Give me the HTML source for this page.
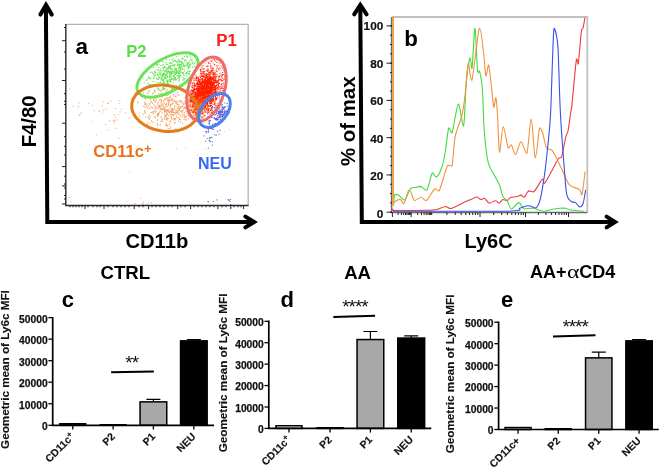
<!DOCTYPE html><html><head><meta charset="utf-8"><style>html,body{margin:0;padding:0;background:#fff;width:660px;height:468px;overflow:hidden}svg{display:block;will-change:transform}</style></head><body><svg width="660" height="468" viewBox="0 0 660 468"><g><path fill="#f6a870" fill-opacity="0.80" d="M114.9 116.3h1.2v1.2h-1.2zM107.8 102.8h1.2v1.2h-1.2zM102.9 101.4h1.2v1.2h-1.2zM115.9 127.8h1.2v1.2h-1.2zM101.6 105.5h1.2v1.2h-1.2zM128.5 117.6h1.2v1.2h-1.2zM118.5 102.9h1.2v1.2h-1.2zM113.8 120.6h1.2v1.2h-1.2zM77.7 106.0h1.2v1.2h-1.2zM79.4 114.1h1.2v1.2h-1.2zM119.5 111.2h1.2v1.2h-1.2zM113.6 114.2h1.2v1.2h-1.2zM72.5 105.5h1.2v1.2h-1.2zM88.1 102.7h1.2v1.2h-1.2zM145.1 105.7h1.2v1.2h-1.2zM113.6 122.7h1.2v1.2h-1.2zM98.7 110.9h1.2v1.2h-1.2zM118.1 113.9h1.2v1.2h-1.2zM80.7 112.0h1.2v1.2h-1.2zM153.9 98.0h1.2v1.2h-1.2zM139.0 115.6h1.2v1.2h-1.2zM95.9 134.0h1.2v1.2h-1.2zM137.0 100.9h1.2v1.2h-1.2zM116.8 119.4h1.2v1.2h-1.2zM109.3 120.2h1.2v1.2h-1.2zM112.8 120.2h1.2v1.2h-1.2zM155.6 107.7h1.2v1.2h-1.2zM120.9 108.2h1.2v1.2h-1.2zM119.2 100.1h1.2v1.2h-1.2zM98.9 110.0h1.2v1.2h-1.2zM139.5 126.9h1.2v1.2h-1.2zM78.4 102.3h1.2v1.2h-1.2zM134.2 92.1h1.2v1.2h-1.2zM102.1 111.3h1.2v1.2h-1.2zM149.8 122.4h1.2v1.2h-1.2zM106.1 108.5h1.2v1.2h-1.2zM107.1 129.4h1.2v1.2h-1.2zM103.2 109.0h1.2v1.2h-1.2zM124.9 112.2h1.2v1.2h-1.2zM110.1 100.5h1.2v1.2h-1.2zM114.9 108.1h1.2v1.2h-1.2zM147.2 121.9h1.2v1.2h-1.2zM113.9 120.3h1.2v1.2h-1.2zM104.9 124.1h1.2v1.2h-1.2zM114.5 119.4h1.2v1.2h-1.2zM78.7 114.9h1.2v1.2h-1.2zM69.0 88.2h1.2v1.2h-1.2zM107.0 102.7h1.2v1.2h-1.2zM118.3 137.9h1.2v1.2h-1.2zM92.1 104.9h1.2v1.2h-1.2z"/><path fill="#f6b080" fill-opacity="0.75" d="M185.6 148.0h1.1v1.1h-1.1zM129.1 172.0h1.1v1.1h-1.1zM157.3 115.6h1.1v1.1h-1.1zM199.6 112.4h1.1v1.1h-1.1zM224.4 131.0h1.1v1.1h-1.1zM94.0 110.3h1.1v1.1h-1.1zM228.5 129.1h1.1v1.1h-1.1zM68.9 197.1h1.1v1.1h-1.1zM197.5 154.8h1.1v1.1h-1.1zM207.4 128.4h1.1v1.1h-1.1zM91.5 120.7h1.1v1.1h-1.1zM140.1 197.6h1.1v1.1h-1.1zM208.2 140.2h1.1v1.1h-1.1zM70.5 200.8h1.1v1.1h-1.1zM176.1 148.3h1.1v1.1h-1.1zM204.4 148.9h1.1v1.1h-1.1z"/><path fill="#f39450" fill-opacity="0.85" d="M167.1 100.0h1.2v1.2h-1.2zM184.0 106.8h1.2v1.2h-1.2zM168.4 102.0h1.2v1.2h-1.2zM161.1 96.1h1.2v1.2h-1.2zM185.6 110.9h1.2v1.2h-1.2zM181.4 112.0h1.2v1.2h-1.2zM158.8 105.4h1.2v1.2h-1.2zM160.2 109.0h1.2v1.2h-1.2zM163.2 106.3h1.2v1.2h-1.2zM150.0 99.3h1.2v1.2h-1.2zM191.9 106.6h1.2v1.2h-1.2zM152.9 111.3h1.2v1.2h-1.2zM189.5 98.3h1.2v1.2h-1.2zM166.0 103.3h1.2v1.2h-1.2zM142.6 113.8h1.2v1.2h-1.2zM167.6 110.7h1.2v1.2h-1.2zM156.9 113.0h1.2v1.2h-1.2zM160.7 107.5h1.2v1.2h-1.2zM154.3 95.8h1.2v1.2h-1.2zM187.2 107.6h1.2v1.2h-1.2zM172.1 110.2h1.2v1.2h-1.2zM162.6 104.1h1.2v1.2h-1.2zM177.2 108.2h1.2v1.2h-1.2zM165.9 109.9h1.2v1.2h-1.2zM183.4 119.0h1.2v1.2h-1.2zM174.1 105.2h1.2v1.2h-1.2zM147.5 116.7h1.2v1.2h-1.2zM181.6 110.5h1.2v1.2h-1.2zM174.4 118.8h1.2v1.2h-1.2zM178.2 120.7h1.2v1.2h-1.2zM159.6 124.1h1.2v1.2h-1.2zM149.5 116.1h1.2v1.2h-1.2zM173.6 119.6h1.2v1.2h-1.2zM154.5 91.0h1.2v1.2h-1.2zM180.7 101.5h1.2v1.2h-1.2zM166.7 118.3h1.2v1.2h-1.2zM171.5 110.9h1.2v1.2h-1.2zM164.5 109.9h1.2v1.2h-1.2zM158.2 93.3h1.2v1.2h-1.2zM167.0 100.1h1.2v1.2h-1.2zM144.5 111.8h1.2v1.2h-1.2zM166.6 113.9h1.2v1.2h-1.2zM155.2 101.6h1.2v1.2h-1.2zM155.4 99.3h1.2v1.2h-1.2zM171.8 102.6h1.2v1.2h-1.2zM172.5 114.1h1.2v1.2h-1.2zM180.4 110.8h1.2v1.2h-1.2zM169.8 95.6h1.2v1.2h-1.2zM160.6 116.5h1.2v1.2h-1.2zM166.7 110.6h1.2v1.2h-1.2zM162.4 120.9h1.2v1.2h-1.2zM170.8 88.2h1.2v1.2h-1.2zM161.1 89.2h1.2v1.2h-1.2zM186.4 113.1h1.2v1.2h-1.2zM153.1 98.4h1.2v1.2h-1.2zM183.5 113.8h1.2v1.2h-1.2zM168.7 109.6h1.2v1.2h-1.2zM167.4 118.1h1.2v1.2h-1.2zM175.4 113.2h1.2v1.2h-1.2zM152.8 113.0h1.2v1.2h-1.2zM157.0 119.5h1.2v1.2h-1.2zM150.6 106.2h1.2v1.2h-1.2zM169.7 96.9h1.2v1.2h-1.2zM160.5 116.7h1.2v1.2h-1.2zM171.6 109.9h1.2v1.2h-1.2zM170.7 99.5h1.2v1.2h-1.2zM164.5 107.7h1.2v1.2h-1.2zM184.0 115.6h1.2v1.2h-1.2zM165.8 125.1h1.2v1.2h-1.2zM160.8 105.1h1.2v1.2h-1.2zM140.6 122.0h1.2v1.2h-1.2zM180.1 121.0h1.2v1.2h-1.2zM177.1 112.4h1.2v1.2h-1.2zM171.3 107.9h1.2v1.2h-1.2zM165.1 110.1h1.2v1.2h-1.2zM188.2 118.4h1.2v1.2h-1.2zM168.0 104.1h1.2v1.2h-1.2zM157.0 124.6h1.2v1.2h-1.2zM174.9 111.7h1.2v1.2h-1.2zM164.7 98.3h1.2v1.2h-1.2zM165.9 118.5h1.2v1.2h-1.2zM162.9 107.0h1.2v1.2h-1.2zM164.8 110.7h1.2v1.2h-1.2zM146.2 104.6h1.2v1.2h-1.2zM154.9 117.1h1.2v1.2h-1.2zM156.5 114.2h1.2v1.2h-1.2zM189.6 109.9h1.2v1.2h-1.2zM159.4 110.7h1.2v1.2h-1.2zM169.4 100.2h1.2v1.2h-1.2zM171.6 130.9h1.2v1.2h-1.2zM164.7 107.5h1.2v1.2h-1.2zM153.1 111.1h1.2v1.2h-1.2zM152.3 96.6h1.2v1.2h-1.2zM187.0 103.5h1.2v1.2h-1.2zM180.9 127.2h1.2v1.2h-1.2zM170.8 116.0h1.2v1.2h-1.2zM195.3 111.9h1.2v1.2h-1.2zM161.7 95.4h1.2v1.2h-1.2zM166.5 124.7h1.2v1.2h-1.2zM182.6 102.5h1.2v1.2h-1.2zM156.8 103.3h1.2v1.2h-1.2zM172.3 108.5h1.2v1.2h-1.2zM170.6 113.4h1.2v1.2h-1.2zM163.9 109.0h1.2v1.2h-1.2zM171.0 109.6h1.2v1.2h-1.2zM172.4 129.5h1.2v1.2h-1.2zM176.1 111.7h1.2v1.2h-1.2zM144.1 110.6h1.2v1.2h-1.2zM143.0 92.3h1.2v1.2h-1.2zM178.9 118.7h1.2v1.2h-1.2zM168.3 92.8h1.2v1.2h-1.2zM163.8 102.6h1.2v1.2h-1.2zM172.1 102.7h1.2v1.2h-1.2zM151.8 107.2h1.2v1.2h-1.2zM167.2 98.3h1.2v1.2h-1.2zM171.2 98.8h1.2v1.2h-1.2zM181.9 122.7h1.2v1.2h-1.2zM183.7 107.4h1.2v1.2h-1.2zM175.3 109.7h1.2v1.2h-1.2zM163.1 105.9h1.2v1.2h-1.2zM152.0 93.2h1.2v1.2h-1.2zM179.3 109.7h1.2v1.2h-1.2zM169.6 120.3h1.2v1.2h-1.2zM145.1 98.9h1.2v1.2h-1.2zM169.9 114.2h1.2v1.2h-1.2zM161.3 119.5h1.2v1.2h-1.2zM172.6 98.4h1.2v1.2h-1.2zM154.0 116.2h1.2v1.2h-1.2zM177.1 92.1h1.2v1.2h-1.2zM185.9 118.5h1.2v1.2h-1.2zM187.2 108.8h1.2v1.2h-1.2zM165.5 98.3h1.2v1.2h-1.2zM190.9 106.7h1.2v1.2h-1.2zM172.6 93.8h1.2v1.2h-1.2zM161.3 119.0h1.2v1.2h-1.2zM149.2 118.2h1.2v1.2h-1.2zM174.1 100.3h1.2v1.2h-1.2zM161.7 104.5h1.2v1.2h-1.2zM168.1 104.6h1.2v1.2h-1.2zM157.0 105.4h1.2v1.2h-1.2zM155.6 95.2h1.2v1.2h-1.2zM166.1 118.6h1.2v1.2h-1.2zM146.8 107.1h1.2v1.2h-1.2zM160.3 99.1h1.2v1.2h-1.2zM180.6 106.5h1.2v1.2h-1.2zM189.9 105.2h1.2v1.2h-1.2zM173.7 108.5h1.2v1.2h-1.2zM156.7 114.4h1.2v1.2h-1.2zM165.0 115.7h1.2v1.2h-1.2zM168.9 99.2h1.2v1.2h-1.2zM166.5 110.3h1.2v1.2h-1.2zM182.5 102.9h1.2v1.2h-1.2zM169.9 92.9h1.2v1.2h-1.2zM178.5 100.6h1.2v1.2h-1.2zM143.0 105.9h1.2v1.2h-1.2zM185.5 97.1h1.2v1.2h-1.2zM154.0 100.5h1.2v1.2h-1.2zM151.8 111.6h1.2v1.2h-1.2zM157.8 101.3h1.2v1.2h-1.2zM177.1 103.7h1.2v1.2h-1.2zM175.4 101.2h1.2v1.2h-1.2zM153.7 89.5h1.2v1.2h-1.2zM194.2 110.5h1.2v1.2h-1.2zM171.4 110.2h1.2v1.2h-1.2zM170.1 110.8h1.2v1.2h-1.2zM195.9 103.4h1.2v1.2h-1.2zM147.8 96.9h1.2v1.2h-1.2zM148.5 114.8h1.2v1.2h-1.2zM180.7 102.1h1.2v1.2h-1.2zM149.2 103.8h1.2v1.2h-1.2zM176.8 100.4h1.2v1.2h-1.2zM183.9 101.4h1.2v1.2h-1.2zM166.1 94.5h1.2v1.2h-1.2zM152.5 121.8h1.2v1.2h-1.2zM179.9 107.6h1.2v1.2h-1.2zM158.6 89.6h1.2v1.2h-1.2zM162.6 108.9h1.2v1.2h-1.2zM167.0 108.9h1.2v1.2h-1.2zM152.5 107.2h1.2v1.2h-1.2zM165.7 122.7h1.2v1.2h-1.2zM194.1 112.3h1.2v1.2h-1.2zM157.5 107.9h1.2v1.2h-1.2zM160.6 101.5h1.2v1.2h-1.2zM168.6 99.6h1.2v1.2h-1.2zM176.5 110.2h1.2v1.2h-1.2zM171.7 108.7h1.2v1.2h-1.2zM159.2 99.2h1.2v1.2h-1.2zM165.5 104.1h1.2v1.2h-1.2zM171.2 110.4h1.2v1.2h-1.2zM149.0 108.0h1.2v1.2h-1.2zM150.2 101.3h1.2v1.2h-1.2zM166.8 88.9h1.2v1.2h-1.2zM169.1 111.7h1.2v1.2h-1.2zM166.4 105.5h1.2v1.2h-1.2zM164.2 99.6h1.2v1.2h-1.2zM165.0 104.0h1.2v1.2h-1.2zM170.9 98.3h1.2v1.2h-1.2zM171.1 111.9h1.2v1.2h-1.2zM166.6 105.4h1.2v1.2h-1.2zM178.0 94.6h1.2v1.2h-1.2zM174.0 113.3h1.2v1.2h-1.2zM171.4 114.3h1.2v1.2h-1.2zM159.3 106.2h1.2v1.2h-1.2zM176.2 115.5h1.2v1.2h-1.2zM173.0 95.4h1.2v1.2h-1.2zM173.8 122.6h1.2v1.2h-1.2zM181.7 114.3h1.2v1.2h-1.2zM145.1 116.3h1.2v1.2h-1.2zM175.3 96.0h1.2v1.2h-1.2zM150.9 101.2h1.2v1.2h-1.2zM186.2 108.8h1.2v1.2h-1.2zM169.3 127.8h1.2v1.2h-1.2zM190.2 112.1h1.2v1.2h-1.2zM166.4 97.0h1.2v1.2h-1.2zM157.8 112.9h1.2v1.2h-1.2zM173.3 111.9h1.2v1.2h-1.2zM182.9 104.3h1.2v1.2h-1.2zM166.2 117.1h1.2v1.2h-1.2zM174.6 121.7h1.2v1.2h-1.2zM173.9 107.7h1.2v1.2h-1.2zM174.4 100.8h1.2v1.2h-1.2zM144.5 112.6h1.2v1.2h-1.2zM166.8 112.9h1.2v1.2h-1.2zM145.0 103.1h1.2v1.2h-1.2zM160.9 100.3h1.2v1.2h-1.2zM137.2 102.3h1.2v1.2h-1.2zM179.9 115.5h1.2v1.2h-1.2zM159.7 108.7h1.2v1.2h-1.2zM165.5 115.1h1.2v1.2h-1.2zM175.1 128.2h1.2v1.2h-1.2zM183.3 115.3h1.2v1.2h-1.2zM171.1 118.4h1.2v1.2h-1.2zM160.6 108.6h1.2v1.2h-1.2zM177.8 131.1h1.2v1.2h-1.2zM165.9 109.2h1.2v1.2h-1.2zM168.9 123.7h1.2v1.2h-1.2zM165.5 124.5h1.2v1.2h-1.2zM154.9 106.3h1.2v1.2h-1.2zM164.2 117.4h1.2v1.2h-1.2zM184.6 97.1h1.2v1.2h-1.2zM154.8 111.6h1.2v1.2h-1.2zM161.0 93.6h1.2v1.2h-1.2zM181.7 116.9h1.2v1.2h-1.2zM175.5 106.3h1.2v1.2h-1.2zM182.6 109.6h1.2v1.2h-1.2zM184.5 103.1h1.2v1.2h-1.2zM155.9 110.4h1.2v1.2h-1.2zM157.3 115.3h1.2v1.2h-1.2zM172.9 101.4h1.2v1.2h-1.2zM169.5 106.7h1.2v1.2h-1.2zM181.6 105.5h1.2v1.2h-1.2zM160.2 121.1h1.2v1.2h-1.2zM168.6 112.3h1.2v1.2h-1.2zM189.4 111.8h1.2v1.2h-1.2zM154.3 109.3h1.2v1.2h-1.2zM175.4 102.7h1.2v1.2h-1.2zM147.2 92.6h1.2v1.2h-1.2zM178.3 103.8h1.2v1.2h-1.2zM165.7 111.8h1.2v1.2h-1.2zM177.0 107.9h1.2v1.2h-1.2zM176.2 102.2h1.2v1.2h-1.2zM164.4 99.2h1.2v1.2h-1.2zM183.7 111.9h1.2v1.2h-1.2zM158.2 105.1h1.2v1.2h-1.2zM164.0 116.5h1.2v1.2h-1.2zM147.3 96.6h1.2v1.2h-1.2zM181.4 110.8h1.2v1.2h-1.2zM165.3 105.9h1.2v1.2h-1.2zM184.1 117.3h1.2v1.2h-1.2zM178.0 106.3h1.2v1.2h-1.2zM174.9 117.9h1.2v1.2h-1.2zM139.0 112.4h1.2v1.2h-1.2zM164.7 113.9h1.2v1.2h-1.2zM177.9 108.0h1.2v1.2h-1.2zM144.1 110.3h1.2v1.2h-1.2zM158.2 105.3h1.2v1.2h-1.2zM160.1 105.4h1.2v1.2h-1.2zM170.0 121.5h1.2v1.2h-1.2zM195.4 114.1h1.2v1.2h-1.2zM144.3 97.6h1.2v1.2h-1.2zM152.0 102.7h1.2v1.2h-1.2zM171.9 90.3h1.2v1.2h-1.2zM174.9 95.7h1.2v1.2h-1.2zM172.3 109.5h1.2v1.2h-1.2zM163.8 108.7h1.2v1.2h-1.2zM161.4 102.9h1.2v1.2h-1.2zM144.7 106.4h1.2v1.2h-1.2zM185.3 119.6h1.2v1.2h-1.2zM156.6 123.0h1.2v1.2h-1.2zM167.3 109.2h1.2v1.2h-1.2zM163.8 110.3h1.2v1.2h-1.2zM162.1 108.3h1.2v1.2h-1.2zM153.5 104.2h1.2v1.2h-1.2zM164.0 114.8h1.2v1.2h-1.2zM179.4 100.4h1.2v1.2h-1.2zM163.9 118.7h1.2v1.2h-1.2zM171.6 111.7h1.2v1.2h-1.2zM190.5 106.3h1.2v1.2h-1.2zM169.9 105.0h1.2v1.2h-1.2zM159.4 103.5h1.2v1.2h-1.2zM176.4 117.3h1.2v1.2h-1.2zM189.5 97.1h1.2v1.2h-1.2zM178.8 108.6h1.2v1.2h-1.2zM158.0 114.0h1.2v1.2h-1.2zM158.1 87.6h1.2v1.2h-1.2zM165.0 94.4h1.2v1.2h-1.2zM158.5 112.4h1.2v1.2h-1.2zM170.1 126.3h1.2v1.2h-1.2zM167.4 94.4h1.2v1.2h-1.2zM158.8 99.4h1.2v1.2h-1.2zM150.5 111.9h1.2v1.2h-1.2zM161.8 89.2h1.2v1.2h-1.2zM177.8 110.3h1.2v1.2h-1.2zM172.8 111.7h1.2v1.2h-1.2zM176.7 111.6h1.2v1.2h-1.2zM184.5 116.6h1.2v1.2h-1.2zM172.9 114.8h1.2v1.2h-1.2zM148.0 105.5h1.2v1.2h-1.2zM164.1 111.6h1.2v1.2h-1.2zM146.9 123.5h1.2v1.2h-1.2zM171.1 98.2h1.2v1.2h-1.2zM144.7 103.9h1.2v1.2h-1.2zM167.8 102.7h1.2v1.2h-1.2zM170.2 103.8h1.2v1.2h-1.2zM176.7 103.9h1.2v1.2h-1.2zM166.1 119.6h1.2v1.2h-1.2zM162.7 100.8h1.2v1.2h-1.2zM180.5 100.2h1.2v1.2h-1.2zM161.3 108.8h1.2v1.2h-1.2zM155.8 98.6h1.2v1.2h-1.2zM164.3 88.3h1.2v1.2h-1.2zM148.5 103.1h1.2v1.2h-1.2zM170.3 108.4h1.2v1.2h-1.2zM144.1 102.0h1.2v1.2h-1.2zM178.3 117.1h1.2v1.2h-1.2zM168.1 101.1h1.2v1.2h-1.2zM177.6 105.5h1.2v1.2h-1.2zM152.9 99.8h1.2v1.2h-1.2zM187.8 115.0h1.2v1.2h-1.2zM184.7 107.5h1.2v1.2h-1.2zM181.8 105.9h1.2v1.2h-1.2zM179.3 106.5h1.2v1.2h-1.2zM166.4 113.1h1.2v1.2h-1.2zM185.5 107.5h1.2v1.2h-1.2zM144.2 103.8h1.2v1.2h-1.2zM168.1 111.1h1.2v1.2h-1.2zM185.8 115.7h1.2v1.2h-1.2zM180.8 100.7h1.2v1.2h-1.2zM178.4 114.0h1.2v1.2h-1.2zM167.6 128.0h1.2v1.2h-1.2zM155.3 107.1h1.2v1.2h-1.2zM173.3 118.3h1.2v1.2h-1.2zM161.5 112.2h1.2v1.2h-1.2zM164.0 110.7h1.2v1.2h-1.2zM167.8 98.4h1.2v1.2h-1.2zM166.5 118.6h1.2v1.2h-1.2zM154.9 105.7h1.2v1.2h-1.2zM178.7 100.7h1.2v1.2h-1.2zM172.0 99.9h1.2v1.2h-1.2zM196.3 111.8h1.2v1.2h-1.2zM178.1 112.6h1.2v1.2h-1.2zM167.3 125.5h1.2v1.2h-1.2zM148.2 117.9h1.2v1.2h-1.2zM165.4 123.9h1.2v1.2h-1.2zM171.5 103.7h1.2v1.2h-1.2zM170.8 117.8h1.2v1.2h-1.2zM167.8 114.9h1.2v1.2h-1.2zM163.7 87.9h1.2v1.2h-1.2zM179.5 118.7h1.2v1.2h-1.2zM170.0 111.0h1.2v1.2h-1.2zM183.0 107.5h1.2v1.2h-1.2zM158.5 106.8h1.2v1.2h-1.2zM186.4 98.6h1.2v1.2h-1.2zM185.4 106.0h1.2v1.2h-1.2zM151.0 120.3h1.2v1.2h-1.2zM168.5 96.9h1.2v1.2h-1.2zM161.7 118.5h1.2v1.2h-1.2zM185.1 108.1h1.2v1.2h-1.2zM172.6 117.9h1.2v1.2h-1.2zM158.6 112.3h1.2v1.2h-1.2z"/><path fill="#48dc30" fill-opacity="0.85" d="M169.9 69.2h1.1v1.1h-1.1zM166.7 75.6h1.1v1.1h-1.1zM170.5 68.6h1.1v1.1h-1.1zM170.8 81.0h1.1v1.1h-1.1zM177.3 75.6h1.1v1.1h-1.1zM187.4 67.5h1.1v1.1h-1.1zM180.1 65.0h1.1v1.1h-1.1zM146.9 79.2h1.1v1.1h-1.1zM182.0 72.1h1.1v1.1h-1.1zM180.1 66.8h1.1v1.1h-1.1zM179.2 72.7h1.1v1.1h-1.1zM174.5 78.3h1.1v1.1h-1.1zM148.6 90.3h1.1v1.1h-1.1zM163.5 84.1h1.1v1.1h-1.1zM166.5 68.5h1.1v1.1h-1.1zM173.2 64.4h1.1v1.1h-1.1zM156.6 69.1h1.1v1.1h-1.1zM173.3 75.0h1.1v1.1h-1.1zM183.1 64.6h1.1v1.1h-1.1zM183.9 65.3h1.1v1.1h-1.1zM172.8 75.8h1.1v1.1h-1.1zM182.8 63.2h1.1v1.1h-1.1zM168.7 72.7h1.1v1.1h-1.1zM170.0 66.4h1.1v1.1h-1.1zM182.3 63.1h1.1v1.1h-1.1zM174.5 64.3h1.1v1.1h-1.1zM177.3 71.9h1.1v1.1h-1.1zM173.8 86.1h1.1v1.1h-1.1zM182.0 79.6h1.1v1.1h-1.1zM180.6 62.0h1.1v1.1h-1.1zM169.1 76.9h1.1v1.1h-1.1zM172.8 71.9h1.1v1.1h-1.1zM162.9 63.7h1.1v1.1h-1.1zM162.3 61.0h1.1v1.1h-1.1zM173.8 65.5h1.1v1.1h-1.1zM163.2 75.4h1.1v1.1h-1.1zM170.4 62.2h1.1v1.1h-1.1zM148.8 77.4h1.1v1.1h-1.1zM145.9 79.8h1.1v1.1h-1.1zM186.5 55.7h1.1v1.1h-1.1zM174.9 60.0h1.1v1.1h-1.1zM174.3 68.3h1.1v1.1h-1.1zM173.2 75.6h1.1v1.1h-1.1zM192.4 61.7h1.1v1.1h-1.1zM170.2 65.7h1.1v1.1h-1.1zM177.8 66.8h1.1v1.1h-1.1zM181.2 66.3h1.1v1.1h-1.1zM171.5 78.9h1.1v1.1h-1.1zM165.5 69.8h1.1v1.1h-1.1zM164.5 66.0h1.1v1.1h-1.1zM181.3 85.0h1.1v1.1h-1.1zM181.3 58.3h1.1v1.1h-1.1zM160.9 75.4h1.1v1.1h-1.1zM180.6 60.8h1.1v1.1h-1.1zM167.1 81.5h1.1v1.1h-1.1zM180.5 64.3h1.1v1.1h-1.1zM154.4 70.5h1.1v1.1h-1.1zM156.9 64.0h1.1v1.1h-1.1zM178.4 63.6h1.1v1.1h-1.1zM183.5 79.4h1.1v1.1h-1.1zM181.5 57.9h1.1v1.1h-1.1zM185.5 72.9h1.1v1.1h-1.1zM160.5 71.5h1.1v1.1h-1.1zM165.6 63.7h1.1v1.1h-1.1zM158.7 77.7h1.1v1.1h-1.1zM170.0 74.4h1.1v1.1h-1.1zM174.4 69.0h1.1v1.1h-1.1zM169.7 68.0h1.1v1.1h-1.1zM174.2 72.4h1.1v1.1h-1.1zM159.7 74.3h1.1v1.1h-1.1zM182.1 68.8h1.1v1.1h-1.1zM171.0 87.9h1.1v1.1h-1.1zM181.5 68.1h1.1v1.1h-1.1zM167.9 70.3h1.1v1.1h-1.1zM167.8 70.3h1.1v1.1h-1.1zM179.1 64.9h1.1v1.1h-1.1zM163.1 68.1h1.1v1.1h-1.1zM168.5 67.3h1.1v1.1h-1.1zM173.4 79.0h1.1v1.1h-1.1zM177.8 72.5h1.1v1.1h-1.1zM176.2 70.0h1.1v1.1h-1.1zM169.6 71.1h1.1v1.1h-1.1zM177.0 61.0h1.1v1.1h-1.1zM187.2 63.5h1.1v1.1h-1.1zM162.0 74.1h1.1v1.1h-1.1zM164.9 77.3h1.1v1.1h-1.1zM167.6 83.1h1.1v1.1h-1.1zM155.8 64.3h1.1v1.1h-1.1zM157.2 65.4h1.1v1.1h-1.1zM175.0 78.2h1.1v1.1h-1.1zM174.9 60.3h1.1v1.1h-1.1zM169.2 87.0h1.1v1.1h-1.1zM175.6 70.0h1.1v1.1h-1.1zM187.1 64.4h1.1v1.1h-1.1zM178.0 73.2h1.1v1.1h-1.1zM161.7 70.0h1.1v1.1h-1.1zM169.5 66.3h1.1v1.1h-1.1zM171.6 72.9h1.1v1.1h-1.1zM170.1 71.9h1.1v1.1h-1.1zM180.3 75.0h1.1v1.1h-1.1zM163.8 70.6h1.1v1.1h-1.1zM150.5 77.5h1.1v1.1h-1.1zM178.2 68.8h1.1v1.1h-1.1zM159.4 76.5h1.1v1.1h-1.1zM174.0 74.6h1.1v1.1h-1.1zM164.5 74.4h1.1v1.1h-1.1zM147.8 77.3h1.1v1.1h-1.1zM168.9 75.4h1.1v1.1h-1.1zM165.2 69.9h1.1v1.1h-1.1zM171.3 72.4h1.1v1.1h-1.1zM165.0 62.0h1.1v1.1h-1.1zM167.6 68.1h1.1v1.1h-1.1zM166.6 76.8h1.1v1.1h-1.1zM182.1 72.9h1.1v1.1h-1.1zM169.4 80.4h1.1v1.1h-1.1zM188.9 70.8h1.1v1.1h-1.1zM187.2 62.1h1.1v1.1h-1.1zM172.7 77.8h1.1v1.1h-1.1zM157.3 82.1h1.1v1.1h-1.1zM164.8 73.4h1.1v1.1h-1.1zM149.5 78.3h1.1v1.1h-1.1zM174.7 77.1h1.1v1.1h-1.1zM182.9 65.1h1.1v1.1h-1.1zM167.2 68.6h1.1v1.1h-1.1zM175.7 68.0h1.1v1.1h-1.1zM184.5 77.9h1.1v1.1h-1.1zM166.8 63.8h1.1v1.1h-1.1zM157.6 69.4h1.1v1.1h-1.1zM162.8 87.1h1.1v1.1h-1.1zM169.6 62.0h1.1v1.1h-1.1zM183.5 74.8h1.1v1.1h-1.1zM165.8 70.5h1.1v1.1h-1.1zM169.1 75.8h1.1v1.1h-1.1zM183.0 74.5h1.1v1.1h-1.1zM189.5 70.8h1.1v1.1h-1.1zM189.5 66.9h1.1v1.1h-1.1zM154.3 81.2h1.1v1.1h-1.1zM174.3 67.8h1.1v1.1h-1.1zM181.1 64.0h1.1v1.1h-1.1zM166.3 86.1h1.1v1.1h-1.1zM180.2 68.9h1.1v1.1h-1.1zM185.9 72.0h1.1v1.1h-1.1zM162.9 73.8h1.1v1.1h-1.1zM161.6 79.5h1.1v1.1h-1.1zM183.8 61.5h1.1v1.1h-1.1zM165.8 90.8h1.1v1.1h-1.1zM162.9 68.0h1.1v1.1h-1.1zM176.1 72.9h1.1v1.1h-1.1zM166.6 81.0h1.1v1.1h-1.1zM163.5 70.0h1.1v1.1h-1.1zM176.5 75.2h1.1v1.1h-1.1zM165.9 78.0h1.1v1.1h-1.1zM168.5 84.4h1.1v1.1h-1.1zM171.0 71.6h1.1v1.1h-1.1zM183.0 72.3h1.1v1.1h-1.1zM187.3 65.6h1.1v1.1h-1.1zM163.5 72.9h1.1v1.1h-1.1zM179.6 72.0h1.1v1.1h-1.1zM189.1 65.3h1.1v1.1h-1.1zM188.9 73.6h1.1v1.1h-1.1zM169.0 62.6h1.1v1.1h-1.1zM154.1 71.6h1.1v1.1h-1.1zM187.2 56.9h1.1v1.1h-1.1zM187.8 67.3h1.1v1.1h-1.1zM194.6 66.5h1.1v1.1h-1.1zM170.2 71.5h1.1v1.1h-1.1zM173.5 72.4h1.1v1.1h-1.1zM165.9 75.3h1.1v1.1h-1.1zM172.0 65.2h1.1v1.1h-1.1zM176.8 75.5h1.1v1.1h-1.1zM173.9 76.7h1.1v1.1h-1.1zM157.7 88.6h1.1v1.1h-1.1zM167.2 79.4h1.1v1.1h-1.1zM164.2 78.2h1.1v1.1h-1.1zM190.4 63.5h1.1v1.1h-1.1zM170.3 62.4h1.1v1.1h-1.1zM194.0 72.9h1.1v1.1h-1.1zM171.6 70.6h1.1v1.1h-1.1zM156.6 87.5h1.1v1.1h-1.1zM188.0 66.8h1.1v1.1h-1.1zM165.3 85.9h1.1v1.1h-1.1zM157.4 78.8h1.1v1.1h-1.1zM178.0 75.2h1.1v1.1h-1.1zM177.9 71.5h1.1v1.1h-1.1zM159.2 69.7h1.1v1.1h-1.1zM170.4 67.6h1.1v1.1h-1.1zM153.2 73.4h1.1v1.1h-1.1zM160.5 64.8h1.1v1.1h-1.1zM151.5 71.6h1.1v1.1h-1.1zM175.4 73.1h1.1v1.1h-1.1zM167.3 81.6h1.1v1.1h-1.1zM168.5 71.6h1.1v1.1h-1.1zM190.1 59.0h1.1v1.1h-1.1zM154.7 72.1h1.1v1.1h-1.1zM176.8 71.5h1.1v1.1h-1.1zM153.4 75.4h1.1v1.1h-1.1zM179.9 71.8h1.1v1.1h-1.1zM166.8 79.7h1.1v1.1h-1.1zM172.6 58.2h1.1v1.1h-1.1zM169.8 76.4h1.1v1.1h-1.1zM158.6 63.7h1.1v1.1h-1.1zM171.3 78.1h1.1v1.1h-1.1zM186.8 72.7h1.1v1.1h-1.1zM183.6 66.5h1.1v1.1h-1.1zM161.0 83.1h1.1v1.1h-1.1zM189.5 55.1h1.1v1.1h-1.1zM193.7 71.4h1.1v1.1h-1.1zM189.4 61.8h1.1v1.1h-1.1zM157.9 78.8h1.1v1.1h-1.1zM141.7 76.7h1.1v1.1h-1.1zM169.8 65.8h1.1v1.1h-1.1zM169.8 72.5h1.1v1.1h-1.1zM175.4 79.1h1.1v1.1h-1.1zM162.1 75.2h1.1v1.1h-1.1zM178.2 59.1h1.1v1.1h-1.1zM164.6 66.4h1.1v1.1h-1.1zM178.6 80.4h1.1v1.1h-1.1zM164.3 78.2h1.1v1.1h-1.1zM158.2 71.4h1.1v1.1h-1.1zM162.8 88.2h1.1v1.1h-1.1zM166.2 80.6h1.1v1.1h-1.1zM170.8 78.7h1.1v1.1h-1.1zM176.2 71.7h1.1v1.1h-1.1zM177.0 64.8h1.1v1.1h-1.1zM161.9 64.9h1.1v1.1h-1.1zM162.4 66.9h1.1v1.1h-1.1zM167.3 67.5h1.1v1.1h-1.1zM174.6 73.9h1.1v1.1h-1.1zM153.4 76.7h1.1v1.1h-1.1zM163.8 82.3h1.1v1.1h-1.1zM194.0 65.7h1.1v1.1h-1.1zM172.8 82.5h1.1v1.1h-1.1zM159.8 90.3h1.1v1.1h-1.1zM160.9 79.7h1.1v1.1h-1.1zM169.9 74.0h1.1v1.1h-1.1zM153.1 77.8h1.1v1.1h-1.1zM178.0 70.2h1.1v1.1h-1.1zM185.8 64.7h1.1v1.1h-1.1zM168.7 59.5h1.1v1.1h-1.1zM162.2 87.6h1.1v1.1h-1.1zM163.1 81.1h1.1v1.1h-1.1zM167.9 66.5h1.1v1.1h-1.1zM166.4 71.4h1.1v1.1h-1.1zM169.0 79.4h1.1v1.1h-1.1zM177.5 64.5h1.1v1.1h-1.1zM162.7 79.5h1.1v1.1h-1.1zM174.2 78.4h1.1v1.1h-1.1zM171.0 71.3h1.1v1.1h-1.1zM159.4 72.5h1.1v1.1h-1.1zM159.4 76.3h1.1v1.1h-1.1zM169.6 79.0h1.1v1.1h-1.1zM166.9 73.5h1.1v1.1h-1.1zM163.6 89.2h1.1v1.1h-1.1zM183.5 78.8h1.1v1.1h-1.1zM185.8 75.2h1.1v1.1h-1.1zM171.5 77.7h1.1v1.1h-1.1zM190.8 73.9h1.1v1.1h-1.1zM179.2 73.6h1.1v1.1h-1.1zM184.2 59.9h1.1v1.1h-1.1zM173.8 64.3h1.1v1.1h-1.1zM162.2 72.9h1.1v1.1h-1.1zM170.8 73.8h1.1v1.1h-1.1zM172.5 60.8h1.1v1.1h-1.1zM179.2 65.1h1.1v1.1h-1.1zM172.8 75.8h1.1v1.1h-1.1zM171.2 59.6h1.1v1.1h-1.1zM154.0 90.0h1.1v1.1h-1.1zM175.9 68.9h1.1v1.1h-1.1zM183.9 56.0h1.1v1.1h-1.1zM178.8 79.4h1.1v1.1h-1.1zM168.3 70.9h1.1v1.1h-1.1zM171.8 68.7h1.1v1.1h-1.1zM186.9 56.4h1.1v1.1h-1.1zM177.9 58.9h1.1v1.1h-1.1zM179.4 66.9h1.1v1.1h-1.1zM142.1 89.2h1.1v1.1h-1.1zM158.2 76.6h1.1v1.1h-1.1zM186.1 55.3h1.1v1.1h-1.1zM164.5 87.4h1.1v1.1h-1.1zM178.5 80.1h1.1v1.1h-1.1zM172.8 64.7h1.1v1.1h-1.1zM175.3 79.6h1.1v1.1h-1.1zM182.9 65.7h1.1v1.1h-1.1zM172.2 71.0h1.1v1.1h-1.1zM171.8 87.0h1.1v1.1h-1.1zM168.3 65.4h1.1v1.1h-1.1zM168.9 79.4h1.1v1.1h-1.1zM179.0 66.9h1.1v1.1h-1.1zM164.3 76.6h1.1v1.1h-1.1zM148.3 75.7h1.1v1.1h-1.1zM179.6 63.9h1.1v1.1h-1.1zM180.4 76.5h1.1v1.1h-1.1zM179.6 67.8h1.1v1.1h-1.1zM170.3 78.6h1.1v1.1h-1.1zM173.9 64.3h1.1v1.1h-1.1zM172.3 70.6h1.1v1.1h-1.1zM148.7 84.1h1.1v1.1h-1.1zM167.3 71.4h1.1v1.1h-1.1zM151.8 80.9h1.1v1.1h-1.1zM171.9 72.9h1.1v1.1h-1.1zM161.0 83.2h1.1v1.1h-1.1zM157.2 78.8h1.1v1.1h-1.1zM184.8 59.3h1.1v1.1h-1.1zM169.7 81.6h1.1v1.1h-1.1zM166.6 72.8h1.1v1.1h-1.1zM178.1 76.6h1.1v1.1h-1.1zM143.7 81.9h1.1v1.1h-1.1zM156.7 72.5h1.1v1.1h-1.1zM159.3 72.9h1.1v1.1h-1.1zM172.5 64.9h1.1v1.1h-1.1zM174.8 73.5h1.1v1.1h-1.1zM164.0 77.6h1.1v1.1h-1.1zM192.0 63.0h1.1v1.1h-1.1zM164.4 75.9h1.1v1.1h-1.1zM162.3 79.7h1.1v1.1h-1.1zM179.2 61.5h1.1v1.1h-1.1zM173.3 79.8h1.1v1.1h-1.1zM166.9 76.4h1.1v1.1h-1.1zM157.5 74.1h1.1v1.1h-1.1zM173.2 87.7h1.1v1.1h-1.1zM165.7 71.7h1.1v1.1h-1.1zM165.1 74.7h1.1v1.1h-1.1zM180.0 68.8h1.1v1.1h-1.1zM195.9 59.8h1.1v1.1h-1.1zM189.2 64.1h1.1v1.1h-1.1zM174.1 59.9h1.1v1.1h-1.1zM170.3 72.4h1.1v1.1h-1.1zM162.3 61.5h1.1v1.1h-1.1zM180.7 64.1h1.1v1.1h-1.1zM166.2 73.4h1.1v1.1h-1.1zM170.8 75.8h1.1v1.1h-1.1zM154.7 75.0h1.1v1.1h-1.1zM175.7 70.9h1.1v1.1h-1.1zM165.9 71.2h1.1v1.1h-1.1zM162.4 77.1h1.1v1.1h-1.1zM181.9 58.4h1.1v1.1h-1.1zM191.9 66.8h1.1v1.1h-1.1zM169.4 79.4h1.1v1.1h-1.1zM149.9 71.8h1.1v1.1h-1.1zM156.1 78.1h1.1v1.1h-1.1zM166.7 71.2h1.1v1.1h-1.1zM166.2 59.3h1.1v1.1h-1.1zM173.0 60.8h1.1v1.1h-1.1zM163.2 74.0h1.1v1.1h-1.1zM154.5 71.8h1.1v1.1h-1.1zM160.6 78.5h1.1v1.1h-1.1zM180.5 71.3h1.1v1.1h-1.1zM158.2 74.0h1.1v1.1h-1.1zM163.1 80.5h1.1v1.1h-1.1zM153.1 92.2h1.1v1.1h-1.1zM164.0 70.7h1.1v1.1h-1.1zM179.2 75.6h1.1v1.1h-1.1zM179.3 75.7h1.1v1.1h-1.1zM177.5 78.0h1.1v1.1h-1.1zM185.7 63.3h1.1v1.1h-1.1zM188.7 63.6h1.1v1.1h-1.1zM170.0 66.2h1.1v1.1h-1.1zM171.3 78.3h1.1v1.1h-1.1zM159.3 84.2h1.1v1.1h-1.1zM176.8 71.3h1.1v1.1h-1.1zM146.8 85.8h1.1v1.1h-1.1zM176.8 63.5h1.1v1.1h-1.1zM165.3 58.0h1.1v1.1h-1.1zM177.4 63.9h1.1v1.1h-1.1zM175.8 56.0h1.1v1.1h-1.1zM179.0 66.2h1.1v1.1h-1.1zM178.1 61.5h1.1v1.1h-1.1zM172.3 88.6h1.1v1.1h-1.1zM160.4 73.4h1.1v1.1h-1.1zM165.6 68.0h1.1v1.1h-1.1zM191.0 74.0h1.1v1.1h-1.1zM158.5 66.9h1.1v1.1h-1.1zM188.8 70.6h1.1v1.1h-1.1zM185.0 73.2h1.1v1.1h-1.1zM161.7 76.7h1.1v1.1h-1.1zM151.8 73.0h1.1v1.1h-1.1zM180.9 61.8h1.1v1.1h-1.1zM167.4 80.7h1.1v1.1h-1.1zM193.9 63.0h1.1v1.1h-1.1zM159.5 82.0h1.1v1.1h-1.1zM185.9 60.3h1.1v1.1h-1.1zM166.6 82.8h1.1v1.1h-1.1zM170.0 64.9h1.1v1.1h-1.1zM165.3 70.2h1.1v1.1h-1.1zM175.7 70.7h1.1v1.1h-1.1zM187.3 68.5h1.1v1.1h-1.1zM155.7 84.5h1.1v1.1h-1.1zM183.6 68.7h1.1v1.1h-1.1zM181.8 62.2h1.1v1.1h-1.1zM164.3 83.4h1.1v1.1h-1.1zM153.0 66.8h1.1v1.1h-1.1zM181.2 61.3h1.1v1.1h-1.1zM164.0 66.1h1.1v1.1h-1.1zM153.3 74.1h1.1v1.1h-1.1zM169.1 76.4h1.1v1.1h-1.1zM148.6 91.2h1.1v1.1h-1.1zM155.2 73.7h1.1v1.1h-1.1zM179.4 67.2h1.1v1.1h-1.1zM160.7 92.4h1.1v1.1h-1.1zM163.1 79.0h1.1v1.1h-1.1zM178.8 78.6h1.1v1.1h-1.1zM170.1 80.6h1.1v1.1h-1.1zM167.3 83.1h1.1v1.1h-1.1zM162.2 74.9h1.1v1.1h-1.1zM194.4 61.5h1.1v1.1h-1.1zM180.5 83.9h1.1v1.1h-1.1zM173.4 65.1h1.1v1.1h-1.1zM176.4 60.6h1.1v1.1h-1.1zM188.6 71.5h1.1v1.1h-1.1zM163.5 72.2h1.1v1.1h-1.1zM174.0 70.9h1.1v1.1h-1.1zM162.8 81.6h1.1v1.1h-1.1zM147.6 82.8h1.1v1.1h-1.1zM166.6 73.1h1.1v1.1h-1.1zM171.5 63.1h1.1v1.1h-1.1zM178.0 67.2h1.1v1.1h-1.1zM160.2 68.5h1.1v1.1h-1.1zM159.9 81.7h1.1v1.1h-1.1zM161.4 78.6h1.1v1.1h-1.1zM187.3 70.9h1.1v1.1h-1.1zM188.6 60.2h1.1v1.1h-1.1zM163.1 84.8h1.1v1.1h-1.1zM179.1 76.3h1.1v1.1h-1.1zM176.0 78.7h1.1v1.1h-1.1zM183.9 70.5h1.1v1.1h-1.1zM179.0 71.0h1.1v1.1h-1.1zM175.4 71.8h1.1v1.1h-1.1zM181.5 62.7h1.1v1.1h-1.1zM191.2 60.1h1.1v1.1h-1.1zM182.8 65.1h1.1v1.1h-1.1zM175.8 85.0h1.1v1.1h-1.1zM164.4 66.8h1.1v1.1h-1.1zM162.9 74.9h1.1v1.1h-1.1zM196.9 59.2h1.1v1.1h-1.1zM179.3 60.3h1.1v1.1h-1.1zM178.2 73.5h1.1v1.1h-1.1zM190.0 56.4h1.1v1.1h-1.1zM179.8 69.8h1.1v1.1h-1.1zM160.4 78.5h1.1v1.1h-1.1zM161.5 60.6h1.1v1.1h-1.1zM180.5 71.1h1.1v1.1h-1.1zM162.7 67.3h1.1v1.1h-1.1zM189.5 63.9h1.1v1.1h-1.1zM188.0 73.3h1.1v1.1h-1.1zM168.8 80.0h1.1v1.1h-1.1zM169.1 73.2h1.1v1.1h-1.1zM171.0 72.5h1.1v1.1h-1.1zM184.9 65.5h1.1v1.1h-1.1zM169.4 71.4h1.1v1.1h-1.1zM172.9 64.7h1.1v1.1h-1.1zM166.2 75.0h1.1v1.1h-1.1zM165.2 75.0h1.1v1.1h-1.1zM171.6 87.3h1.1v1.1h-1.1zM188.4 65.9h1.1v1.1h-1.1zM178.5 84.7h1.1v1.1h-1.1zM175.4 69.4h1.1v1.1h-1.1zM176.4 71.8h1.1v1.1h-1.1zM187.8 62.7h1.1v1.1h-1.1zM176.6 61.8h1.1v1.1h-1.1zM191.4 58.3h1.1v1.1h-1.1zM174.3 77.6h1.1v1.1h-1.1zM182.5 57.6h1.1v1.1h-1.1zM163.6 66.4h1.1v1.1h-1.1zM173.2 70.5h1.1v1.1h-1.1zM165.8 70.4h1.1v1.1h-1.1zM165.2 70.3h1.1v1.1h-1.1zM182.9 77.1h1.1v1.1h-1.1zM149.9 83.9h1.1v1.1h-1.1zM168.9 77.5h1.1v1.1h-1.1zM160.8 77.4h1.1v1.1h-1.1zM162.6 82.7h1.1v1.1h-1.1zM172.6 70.4h1.1v1.1h-1.1zM175.4 68.2h1.1v1.1h-1.1zM156.4 85.5h1.1v1.1h-1.1zM174.7 69.3h1.1v1.1h-1.1zM187.0 72.5h1.1v1.1h-1.1zM157.2 74.7h1.1v1.1h-1.1zM194.0 69.9h1.1v1.1h-1.1zM159.8 70.2h1.1v1.1h-1.1zM163.2 73.3h1.1v1.1h-1.1z"/><path fill="#ff3a1a" fill-opacity="0.75" d="M192.8 81.7h1.0v1.0h-1.0zM220.7 76.5h1.0v1.0h-1.0zM203.6 97.1h1.0v1.0h-1.0zM217.7 82.4h1.0v1.0h-1.0zM213.3 71.2h1.0v1.0h-1.0zM197.5 82.7h1.0v1.0h-1.0zM212.0 96.9h1.0v1.0h-1.0zM203.4 82.7h1.0v1.0h-1.0zM194.3 86.5h1.0v1.0h-1.0zM200.9 86.0h1.0v1.0h-1.0zM201.1 66.4h1.0v1.0h-1.0zM202.5 91.0h1.0v1.0h-1.0zM211.6 69.4h1.0v1.0h-1.0zM218.7 78.7h1.0v1.0h-1.0zM211.4 59.5h1.0v1.0h-1.0zM196.7 95.3h1.0v1.0h-1.0zM193.0 79.7h1.0v1.0h-1.0zM217.0 81.4h1.0v1.0h-1.0zM216.8 66.6h1.0v1.0h-1.0zM214.0 109.9h1.0v1.0h-1.0zM192.3 100.4h1.0v1.0h-1.0zM222.6 96.7h1.0v1.0h-1.0zM223.4 78.9h1.0v1.0h-1.0zM206.2 85.4h1.0v1.0h-1.0zM209.2 112.8h1.0v1.0h-1.0zM215.2 75.3h1.0v1.0h-1.0zM212.3 77.9h1.0v1.0h-1.0zM200.2 85.5h1.0v1.0h-1.0zM202.6 69.0h1.0v1.0h-1.0zM214.9 77.2h1.0v1.0h-1.0zM193.9 114.8h1.0v1.0h-1.0zM211.5 103.2h1.0v1.0h-1.0zM210.2 96.4h1.0v1.0h-1.0zM222.0 90.1h1.0v1.0h-1.0zM213.7 60.3h1.0v1.0h-1.0zM201.7 94.3h1.0v1.0h-1.0zM225.7 78.5h1.0v1.0h-1.0zM210.2 79.5h1.0v1.0h-1.0zM208.0 62.2h1.0v1.0h-1.0zM208.9 86.7h1.0v1.0h-1.0zM207.7 65.7h1.0v1.0h-1.0zM215.8 81.3h1.0v1.0h-1.0zM190.9 101.3h1.0v1.0h-1.0zM199.0 104.1h1.0v1.0h-1.0zM199.4 94.0h1.0v1.0h-1.0zM207.6 83.1h1.0v1.0h-1.0zM204.4 96.7h1.0v1.0h-1.0zM223.5 89.8h1.0v1.0h-1.0zM214.8 98.6h1.0v1.0h-1.0zM204.7 86.5h1.0v1.0h-1.0zM213.7 69.5h1.0v1.0h-1.0zM213.5 106.9h1.0v1.0h-1.0zM211.6 71.9h1.0v1.0h-1.0zM203.1 93.8h1.0v1.0h-1.0zM213.4 93.5h1.0v1.0h-1.0zM220.7 79.0h1.0v1.0h-1.0zM214.4 91.1h1.0v1.0h-1.0zM197.2 105.7h1.0v1.0h-1.0zM216.9 59.8h1.0v1.0h-1.0zM202.6 85.7h1.0v1.0h-1.0zM203.6 91.6h1.0v1.0h-1.0zM206.6 111.3h1.0v1.0h-1.0zM189.4 111.3h1.0v1.0h-1.0zM197.5 88.1h1.0v1.0h-1.0zM214.8 102.5h1.0v1.0h-1.0zM203.2 70.4h1.0v1.0h-1.0zM203.9 83.6h1.0v1.0h-1.0zM208.9 98.5h1.0v1.0h-1.0zM210.6 96.2h1.0v1.0h-1.0zM219.6 99.5h1.0v1.0h-1.0zM212.8 98.8h1.0v1.0h-1.0zM221.7 85.2h1.0v1.0h-1.0zM211.0 67.6h1.0v1.0h-1.0zM198.6 92.8h1.0v1.0h-1.0zM212.0 82.4h1.0v1.0h-1.0zM205.9 69.6h1.0v1.0h-1.0zM200.4 72.7h1.0v1.0h-1.0zM209.1 82.8h1.0v1.0h-1.0zM196.1 76.8h1.0v1.0h-1.0zM198.6 86.1h1.0v1.0h-1.0zM219.4 74.4h1.0v1.0h-1.0zM212.2 75.0h1.0v1.0h-1.0zM200.6 111.6h1.0v1.0h-1.0zM203.5 77.7h1.0v1.0h-1.0zM195.2 99.3h1.0v1.0h-1.0zM204.9 62.4h1.0v1.0h-1.0zM192.9 100.1h1.0v1.0h-1.0zM216.9 66.9h1.0v1.0h-1.0zM206.7 80.9h1.0v1.0h-1.0zM214.6 76.6h1.0v1.0h-1.0zM204.3 102.3h1.0v1.0h-1.0zM207.0 94.0h1.0v1.0h-1.0zM211.4 107.3h1.0v1.0h-1.0zM195.3 79.5h1.0v1.0h-1.0zM203.7 72.9h1.0v1.0h-1.0zM221.9 74.5h1.0v1.0h-1.0zM206.0 87.1h1.0v1.0h-1.0zM205.5 70.8h1.0v1.0h-1.0zM202.8 68.1h1.0v1.0h-1.0zM215.4 74.1h1.0v1.0h-1.0zM197.7 103.9h1.0v1.0h-1.0zM190.8 109.4h1.0v1.0h-1.0zM221.1 91.6h1.0v1.0h-1.0zM209.7 101.5h1.0v1.0h-1.0zM221.4 82.9h1.0v1.0h-1.0zM200.1 85.5h1.0v1.0h-1.0zM211.8 67.5h1.0v1.0h-1.0zM207.2 109.4h1.0v1.0h-1.0zM203.5 83.0h1.0v1.0h-1.0zM217.0 67.3h1.0v1.0h-1.0zM198.0 84.7h1.0v1.0h-1.0zM211.2 65.8h1.0v1.0h-1.0zM213.2 82.4h1.0v1.0h-1.0zM217.7 89.1h1.0v1.0h-1.0zM204.4 87.4h1.0v1.0h-1.0zM210.3 73.4h1.0v1.0h-1.0zM199.8 98.3h1.0v1.0h-1.0zM206.6 111.2h1.0v1.0h-1.0zM194.2 73.7h1.0v1.0h-1.0zM203.0 87.8h1.0v1.0h-1.0zM206.7 75.3h1.0v1.0h-1.0zM214.4 91.6h1.0v1.0h-1.0zM189.1 106.5h1.0v1.0h-1.0zM220.8 78.7h1.0v1.0h-1.0zM220.2 75.3h1.0v1.0h-1.0zM220.0 85.5h1.0v1.0h-1.0zM202.6 76.8h1.0v1.0h-1.0zM199.6 87.1h1.0v1.0h-1.0zM209.5 87.2h1.0v1.0h-1.0zM203.7 107.2h1.0v1.0h-1.0zM212.9 79.8h1.0v1.0h-1.0zM207.1 83.0h1.0v1.0h-1.0zM206.2 73.8h1.0v1.0h-1.0zM192.2 104.6h1.0v1.0h-1.0zM202.2 103.2h1.0v1.0h-1.0zM205.2 86.5h1.0v1.0h-1.0zM203.7 93.8h1.0v1.0h-1.0zM214.5 92.9h1.0v1.0h-1.0zM206.2 69.8h1.0v1.0h-1.0zM196.6 111.6h1.0v1.0h-1.0zM215.2 99.0h1.0v1.0h-1.0zM208.5 97.1h1.0v1.0h-1.0zM214.7 59.9h1.0v1.0h-1.0zM192.9 89.2h1.0v1.0h-1.0zM213.1 82.9h1.0v1.0h-1.0zM213.4 58.7h1.0v1.0h-1.0zM209.8 109.6h1.0v1.0h-1.0zM207.5 68.4h1.0v1.0h-1.0zM200.6 102.9h1.0v1.0h-1.0zM210.4 98.5h1.0v1.0h-1.0zM206.2 98.6h1.0v1.0h-1.0zM211.8 59.5h1.0v1.0h-1.0zM222.2 66.7h1.0v1.0h-1.0zM211.0 82.3h1.0v1.0h-1.0zM209.9 82.9h1.0v1.0h-1.0zM215.3 80.5h1.0v1.0h-1.0zM214.7 93.0h1.0v1.0h-1.0zM205.9 83.1h1.0v1.0h-1.0zM199.0 99.3h1.0v1.0h-1.0zM203.7 90.5h1.0v1.0h-1.0zM213.0 58.0h1.0v1.0h-1.0zM222.8 69.7h1.0v1.0h-1.0zM212.0 95.7h1.0v1.0h-1.0zM207.9 69.6h1.0v1.0h-1.0zM192.4 95.7h1.0v1.0h-1.0zM203.5 92.2h1.0v1.0h-1.0zM202.1 90.2h1.0v1.0h-1.0zM201.0 83.2h1.0v1.0h-1.0zM213.3 88.6h1.0v1.0h-1.0zM210.0 65.0h1.0v1.0h-1.0zM207.6 92.8h1.0v1.0h-1.0zM210.1 71.3h1.0v1.0h-1.0zM203.1 91.2h1.0v1.0h-1.0zM213.3 73.6h1.0v1.0h-1.0zM222.7 85.7h1.0v1.0h-1.0zM201.9 79.6h1.0v1.0h-1.0zM212.9 76.4h1.0v1.0h-1.0zM215.4 61.4h1.0v1.0h-1.0zM201.3 99.3h1.0v1.0h-1.0zM203.6 108.2h1.0v1.0h-1.0zM219.0 87.2h1.0v1.0h-1.0zM209.4 90.0h1.0v1.0h-1.0zM209.7 90.6h1.0v1.0h-1.0zM208.6 86.3h1.0v1.0h-1.0zM188.0 93.3h1.0v1.0h-1.0zM215.7 90.4h1.0v1.0h-1.0zM190.4 101.0h1.0v1.0h-1.0zM209.7 94.9h1.0v1.0h-1.0zM221.1 75.9h1.0v1.0h-1.0zM207.2 69.2h1.0v1.0h-1.0zM201.4 81.9h1.0v1.0h-1.0zM213.9 86.5h1.0v1.0h-1.0zM203.8 73.5h1.0v1.0h-1.0zM211.8 75.5h1.0v1.0h-1.0zM217.2 87.8h1.0v1.0h-1.0zM208.1 86.3h1.0v1.0h-1.0zM217.5 79.7h1.0v1.0h-1.0zM216.0 97.8h1.0v1.0h-1.0zM209.2 87.2h1.0v1.0h-1.0zM207.0 106.0h1.0v1.0h-1.0zM214.8 95.7h1.0v1.0h-1.0zM215.6 90.8h1.0v1.0h-1.0zM220.1 89.4h1.0v1.0h-1.0zM215.9 65.2h1.0v1.0h-1.0zM211.3 69.4h1.0v1.0h-1.0zM189.9 91.0h1.0v1.0h-1.0zM210.7 79.9h1.0v1.0h-1.0zM202.2 117.6h1.0v1.0h-1.0zM213.2 84.0h1.0v1.0h-1.0zM215.4 98.9h1.0v1.0h-1.0zM198.2 97.0h1.0v1.0h-1.0zM200.2 90.2h1.0v1.0h-1.0zM206.3 75.1h1.0v1.0h-1.0zM202.1 106.5h1.0v1.0h-1.0zM200.6 93.4h1.0v1.0h-1.0zM220.1 68.3h1.0v1.0h-1.0zM215.7 69.7h1.0v1.0h-1.0zM215.4 97.5h1.0v1.0h-1.0zM216.0 61.8h1.0v1.0h-1.0zM213.6 72.5h1.0v1.0h-1.0zM215.4 86.0h1.0v1.0h-1.0zM194.8 100.2h1.0v1.0h-1.0zM218.3 77.5h1.0v1.0h-1.0zM220.8 84.2h1.0v1.0h-1.0zM204.3 87.3h1.0v1.0h-1.0zM203.4 75.7h1.0v1.0h-1.0zM197.5 113.2h1.0v1.0h-1.0zM223.8 86.0h1.0v1.0h-1.0zM223.6 90.2h1.0v1.0h-1.0zM206.4 103.1h1.0v1.0h-1.0zM217.3 65.1h1.0v1.0h-1.0zM222.8 82.6h1.0v1.0h-1.0zM212.7 103.9h1.0v1.0h-1.0zM209.9 106.1h1.0v1.0h-1.0zM224.4 90.4h1.0v1.0h-1.0zM221.3 75.5h1.0v1.0h-1.0zM198.4 104.0h1.0v1.0h-1.0zM219.5 63.1h1.0v1.0h-1.0zM212.5 83.8h1.0v1.0h-1.0zM197.7 91.3h1.0v1.0h-1.0zM192.3 85.3h1.0v1.0h-1.0zM210.0 99.4h1.0v1.0h-1.0zM198.2 76.4h1.0v1.0h-1.0zM204.6 100.9h1.0v1.0h-1.0zM208.7 63.0h1.0v1.0h-1.0zM211.0 109.1h1.0v1.0h-1.0zM215.1 76.1h1.0v1.0h-1.0zM211.2 89.2h1.0v1.0h-1.0zM223.3 66.0h1.0v1.0h-1.0zM210.0 83.5h1.0v1.0h-1.0zM196.2 86.5h1.0v1.0h-1.0zM210.7 78.7h1.0v1.0h-1.0zM220.1 61.6h1.0v1.0h-1.0zM205.0 93.6h1.0v1.0h-1.0zM204.4 106.3h1.0v1.0h-1.0zM207.6 95.0h1.0v1.0h-1.0zM195.0 97.9h1.0v1.0h-1.0zM211.5 98.4h1.0v1.0h-1.0zM219.0 99.8h1.0v1.0h-1.0zM209.2 89.7h1.0v1.0h-1.0zM192.4 111.7h1.0v1.0h-1.0zM211.3 97.2h1.0v1.0h-1.0zM205.4 106.1h1.0v1.0h-1.0zM208.4 101.0h1.0v1.0h-1.0zM193.9 91.6h1.0v1.0h-1.0zM201.5 101.7h1.0v1.0h-1.0zM213.4 100.2h1.0v1.0h-1.0zM189.7 90.1h1.0v1.0h-1.0zM201.6 67.4h1.0v1.0h-1.0zM214.9 82.3h1.0v1.0h-1.0zM211.1 101.5h1.0v1.0h-1.0zM203.3 71.6h1.0v1.0h-1.0zM201.0 73.1h1.0v1.0h-1.0zM201.5 70.7h1.0v1.0h-1.0zM211.9 67.3h1.0v1.0h-1.0zM212.0 88.5h1.0v1.0h-1.0zM211.6 108.0h1.0v1.0h-1.0zM200.8 97.1h1.0v1.0h-1.0zM220.6 85.8h1.0v1.0h-1.0zM194.7 89.3h1.0v1.0h-1.0zM214.7 89.7h1.0v1.0h-1.0zM197.7 101.7h1.0v1.0h-1.0zM196.5 87.9h1.0v1.0h-1.0zM208.2 69.1h1.0v1.0h-1.0zM218.2 69.5h1.0v1.0h-1.0zM220.8 66.2h1.0v1.0h-1.0zM194.3 84.7h1.0v1.0h-1.0zM221.9 65.1h1.0v1.0h-1.0zM223.9 75.2h1.0v1.0h-1.0zM207.0 93.3h1.0v1.0h-1.0zM220.1 101.2h1.0v1.0h-1.0zM210.0 66.2h1.0v1.0h-1.0zM215.2 81.5h1.0v1.0h-1.0zM200.3 73.0h1.0v1.0h-1.0zM224.8 84.9h1.0v1.0h-1.0zM194.5 108.6h1.0v1.0h-1.0zM212.1 88.2h1.0v1.0h-1.0zM199.7 73.7h1.0v1.0h-1.0zM203.8 91.8h1.0v1.0h-1.0zM211.9 91.7h1.0v1.0h-1.0zM216.0 68.5h1.0v1.0h-1.0zM202.8 71.3h1.0v1.0h-1.0zM212.7 62.7h1.0v1.0h-1.0zM198.0 80.8h1.0v1.0h-1.0zM213.0 74.5h1.0v1.0h-1.0zM214.0 83.6h1.0v1.0h-1.0zM198.1 83.6h1.0v1.0h-1.0zM211.0 114.5h1.0v1.0h-1.0zM206.9 81.1h1.0v1.0h-1.0zM213.4 88.8h1.0v1.0h-1.0zM198.8 108.6h1.0v1.0h-1.0zM207.3 64.9h1.0v1.0h-1.0zM211.4 101.2h1.0v1.0h-1.0zM224.7 70.0h1.0v1.0h-1.0zM215.5 98.1h1.0v1.0h-1.0zM211.7 81.7h1.0v1.0h-1.0zM197.1 68.2h1.0v1.0h-1.0zM221.5 81.0h1.0v1.0h-1.0zM196.0 99.5h1.0v1.0h-1.0zM211.6 106.9h1.0v1.0h-1.0zM200.8 82.5h1.0v1.0h-1.0zM221.7 77.3h1.0v1.0h-1.0zM196.0 98.7h1.0v1.0h-1.0zM199.2 80.4h1.0v1.0h-1.0zM214.7 85.3h1.0v1.0h-1.0zM200.4 86.6h1.0v1.0h-1.0zM199.1 82.2h1.0v1.0h-1.0zM220.7 73.4h1.0v1.0h-1.0zM201.1 75.0h1.0v1.0h-1.0zM195.8 99.7h1.0v1.0h-1.0zM208.6 70.4h1.0v1.0h-1.0zM208.6 81.9h1.0v1.0h-1.0zM222.5 78.1h1.0v1.0h-1.0zM216.6 93.9h1.0v1.0h-1.0zM191.4 95.4h1.0v1.0h-1.0zM220.1 94.1h1.0v1.0h-1.0zM217.6 81.0h1.0v1.0h-1.0zM208.4 72.9h1.0v1.0h-1.0zM215.3 95.2h1.0v1.0h-1.0zM207.7 79.3h1.0v1.0h-1.0zM211.4 93.6h1.0v1.0h-1.0zM210.4 87.0h1.0v1.0h-1.0zM216.0 109.1h1.0v1.0h-1.0zM204.0 95.4h1.0v1.0h-1.0zM201.6 71.1h1.0v1.0h-1.0zM205.8 65.7h1.0v1.0h-1.0zM204.6 90.2h1.0v1.0h-1.0zM203.4 119.9h1.0v1.0h-1.0zM206.2 103.0h1.0v1.0h-1.0zM198.1 97.0h1.0v1.0h-1.0zM212.2 78.1h1.0v1.0h-1.0zM207.5 84.6h1.0v1.0h-1.0zM207.5 93.8h1.0v1.0h-1.0zM207.5 71.0h1.0v1.0h-1.0zM193.0 112.1h1.0v1.0h-1.0zM218.0 84.8h1.0v1.0h-1.0zM216.7 70.9h1.0v1.0h-1.0zM222.3 68.3h1.0v1.0h-1.0zM199.5 103.2h1.0v1.0h-1.0zM199.5 76.0h1.0v1.0h-1.0zM217.4 62.3h1.0v1.0h-1.0zM217.1 95.8h1.0v1.0h-1.0zM193.9 80.5h1.0v1.0h-1.0zM204.5 71.7h1.0v1.0h-1.0zM212.9 73.4h1.0v1.0h-1.0zM221.3 76.2h1.0v1.0h-1.0zM217.6 88.2h1.0v1.0h-1.0zM219.3 78.9h1.0v1.0h-1.0zM210.0 63.6h1.0v1.0h-1.0zM208.0 104.7h1.0v1.0h-1.0zM211.6 83.0h1.0v1.0h-1.0zM211.9 86.7h1.0v1.0h-1.0zM216.4 107.6h1.0v1.0h-1.0zM204.1 71.0h1.0v1.0h-1.0zM219.2 95.8h1.0v1.0h-1.0zM198.8 106.7h1.0v1.0h-1.0zM206.0 79.7h1.0v1.0h-1.0zM223.3 66.8h1.0v1.0h-1.0zM207.0 70.8h1.0v1.0h-1.0zM215.3 87.0h1.0v1.0h-1.0zM215.8 59.1h1.0v1.0h-1.0zM208.8 93.6h1.0v1.0h-1.0zM209.5 98.4h1.0v1.0h-1.0zM210.5 83.0h1.0v1.0h-1.0zM210.7 108.9h1.0v1.0h-1.0zM189.4 101.0h1.0v1.0h-1.0zM207.2 104.9h1.0v1.0h-1.0zM219.7 65.0h1.0v1.0h-1.0zM218.7 61.2h1.0v1.0h-1.0zM213.4 80.5h1.0v1.0h-1.0zM191.2 86.0h1.0v1.0h-1.0zM209.0 81.3h1.0v1.0h-1.0zM207.2 97.7h1.0v1.0h-1.0zM207.4 61.2h1.0v1.0h-1.0zM203.5 82.1h1.0v1.0h-1.0zM214.0 58.9h1.0v1.0h-1.0zM207.1 97.6h1.0v1.0h-1.0zM219.0 67.2h1.0v1.0h-1.0zM222.1 74.9h1.0v1.0h-1.0zM200.8 71.5h1.0v1.0h-1.0zM202.8 98.6h1.0v1.0h-1.0zM214.1 87.5h1.0v1.0h-1.0zM216.4 90.4h1.0v1.0h-1.0zM188.5 95.2h1.0v1.0h-1.0zM196.5 76.3h1.0v1.0h-1.0zM209.9 76.9h1.0v1.0h-1.0zM195.5 109.8h1.0v1.0h-1.0zM203.6 99.1h1.0v1.0h-1.0zM209.9 82.9h1.0v1.0h-1.0zM212.4 90.6h1.0v1.0h-1.0zM216.7 80.4h1.0v1.0h-1.0zM212.4 74.0h1.0v1.0h-1.0zM202.5 81.4h1.0v1.0h-1.0zM213.5 64.4h1.0v1.0h-1.0zM223.7 88.4h1.0v1.0h-1.0zM188.4 101.6h1.0v1.0h-1.0zM197.9 92.9h1.0v1.0h-1.0zM206.4 90.5h1.0v1.0h-1.0zM213.0 76.1h1.0v1.0h-1.0zM218.3 68.3h1.0v1.0h-1.0zM212.6 89.0h1.0v1.0h-1.0zM208.8 98.9h1.0v1.0h-1.0zM216.7 97.5h1.0v1.0h-1.0zM208.3 89.6h1.0v1.0h-1.0zM216.1 104.9h1.0v1.0h-1.0zM202.2 71.4h1.0v1.0h-1.0zM214.8 75.8h1.0v1.0h-1.0zM210.0 67.6h1.0v1.0h-1.0zM203.0 92.8h1.0v1.0h-1.0zM217.4 89.2h1.0v1.0h-1.0zM215.7 78.5h1.0v1.0h-1.0zM201.4 98.3h1.0v1.0h-1.0zM200.7 97.3h1.0v1.0h-1.0zM215.6 65.6h1.0v1.0h-1.0zM212.9 101.5h1.0v1.0h-1.0zM207.8 106.1h1.0v1.0h-1.0zM218.6 89.0h1.0v1.0h-1.0zM216.7 103.0h1.0v1.0h-1.0zM211.5 78.5h1.0v1.0h-1.0zM208.2 86.5h1.0v1.0h-1.0zM208.9 72.3h1.0v1.0h-1.0zM209.9 60.6h1.0v1.0h-1.0zM196.9 96.8h1.0v1.0h-1.0zM216.5 84.4h1.0v1.0h-1.0zM210.3 80.6h1.0v1.0h-1.0zM189.8 106.1h1.0v1.0h-1.0zM201.6 81.2h1.0v1.0h-1.0zM217.8 84.3h1.0v1.0h-1.0zM200.4 64.6h1.0v1.0h-1.0zM206.9 92.5h1.0v1.0h-1.0z"/><path fill="#ff1e00" fill-opacity="1.00" d="M199.4 100.9h1.0v1.0h-1.0zM208.1 97.4h1.0v1.0h-1.0zM205.2 89.8h1.0v1.0h-1.0zM203.3 101.7h1.0v1.0h-1.0zM202.5 96.3h1.0v1.0h-1.0zM208.0 78.3h1.0v1.0h-1.0zM195.4 96.6h1.0v1.0h-1.0zM200.0 107.6h1.0v1.0h-1.0zM200.8 100.0h1.0v1.0h-1.0zM207.2 104.3h1.0v1.0h-1.0zM201.4 88.8h1.0v1.0h-1.0zM208.7 83.3h1.0v1.0h-1.0zM202.4 102.5h1.0v1.0h-1.0zM193.3 108.8h1.0v1.0h-1.0zM203.2 89.4h1.0v1.0h-1.0zM205.6 84.9h1.0v1.0h-1.0zM206.2 93.2h1.0v1.0h-1.0zM210.6 101.6h1.0v1.0h-1.0zM207.8 91.3h1.0v1.0h-1.0zM196.6 87.7h1.0v1.0h-1.0zM195.5 98.6h1.0v1.0h-1.0zM197.1 107.1h1.0v1.0h-1.0zM204.6 101.4h1.0v1.0h-1.0zM204.4 94.5h1.0v1.0h-1.0zM203.8 102.0h1.0v1.0h-1.0zM198.1 94.8h1.0v1.0h-1.0zM218.7 97.6h1.0v1.0h-1.0zM205.4 85.1h1.0v1.0h-1.0zM191.2 99.3h1.0v1.0h-1.0zM203.1 94.9h1.0v1.0h-1.0zM194.8 99.5h1.0v1.0h-1.0zM205.8 97.2h1.0v1.0h-1.0zM206.7 93.0h1.0v1.0h-1.0zM210.2 101.5h1.0v1.0h-1.0zM200.8 104.3h1.0v1.0h-1.0zM207.0 98.4h1.0v1.0h-1.0zM198.7 108.9h1.0v1.0h-1.0zM207.2 92.5h1.0v1.0h-1.0zM200.7 86.8h1.0v1.0h-1.0zM197.8 90.5h1.0v1.0h-1.0zM213.8 73.9h1.0v1.0h-1.0zM201.5 98.0h1.0v1.0h-1.0zM208.8 83.7h1.0v1.0h-1.0zM213.8 88.8h1.0v1.0h-1.0zM201.7 79.2h1.0v1.0h-1.0zM199.9 101.0h1.0v1.0h-1.0zM209.5 96.8h1.0v1.0h-1.0zM200.1 83.1h1.0v1.0h-1.0zM199.8 88.2h1.0v1.0h-1.0zM193.8 88.7h1.0v1.0h-1.0zM208.1 92.2h1.0v1.0h-1.0zM210.3 84.6h1.0v1.0h-1.0zM198.6 82.6h1.0v1.0h-1.0zM206.2 104.2h1.0v1.0h-1.0zM196.6 101.9h1.0v1.0h-1.0zM196.1 105.0h1.0v1.0h-1.0zM208.5 89.1h1.0v1.0h-1.0zM211.5 86.9h1.0v1.0h-1.0zM204.8 76.5h1.0v1.0h-1.0zM205.6 92.1h1.0v1.0h-1.0zM205.2 88.1h1.0v1.0h-1.0zM213.6 91.6h1.0v1.0h-1.0zM195.0 101.6h1.0v1.0h-1.0zM210.4 98.6h1.0v1.0h-1.0zM196.9 82.3h1.0v1.0h-1.0zM207.3 93.7h1.0v1.0h-1.0zM218.1 83.3h1.0v1.0h-1.0zM210.3 87.9h1.0v1.0h-1.0zM211.6 94.5h1.0v1.0h-1.0zM212.3 88.6h1.0v1.0h-1.0zM200.8 78.4h1.0v1.0h-1.0zM204.8 81.2h1.0v1.0h-1.0zM205.1 107.2h1.0v1.0h-1.0zM209.7 83.2h1.0v1.0h-1.0zM206.1 85.4h1.0v1.0h-1.0zM210.7 98.4h1.0v1.0h-1.0zM208.3 89.5h1.0v1.0h-1.0zM196.1 80.0h1.0v1.0h-1.0zM196.4 92.7h1.0v1.0h-1.0zM207.8 84.9h1.0v1.0h-1.0zM195.5 105.4h1.0v1.0h-1.0zM202.5 81.3h1.0v1.0h-1.0zM205.6 85.1h1.0v1.0h-1.0zM199.5 95.8h1.0v1.0h-1.0zM220.7 80.0h1.0v1.0h-1.0zM203.7 92.3h1.0v1.0h-1.0zM204.3 90.1h1.0v1.0h-1.0zM198.0 100.3h1.0v1.0h-1.0zM202.0 89.7h1.0v1.0h-1.0zM203.6 93.0h1.0v1.0h-1.0zM199.0 100.7h1.0v1.0h-1.0zM203.2 93.6h1.0v1.0h-1.0zM207.8 82.7h1.0v1.0h-1.0zM203.7 80.4h1.0v1.0h-1.0zM208.0 86.0h1.0v1.0h-1.0zM197.2 91.6h1.0v1.0h-1.0zM214.0 77.2h1.0v1.0h-1.0zM213.1 96.4h1.0v1.0h-1.0zM199.1 101.5h1.0v1.0h-1.0zM206.8 86.7h1.0v1.0h-1.0zM220.4 87.5h1.0v1.0h-1.0zM200.0 99.5h1.0v1.0h-1.0zM198.6 88.5h1.0v1.0h-1.0zM196.4 114.9h1.0v1.0h-1.0zM199.3 89.4h1.0v1.0h-1.0zM207.3 94.3h1.0v1.0h-1.0zM195.7 92.8h1.0v1.0h-1.0zM202.8 96.3h1.0v1.0h-1.0zM206.1 104.0h1.0v1.0h-1.0zM205.0 95.8h1.0v1.0h-1.0zM198.5 88.1h1.0v1.0h-1.0zM206.8 88.9h1.0v1.0h-1.0zM207.9 84.7h1.0v1.0h-1.0zM203.7 115.4h1.0v1.0h-1.0zM200.2 94.7h1.0v1.0h-1.0zM197.6 103.0h1.0v1.0h-1.0zM206.1 93.8h1.0v1.0h-1.0zM202.3 92.6h1.0v1.0h-1.0zM195.8 95.7h1.0v1.0h-1.0zM197.9 95.1h1.0v1.0h-1.0zM200.3 102.3h1.0v1.0h-1.0zM199.7 101.3h1.0v1.0h-1.0zM196.5 95.3h1.0v1.0h-1.0zM202.0 93.2h1.0v1.0h-1.0zM200.6 100.7h1.0v1.0h-1.0zM191.6 90.0h1.0v1.0h-1.0zM190.9 99.4h1.0v1.0h-1.0zM197.3 78.0h1.0v1.0h-1.0zM196.5 89.9h1.0v1.0h-1.0zM208.4 74.3h1.0v1.0h-1.0zM199.5 97.2h1.0v1.0h-1.0zM199.2 100.1h1.0v1.0h-1.0zM202.0 91.2h1.0v1.0h-1.0zM200.5 94.2h1.0v1.0h-1.0zM212.9 99.9h1.0v1.0h-1.0zM207.6 86.8h1.0v1.0h-1.0zM193.9 103.5h1.0v1.0h-1.0zM201.6 80.9h1.0v1.0h-1.0zM205.2 87.9h1.0v1.0h-1.0zM224.3 75.2h1.0v1.0h-1.0zM203.1 99.4h1.0v1.0h-1.0zM200.5 83.4h1.0v1.0h-1.0zM199.7 107.9h1.0v1.0h-1.0zM205.4 75.3h1.0v1.0h-1.0zM203.1 108.3h1.0v1.0h-1.0zM211.2 71.0h1.0v1.0h-1.0zM212.8 93.7h1.0v1.0h-1.0zM210.3 94.3h1.0v1.0h-1.0zM203.8 87.0h1.0v1.0h-1.0zM206.2 108.7h1.0v1.0h-1.0zM196.1 78.2h1.0v1.0h-1.0zM215.2 93.0h1.0v1.0h-1.0zM196.5 88.7h1.0v1.0h-1.0zM203.8 90.8h1.0v1.0h-1.0zM202.6 88.0h1.0v1.0h-1.0zM200.1 93.9h1.0v1.0h-1.0zM200.7 87.4h1.0v1.0h-1.0zM197.9 103.6h1.0v1.0h-1.0zM206.5 91.9h1.0v1.0h-1.0zM205.3 97.0h1.0v1.0h-1.0zM207.9 99.3h1.0v1.0h-1.0zM208.4 108.7h1.0v1.0h-1.0zM205.5 88.1h1.0v1.0h-1.0zM206.7 98.9h1.0v1.0h-1.0zM209.5 78.3h1.0v1.0h-1.0zM192.5 90.7h1.0v1.0h-1.0zM205.0 101.2h1.0v1.0h-1.0zM192.7 98.3h1.0v1.0h-1.0zM199.5 94.2h1.0v1.0h-1.0zM209.5 85.7h1.0v1.0h-1.0zM209.2 71.6h1.0v1.0h-1.0zM206.3 73.3h1.0v1.0h-1.0zM206.1 93.6h1.0v1.0h-1.0zM207.6 97.5h1.0v1.0h-1.0zM199.1 93.6h1.0v1.0h-1.0zM199.4 96.6h1.0v1.0h-1.0zM209.7 83.7h1.0v1.0h-1.0zM203.8 92.5h1.0v1.0h-1.0zM198.7 99.4h1.0v1.0h-1.0zM214.9 92.8h1.0v1.0h-1.0zM211.2 70.6h1.0v1.0h-1.0zM205.1 87.7h1.0v1.0h-1.0zM191.0 89.4h1.0v1.0h-1.0zM210.2 86.7h1.0v1.0h-1.0zM205.9 82.3h1.0v1.0h-1.0zM214.4 80.0h1.0v1.0h-1.0zM194.3 109.1h1.0v1.0h-1.0zM202.4 96.4h1.0v1.0h-1.0zM208.0 80.9h1.0v1.0h-1.0zM202.2 95.6h1.0v1.0h-1.0zM197.0 92.6h1.0v1.0h-1.0zM206.5 104.8h1.0v1.0h-1.0zM199.3 79.2h1.0v1.0h-1.0zM190.8 97.8h1.0v1.0h-1.0zM204.5 99.9h1.0v1.0h-1.0zM203.9 79.2h1.0v1.0h-1.0zM204.0 93.1h1.0v1.0h-1.0zM198.7 91.2h1.0v1.0h-1.0zM206.6 95.7h1.0v1.0h-1.0zM206.9 70.2h1.0v1.0h-1.0zM201.9 92.9h1.0v1.0h-1.0zM204.3 87.5h1.0v1.0h-1.0zM197.3 96.9h1.0v1.0h-1.0zM203.2 93.0h1.0v1.0h-1.0zM201.2 84.0h1.0v1.0h-1.0zM209.0 83.2h1.0v1.0h-1.0zM198.4 85.9h1.0v1.0h-1.0zM209.8 96.7h1.0v1.0h-1.0zM212.5 94.4h1.0v1.0h-1.0zM208.0 78.5h1.0v1.0h-1.0zM195.0 103.7h1.0v1.0h-1.0zM202.8 99.5h1.0v1.0h-1.0zM207.9 93.6h1.0v1.0h-1.0zM202.4 92.6h1.0v1.0h-1.0zM205.8 97.8h1.0v1.0h-1.0zM206.1 94.6h1.0v1.0h-1.0zM200.8 87.7h1.0v1.0h-1.0zM194.8 98.9h1.0v1.0h-1.0zM193.4 84.9h1.0v1.0h-1.0zM218.5 94.7h1.0v1.0h-1.0zM197.9 89.1h1.0v1.0h-1.0zM211.7 93.7h1.0v1.0h-1.0zM207.0 94.4h1.0v1.0h-1.0zM206.6 87.3h1.0v1.0h-1.0zM199.8 94.3h1.0v1.0h-1.0zM203.1 100.1h1.0v1.0h-1.0zM210.6 79.3h1.0v1.0h-1.0zM208.2 90.5h1.0v1.0h-1.0zM208.5 77.8h1.0v1.0h-1.0zM203.8 84.0h1.0v1.0h-1.0zM209.7 78.6h1.0v1.0h-1.0zM203.8 93.3h1.0v1.0h-1.0zM200.4 83.6h1.0v1.0h-1.0zM195.6 98.2h1.0v1.0h-1.0zM191.5 82.7h1.0v1.0h-1.0zM196.7 84.0h1.0v1.0h-1.0zM211.2 88.3h1.0v1.0h-1.0zM208.2 84.6h1.0v1.0h-1.0zM210.9 105.1h1.0v1.0h-1.0zM215.6 82.6h1.0v1.0h-1.0zM193.6 99.2h1.0v1.0h-1.0zM204.0 89.2h1.0v1.0h-1.0zM210.9 81.3h1.0v1.0h-1.0zM208.2 94.1h1.0v1.0h-1.0zM209.4 87.0h1.0v1.0h-1.0zM209.7 86.8h1.0v1.0h-1.0zM204.6 104.6h1.0v1.0h-1.0zM206.9 98.9h1.0v1.0h-1.0zM218.5 68.8h1.0v1.0h-1.0zM209.7 91.5h1.0v1.0h-1.0zM205.7 89.6h1.0v1.0h-1.0zM198.6 83.7h1.0v1.0h-1.0zM201.8 106.6h1.0v1.0h-1.0zM204.3 82.2h1.0v1.0h-1.0zM215.5 87.5h1.0v1.0h-1.0zM215.2 97.5h1.0v1.0h-1.0zM195.2 98.8h1.0v1.0h-1.0zM219.1 83.0h1.0v1.0h-1.0zM213.7 93.2h1.0v1.0h-1.0zM213.7 92.2h1.0v1.0h-1.0zM193.3 92.7h1.0v1.0h-1.0zM200.6 113.4h1.0v1.0h-1.0zM210.6 102.6h1.0v1.0h-1.0zM204.8 86.7h1.0v1.0h-1.0zM205.8 83.7h1.0v1.0h-1.0zM212.8 68.1h1.0v1.0h-1.0zM205.1 92.2h1.0v1.0h-1.0zM215.0 105.2h1.0v1.0h-1.0zM199.1 96.0h1.0v1.0h-1.0zM199.7 83.5h1.0v1.0h-1.0zM212.0 82.7h1.0v1.0h-1.0zM199.8 100.5h1.0v1.0h-1.0zM205.2 96.7h1.0v1.0h-1.0zM201.9 84.1h1.0v1.0h-1.0zM200.8 100.6h1.0v1.0h-1.0zM204.0 79.7h1.0v1.0h-1.0zM214.1 86.3h1.0v1.0h-1.0zM208.9 96.8h1.0v1.0h-1.0zM201.7 110.1h1.0v1.0h-1.0zM204.6 100.8h1.0v1.0h-1.0zM201.8 83.4h1.0v1.0h-1.0zM201.3 107.6h1.0v1.0h-1.0zM202.2 116.6h1.0v1.0h-1.0zM204.9 94.6h1.0v1.0h-1.0zM209.4 94.6h1.0v1.0h-1.0zM207.9 82.3h1.0v1.0h-1.0zM213.8 84.6h1.0v1.0h-1.0zM212.6 80.3h1.0v1.0h-1.0zM214.2 85.3h1.0v1.0h-1.0zM215.1 79.5h1.0v1.0h-1.0zM196.8 101.7h1.0v1.0h-1.0zM199.3 90.6h1.0v1.0h-1.0zM210.8 69.7h1.0v1.0h-1.0zM203.9 96.7h1.0v1.0h-1.0zM195.6 94.5h1.0v1.0h-1.0zM203.7 80.9h1.0v1.0h-1.0zM206.8 85.8h1.0v1.0h-1.0zM222.9 83.4h1.0v1.0h-1.0zM204.0 102.8h1.0v1.0h-1.0zM200.2 71.3h1.0v1.0h-1.0zM209.0 89.0h1.0v1.0h-1.0zM201.5 103.3h1.0v1.0h-1.0zM206.3 81.4h1.0v1.0h-1.0zM197.6 92.6h1.0v1.0h-1.0zM210.9 79.9h1.0v1.0h-1.0zM209.0 106.1h1.0v1.0h-1.0zM213.5 83.2h1.0v1.0h-1.0zM204.0 86.0h1.0v1.0h-1.0zM206.3 80.7h1.0v1.0h-1.0zM205.5 95.2h1.0v1.0h-1.0zM208.1 88.3h1.0v1.0h-1.0zM210.3 96.9h1.0v1.0h-1.0zM199.8 100.7h1.0v1.0h-1.0zM203.4 89.0h1.0v1.0h-1.0zM197.7 96.5h1.0v1.0h-1.0zM204.0 85.4h1.0v1.0h-1.0zM197.7 95.3h1.0v1.0h-1.0zM207.9 75.4h1.0v1.0h-1.0zM210.3 87.1h1.0v1.0h-1.0zM204.4 96.3h1.0v1.0h-1.0zM206.3 104.5h1.0v1.0h-1.0zM201.5 89.1h1.0v1.0h-1.0zM190.1 104.2h1.0v1.0h-1.0zM200.7 105.8h1.0v1.0h-1.0zM210.6 72.5h1.0v1.0h-1.0zM212.0 96.6h1.0v1.0h-1.0zM204.5 92.8h1.0v1.0h-1.0zM205.4 98.4h1.0v1.0h-1.0zM190.9 98.0h1.0v1.0h-1.0zM203.0 86.4h1.0v1.0h-1.0zM209.7 104.6h1.0v1.0h-1.0zM209.7 74.2h1.0v1.0h-1.0zM202.7 97.3h1.0v1.0h-1.0zM208.6 80.4h1.0v1.0h-1.0zM204.8 78.6h1.0v1.0h-1.0zM201.8 100.0h1.0v1.0h-1.0zM212.6 87.8h1.0v1.0h-1.0zM203.0 97.6h1.0v1.0h-1.0zM201.8 89.4h1.0v1.0h-1.0zM214.8 99.1h1.0v1.0h-1.0zM210.6 90.2h1.0v1.0h-1.0zM211.2 76.4h1.0v1.0h-1.0zM199.0 102.8h1.0v1.0h-1.0zM210.6 108.1h1.0v1.0h-1.0zM207.5 94.2h1.0v1.0h-1.0zM201.4 89.1h1.0v1.0h-1.0zM210.6 86.3h1.0v1.0h-1.0zM213.1 85.3h1.0v1.0h-1.0zM198.4 78.4h1.0v1.0h-1.0zM200.5 75.4h1.0v1.0h-1.0zM211.0 92.9h1.0v1.0h-1.0zM200.5 103.1h1.0v1.0h-1.0zM213.0 90.5h1.0v1.0h-1.0zM209.7 98.8h1.0v1.0h-1.0zM202.2 96.0h1.0v1.0h-1.0zM199.4 81.3h1.0v1.0h-1.0zM200.9 97.3h1.0v1.0h-1.0zM202.5 89.9h1.0v1.0h-1.0zM203.6 107.3h1.0v1.0h-1.0zM203.0 105.5h1.0v1.0h-1.0zM203.0 88.2h1.0v1.0h-1.0zM207.0 90.0h1.0v1.0h-1.0zM194.5 105.9h1.0v1.0h-1.0zM206.8 82.7h1.0v1.0h-1.0zM199.2 110.0h1.0v1.0h-1.0zM199.4 103.4h1.0v1.0h-1.0zM203.6 86.4h1.0v1.0h-1.0zM200.8 89.0h1.0v1.0h-1.0zM218.8 85.9h1.0v1.0h-1.0zM217.1 86.8h1.0v1.0h-1.0zM199.3 99.1h1.0v1.0h-1.0zM206.3 96.1h1.0v1.0h-1.0zM193.5 91.3h1.0v1.0h-1.0zM202.1 93.2h1.0v1.0h-1.0zM199.7 84.8h1.0v1.0h-1.0zM192.9 97.8h1.0v1.0h-1.0zM200.3 96.5h1.0v1.0h-1.0zM202.3 85.8h1.0v1.0h-1.0zM215.0 86.3h1.0v1.0h-1.0zM192.5 91.3h1.0v1.0h-1.0zM199.5 85.2h1.0v1.0h-1.0zM212.3 86.7h1.0v1.0h-1.0zM211.6 87.9h1.0v1.0h-1.0zM206.8 107.7h1.0v1.0h-1.0zM202.3 88.9h1.0v1.0h-1.0zM198.6 91.8h1.0v1.0h-1.0zM216.2 81.6h1.0v1.0h-1.0zM214.4 82.1h1.0v1.0h-1.0zM206.6 73.6h1.0v1.0h-1.0zM215.3 97.7h1.0v1.0h-1.0zM208.1 86.4h1.0v1.0h-1.0zM218.4 75.4h1.0v1.0h-1.0zM195.2 112.2h1.0v1.0h-1.0zM201.8 91.2h1.0v1.0h-1.0zM211.0 86.2h1.0v1.0h-1.0zM200.2 100.8h1.0v1.0h-1.0zM203.6 95.9h1.0v1.0h-1.0zM200.8 94.0h1.0v1.0h-1.0zM198.4 105.4h1.0v1.0h-1.0zM209.0 91.5h1.0v1.0h-1.0zM211.9 85.5h1.0v1.0h-1.0zM197.7 76.7h1.0v1.0h-1.0zM213.4 84.5h1.0v1.0h-1.0zM200.6 92.9h1.0v1.0h-1.0zM210.8 94.8h1.0v1.0h-1.0zM205.7 86.7h1.0v1.0h-1.0zM208.6 105.7h1.0v1.0h-1.0zM209.2 79.0h1.0v1.0h-1.0zM197.3 95.4h1.0v1.0h-1.0zM196.4 98.4h1.0v1.0h-1.0zM204.8 95.6h1.0v1.0h-1.0zM205.6 98.1h1.0v1.0h-1.0zM200.6 86.9h1.0v1.0h-1.0zM221.7 86.7h1.0v1.0h-1.0zM197.1 100.6h1.0v1.0h-1.0zM206.4 84.2h1.0v1.0h-1.0zM194.6 93.7h1.0v1.0h-1.0zM203.9 107.3h1.0v1.0h-1.0zM200.0 101.7h1.0v1.0h-1.0zM197.7 91.0h1.0v1.0h-1.0zM199.6 91.9h1.0v1.0h-1.0zM203.8 103.6h1.0v1.0h-1.0zM193.4 101.2h1.0v1.0h-1.0zM205.6 81.5h1.0v1.0h-1.0zM209.0 78.2h1.0v1.0h-1.0zM202.8 94.7h1.0v1.0h-1.0zM200.7 96.4h1.0v1.0h-1.0zM202.3 91.3h1.0v1.0h-1.0zM195.9 88.9h1.0v1.0h-1.0zM201.2 85.8h1.0v1.0h-1.0zM202.7 93.5h1.0v1.0h-1.0zM201.3 73.7h1.0v1.0h-1.0zM200.4 95.6h1.0v1.0h-1.0zM202.3 101.0h1.0v1.0h-1.0zM209.1 99.7h1.0v1.0h-1.0zM208.1 82.5h1.0v1.0h-1.0zM200.7 85.4h1.0v1.0h-1.0zM204.6 94.7h1.0v1.0h-1.0zM204.6 90.6h1.0v1.0h-1.0zM206.6 95.4h1.0v1.0h-1.0zM204.4 95.5h1.0v1.0h-1.0zM205.2 81.2h1.0v1.0h-1.0zM205.0 97.0h1.0v1.0h-1.0zM204.5 87.7h1.0v1.0h-1.0zM219.6 90.6h1.0v1.0h-1.0zM201.7 93.9h1.0v1.0h-1.0zM197.2 90.3h1.0v1.0h-1.0zM210.1 104.9h1.0v1.0h-1.0zM205.1 99.0h1.0v1.0h-1.0zM200.7 101.0h1.0v1.0h-1.0zM204.9 87.8h1.0v1.0h-1.0zM200.9 100.5h1.0v1.0h-1.0zM203.1 99.0h1.0v1.0h-1.0zM211.4 109.9h1.0v1.0h-1.0zM205.7 83.5h1.0v1.0h-1.0zM209.5 83.7h1.0v1.0h-1.0zM210.1 89.0h1.0v1.0h-1.0zM203.7 106.8h1.0v1.0h-1.0zM191.7 89.7h1.0v1.0h-1.0zM205.9 77.4h1.0v1.0h-1.0zM201.5 88.5h1.0v1.0h-1.0zM215.9 80.6h1.0v1.0h-1.0zM201.6 113.0h1.0v1.0h-1.0zM205.1 98.4h1.0v1.0h-1.0zM208.7 81.2h1.0v1.0h-1.0zM205.4 96.8h1.0v1.0h-1.0zM197.6 117.3h1.0v1.0h-1.0zM206.3 97.7h1.0v1.0h-1.0zM218.0 83.5h1.0v1.0h-1.0zM199.3 85.8h1.0v1.0h-1.0zM197.6 96.7h1.0v1.0h-1.0zM195.2 107.1h1.0v1.0h-1.0zM209.2 102.7h1.0v1.0h-1.0zM199.4 96.7h1.0v1.0h-1.0zM212.8 84.2h1.0v1.0h-1.0zM203.0 99.3h1.0v1.0h-1.0zM198.8 106.9h1.0v1.0h-1.0zM214.0 87.4h1.0v1.0h-1.0zM208.1 84.7h1.0v1.0h-1.0zM210.7 85.5h1.0v1.0h-1.0zM207.5 97.8h1.0v1.0h-1.0zM209.9 93.0h1.0v1.0h-1.0zM188.8 104.6h1.0v1.0h-1.0zM197.5 104.2h1.0v1.0h-1.0zM203.6 99.2h1.0v1.0h-1.0zM212.6 99.6h1.0v1.0h-1.0zM217.7 81.9h1.0v1.0h-1.0zM209.8 91.9h1.0v1.0h-1.0zM203.2 91.8h1.0v1.0h-1.0zM199.2 108.0h1.0v1.0h-1.0zM193.7 87.9h1.0v1.0h-1.0zM195.3 100.9h1.0v1.0h-1.0zM199.8 95.1h1.0v1.0h-1.0zM199.1 97.1h1.0v1.0h-1.0zM211.2 90.8h1.0v1.0h-1.0zM210.0 79.1h1.0v1.0h-1.0zM202.2 100.6h1.0v1.0h-1.0zM196.4 100.9h1.0v1.0h-1.0zM200.2 70.0h1.0v1.0h-1.0zM198.4 84.2h1.0v1.0h-1.0zM204.4 91.3h1.0v1.0h-1.0zM200.7 98.4h1.0v1.0h-1.0zM206.6 79.3h1.0v1.0h-1.0zM191.8 84.6h1.0v1.0h-1.0zM210.0 100.0h1.0v1.0h-1.0zM199.4 90.0h1.0v1.0h-1.0zM203.8 105.1h1.0v1.0h-1.0zM196.0 96.8h1.0v1.0h-1.0zM200.9 102.7h1.0v1.0h-1.0zM213.0 92.3h1.0v1.0h-1.0zM194.4 92.1h1.0v1.0h-1.0zM210.9 102.6h1.0v1.0h-1.0zM195.5 114.5h1.0v1.0h-1.0zM194.6 97.7h1.0v1.0h-1.0zM200.7 91.1h1.0v1.0h-1.0zM198.3 106.1h1.0v1.0h-1.0zM201.0 84.8h1.0v1.0h-1.0zM193.3 92.6h1.0v1.0h-1.0zM199.8 94.7h1.0v1.0h-1.0zM199.6 86.1h1.0v1.0h-1.0zM210.4 92.9h1.0v1.0h-1.0zM205.3 98.4h1.0v1.0h-1.0zM208.4 76.9h1.0v1.0h-1.0zM208.7 96.0h1.0v1.0h-1.0zM217.6 76.0h1.0v1.0h-1.0zM203.6 68.4h1.0v1.0h-1.0zM195.0 99.4h1.0v1.0h-1.0zM207.2 93.1h1.0v1.0h-1.0zM201.6 99.3h1.0v1.0h-1.0zM200.7 94.9h1.0v1.0h-1.0zM213.7 72.4h1.0v1.0h-1.0zM196.4 103.5h1.0v1.0h-1.0zM202.4 89.7h1.0v1.0h-1.0zM202.6 86.1h1.0v1.0h-1.0zM211.3 92.3h1.0v1.0h-1.0zM211.1 61.1h1.0v1.0h-1.0zM208.9 72.6h1.0v1.0h-1.0zM190.8 94.8h1.0v1.0h-1.0zM215.7 76.2h1.0v1.0h-1.0zM206.8 98.3h1.0v1.0h-1.0zM196.7 96.8h1.0v1.0h-1.0zM200.0 77.0h1.0v1.0h-1.0zM200.6 78.3h1.0v1.0h-1.0zM214.2 82.0h1.0v1.0h-1.0zM201.6 80.5h1.0v1.0h-1.0zM206.5 89.4h1.0v1.0h-1.0zM211.6 87.6h1.0v1.0h-1.0zM199.0 84.2h1.0v1.0h-1.0zM208.0 83.6h1.0v1.0h-1.0zM198.1 109.2h1.0v1.0h-1.0zM200.6 90.9h1.0v1.0h-1.0zM214.0 89.3h1.0v1.0h-1.0zM203.8 79.8h1.0v1.0h-1.0zM204.1 97.5h1.0v1.0h-1.0zM203.0 91.8h1.0v1.0h-1.0zM207.4 102.8h1.0v1.0h-1.0zM196.3 88.3h1.0v1.0h-1.0zM201.6 98.6h1.0v1.0h-1.0zM205.4 85.3h1.0v1.0h-1.0zM208.7 74.3h1.0v1.0h-1.0zM206.3 86.2h1.0v1.0h-1.0zM210.7 83.4h1.0v1.0h-1.0zM205.6 81.6h1.0v1.0h-1.0zM195.3 95.4h1.0v1.0h-1.0zM199.6 94.5h1.0v1.0h-1.0zM197.4 89.7h1.0v1.0h-1.0zM196.6 83.1h1.0v1.0h-1.0zM198.8 95.7h1.0v1.0h-1.0zM205.6 90.4h1.0v1.0h-1.0zM207.8 95.3h1.0v1.0h-1.0zM203.8 99.8h1.0v1.0h-1.0zM204.8 88.7h1.0v1.0h-1.0zM207.4 88.5h1.0v1.0h-1.0zM201.6 102.5h1.0v1.0h-1.0zM210.2 90.1h1.0v1.0h-1.0zM197.1 87.8h1.0v1.0h-1.0zM198.8 101.3h1.0v1.0h-1.0zM202.7 88.6h1.0v1.0h-1.0zM209.9 88.9h1.0v1.0h-1.0zM196.1 106.7h1.0v1.0h-1.0zM209.5 100.8h1.0v1.0h-1.0zM209.3 83.3h1.0v1.0h-1.0zM206.8 93.3h1.0v1.0h-1.0zM207.2 87.3h1.0v1.0h-1.0zM204.6 89.7h1.0v1.0h-1.0zM199.9 105.2h1.0v1.0h-1.0zM212.6 77.2h1.0v1.0h-1.0zM205.1 74.6h1.0v1.0h-1.0zM197.3 94.6h1.0v1.0h-1.0zM208.6 87.0h1.0v1.0h-1.0zM208.5 85.2h1.0v1.0h-1.0zM201.9 75.2h1.0v1.0h-1.0zM193.5 102.3h1.0v1.0h-1.0zM191.6 99.5h1.0v1.0h-1.0zM211.9 93.0h1.0v1.0h-1.0zM206.2 85.7h1.0v1.0h-1.0zM201.1 97.4h1.0v1.0h-1.0zM199.9 100.5h1.0v1.0h-1.0zM209.0 97.4h1.0v1.0h-1.0zM206.0 91.6h1.0v1.0h-1.0zM210.3 82.1h1.0v1.0h-1.0zM205.3 94.3h1.0v1.0h-1.0zM190.5 108.9h1.0v1.0h-1.0zM202.1 81.1h1.0v1.0h-1.0zM213.3 74.4h1.0v1.0h-1.0zM205.8 75.6h1.0v1.0h-1.0zM199.2 87.8h1.0v1.0h-1.0zM201.2 102.2h1.0v1.0h-1.0zM203.5 104.1h1.0v1.0h-1.0zM209.0 88.5h1.0v1.0h-1.0zM212.0 89.6h1.0v1.0h-1.0zM194.4 103.8h1.0v1.0h-1.0zM207.3 95.3h1.0v1.0h-1.0zM204.5 101.2h1.0v1.0h-1.0zM196.8 87.2h1.0v1.0h-1.0zM197.0 89.6h1.0v1.0h-1.0zM194.7 102.1h1.0v1.0h-1.0zM210.1 85.2h1.0v1.0h-1.0zM208.7 80.3h1.0v1.0h-1.0zM201.9 96.5h1.0v1.0h-1.0zM213.2 74.4h1.0v1.0h-1.0zM200.0 95.2h1.0v1.0h-1.0zM200.9 102.7h1.0v1.0h-1.0zM194.8 93.0h1.0v1.0h-1.0zM199.6 91.5h1.0v1.0h-1.0zM203.3 98.6h1.0v1.0h-1.0zM200.0 91.6h1.0v1.0h-1.0zM203.3 75.6h1.0v1.0h-1.0zM207.2 92.2h1.0v1.0h-1.0zM198.5 79.6h1.0v1.0h-1.0zM197.7 105.6h1.0v1.0h-1.0zM206.4 101.2h1.0v1.0h-1.0zM194.5 86.1h1.0v1.0h-1.0zM204.9 96.1h1.0v1.0h-1.0zM207.1 90.2h1.0v1.0h-1.0zM207.5 109.1h1.0v1.0h-1.0zM207.4 82.1h1.0v1.0h-1.0zM217.4 91.3h1.0v1.0h-1.0zM202.7 111.7h1.0v1.0h-1.0zM197.6 91.7h1.0v1.0h-1.0zM199.9 95.2h1.0v1.0h-1.0zM197.8 109.9h1.0v1.0h-1.0zM207.2 92.7h1.0v1.0h-1.0zM211.2 91.6h1.0v1.0h-1.0zM192.8 110.9h1.0v1.0h-1.0zM201.4 84.9h1.0v1.0h-1.0zM208.5 81.8h1.0v1.0h-1.0zM201.8 84.5h1.0v1.0h-1.0zM205.9 81.4h1.0v1.0h-1.0zM197.4 90.2h1.0v1.0h-1.0zM214.1 103.9h1.0v1.0h-1.0zM214.1 79.4h1.0v1.0h-1.0zM208.6 80.5h1.0v1.0h-1.0zM209.1 91.1h1.0v1.0h-1.0zM204.5 90.6h1.0v1.0h-1.0zM206.9 76.0h1.0v1.0h-1.0zM212.7 80.1h1.0v1.0h-1.0zM198.7 85.7h1.0v1.0h-1.0zM199.0 92.0h1.0v1.0h-1.0zM208.4 96.1h1.0v1.0h-1.0zM204.9 92.0h1.0v1.0h-1.0zM216.1 76.5h1.0v1.0h-1.0zM209.7 83.7h1.0v1.0h-1.0zM197.1 88.4h1.0v1.0h-1.0zM199.4 95.7h1.0v1.0h-1.0zM219.4 72.8h1.0v1.0h-1.0zM195.6 109.0h1.0v1.0h-1.0zM202.8 106.6h1.0v1.0h-1.0zM210.3 78.5h1.0v1.0h-1.0zM194.9 95.1h1.0v1.0h-1.0zM212.1 87.0h1.0v1.0h-1.0zM201.4 93.1h1.0v1.0h-1.0zM195.7 83.8h1.0v1.0h-1.0zM203.9 115.2h1.0v1.0h-1.0zM195.9 107.8h1.0v1.0h-1.0zM204.3 82.6h1.0v1.0h-1.0zM192.3 111.8h1.0v1.0h-1.0zM205.0 93.9h1.0v1.0h-1.0zM202.6 89.0h1.0v1.0h-1.0zM211.8 88.2h1.0v1.0h-1.0zM202.8 95.1h1.0v1.0h-1.0zM208.8 94.6h1.0v1.0h-1.0zM214.3 93.3h1.0v1.0h-1.0zM202.5 85.6h1.0v1.0h-1.0zM193.3 77.8h1.0v1.0h-1.0zM208.4 96.2h1.0v1.0h-1.0zM198.0 92.6h1.0v1.0h-1.0zM194.0 83.8h1.0v1.0h-1.0zM204.0 99.0h1.0v1.0h-1.0zM196.0 97.8h1.0v1.0h-1.0zM215.9 92.0h1.0v1.0h-1.0zM214.3 79.0h1.0v1.0h-1.0zM190.7 92.2h1.0v1.0h-1.0zM203.3 93.3h1.0v1.0h-1.0zM201.9 87.3h1.0v1.0h-1.0zM201.4 109.1h1.0v1.0h-1.0zM209.5 75.8h1.0v1.0h-1.0zM208.5 100.0h1.0v1.0h-1.0zM206.9 94.7h1.0v1.0h-1.0zM216.4 97.8h1.0v1.0h-1.0zM214.3 75.7h1.0v1.0h-1.0zM203.5 83.7h1.0v1.0h-1.0zM202.3 94.5h1.0v1.0h-1.0zM192.8 105.4h1.0v1.0h-1.0zM199.9 84.7h1.0v1.0h-1.0zM210.3 80.6h1.0v1.0h-1.0zM204.5 98.6h1.0v1.0h-1.0zM194.6 108.1h1.0v1.0h-1.0zM203.2 94.2h1.0v1.0h-1.0zM205.5 73.8h1.0v1.0h-1.0zM201.8 86.9h1.0v1.0h-1.0zM198.3 97.3h1.0v1.0h-1.0zM195.5 75.2h1.0v1.0h-1.0zM188.5 99.2h1.0v1.0h-1.0zM202.9 85.3h1.0v1.0h-1.0zM194.2 96.9h1.0v1.0h-1.0zM200.8 92.4h1.0v1.0h-1.0zM203.8 97.4h1.0v1.0h-1.0zM211.5 92.7h1.0v1.0h-1.0zM200.1 97.6h1.0v1.0h-1.0zM207.3 90.2h1.0v1.0h-1.0zM206.2 86.9h1.0v1.0h-1.0zM204.1 101.7h1.0v1.0h-1.0zM196.3 108.6h1.0v1.0h-1.0zM196.4 85.5h1.0v1.0h-1.0zM215.0 91.8h1.0v1.0h-1.0zM189.5 100.3h1.0v1.0h-1.0zM211.8 81.8h1.0v1.0h-1.0zM212.4 84.0h1.0v1.0h-1.0zM197.2 86.8h1.0v1.0h-1.0zM205.8 80.2h1.0v1.0h-1.0zM206.0 81.4h1.0v1.0h-1.0zM204.4 91.4h1.0v1.0h-1.0zM209.9 89.1h1.0v1.0h-1.0zM202.0 76.1h1.0v1.0h-1.0zM196.3 104.9h1.0v1.0h-1.0zM211.2 87.7h1.0v1.0h-1.0zM213.8 83.1h1.0v1.0h-1.0zM211.1 90.4h1.0v1.0h-1.0zM205.6 99.0h1.0v1.0h-1.0zM201.1 93.8h1.0v1.0h-1.0zM198.4 88.2h1.0v1.0h-1.0zM207.4 94.0h1.0v1.0h-1.0zM194.0 98.7h1.0v1.0h-1.0zM198.1 80.1h1.0v1.0h-1.0zM210.8 81.3h1.0v1.0h-1.0zM207.9 105.2h1.0v1.0h-1.0zM203.1 85.0h1.0v1.0h-1.0zM202.4 75.4h1.0v1.0h-1.0zM203.8 98.3h1.0v1.0h-1.0zM204.8 94.8h1.0v1.0h-1.0zM199.4 93.4h1.0v1.0h-1.0zM195.8 87.9h1.0v1.0h-1.0zM206.6 107.2h1.0v1.0h-1.0zM202.8 87.3h1.0v1.0h-1.0zM204.2 111.2h1.0v1.0h-1.0zM197.4 83.9h1.0v1.0h-1.0zM200.2 103.2h1.0v1.0h-1.0zM196.7 95.3h1.0v1.0h-1.0zM192.6 112.5h1.0v1.0h-1.0zM206.9 91.3h1.0v1.0h-1.0zM197.8 100.3h1.0v1.0h-1.0zM212.1 83.2h1.0v1.0h-1.0zM210.6 79.7h1.0v1.0h-1.0zM205.1 77.8h1.0v1.0h-1.0zM199.4 81.9h1.0v1.0h-1.0zM196.4 93.9h1.0v1.0h-1.0zM209.3 91.2h1.0v1.0h-1.0zM194.5 96.1h1.0v1.0h-1.0zM200.7 68.8h1.0v1.0h-1.0zM205.3 99.3h1.0v1.0h-1.0zM210.2 91.9h1.0v1.0h-1.0zM199.1 83.7h1.0v1.0h-1.0zM210.2 85.8h1.0v1.0h-1.0zM205.8 77.0h1.0v1.0h-1.0zM194.1 96.4h1.0v1.0h-1.0zM211.2 81.9h1.0v1.0h-1.0zM200.3 83.7h1.0v1.0h-1.0zM211.7 82.1h1.0v1.0h-1.0zM211.8 71.4h1.0v1.0h-1.0zM195.3 92.3h1.0v1.0h-1.0zM213.6 83.1h1.0v1.0h-1.0zM196.4 96.9h1.0v1.0h-1.0zM204.0 85.6h1.0v1.0h-1.0zM206.0 94.6h1.0v1.0h-1.0zM206.8 101.5h1.0v1.0h-1.0zM201.3 89.0h1.0v1.0h-1.0zM209.1 78.9h1.0v1.0h-1.0zM194.6 98.0h1.0v1.0h-1.0zM191.1 96.7h1.0v1.0h-1.0zM206.1 90.9h1.0v1.0h-1.0zM205.0 97.2h1.0v1.0h-1.0zM212.2 90.8h1.0v1.0h-1.0zM203.7 88.7h1.0v1.0h-1.0zM210.4 104.8h1.0v1.0h-1.0zM200.2 86.2h1.0v1.0h-1.0zM200.0 89.9h1.0v1.0h-1.0zM195.8 113.1h1.0v1.0h-1.0zM189.7 96.5h1.0v1.0h-1.0zM209.2 86.2h1.0v1.0h-1.0zM205.1 86.6h1.0v1.0h-1.0zM200.1 100.9h1.0v1.0h-1.0zM190.2 99.9h1.0v1.0h-1.0zM195.8 104.4h1.0v1.0h-1.0zM201.2 103.9h1.0v1.0h-1.0zM202.6 102.9h1.0v1.0h-1.0zM207.6 84.1h1.0v1.0h-1.0zM204.7 99.7h1.0v1.0h-1.0zM223.7 78.4h1.0v1.0h-1.0zM198.5 100.8h1.0v1.0h-1.0zM198.0 86.4h1.0v1.0h-1.0zM209.8 109.8h1.0v1.0h-1.0zM193.3 102.5h1.0v1.0h-1.0zM207.3 101.6h1.0v1.0h-1.0zM205.1 94.7h1.0v1.0h-1.0zM201.3 84.8h1.0v1.0h-1.0zM207.4 94.7h1.0v1.0h-1.0zM215.5 93.1h1.0v1.0h-1.0zM192.1 82.7h1.0v1.0h-1.0zM203.9 95.8h1.0v1.0h-1.0zM207.7 84.3h1.0v1.0h-1.0zM214.9 89.2h1.0v1.0h-1.0zM209.0 90.8h1.0v1.0h-1.0zM191.6 101.7h1.0v1.0h-1.0zM193.7 77.8h1.0v1.0h-1.0zM207.8 89.5h1.0v1.0h-1.0zM208.5 92.6h1.0v1.0h-1.0zM192.7 110.4h1.0v1.0h-1.0zM203.4 89.7h1.0v1.0h-1.0zM201.1 82.2h1.0v1.0h-1.0zM205.2 98.5h1.0v1.0h-1.0zM206.8 85.3h1.0v1.0h-1.0zM214.7 77.9h1.0v1.0h-1.0zM203.1 88.6h1.0v1.0h-1.0zM198.7 91.1h1.0v1.0h-1.0zM203.6 82.8h1.0v1.0h-1.0zM210.8 103.0h1.0v1.0h-1.0zM210.3 95.2h1.0v1.0h-1.0zM206.1 101.3h1.0v1.0h-1.0zM201.0 116.5h1.0v1.0h-1.0zM201.7 93.7h1.0v1.0h-1.0zM196.3 88.7h1.0v1.0h-1.0zM209.8 88.2h1.0v1.0h-1.0zM205.0 106.4h1.0v1.0h-1.0zM195.9 103.9h1.0v1.0h-1.0zM211.7 100.5h1.0v1.0h-1.0zM192.6 103.0h1.0v1.0h-1.0zM204.6 88.1h1.0v1.0h-1.0zM206.8 87.3h1.0v1.0h-1.0zM206.7 101.7h1.0v1.0h-1.0zM208.3 100.3h1.0v1.0h-1.0zM200.3 88.6h1.0v1.0h-1.0zM210.5 90.4h1.0v1.0h-1.0zM221.0 96.9h1.0v1.0h-1.0zM196.1 101.1h1.0v1.0h-1.0zM208.2 93.6h1.0v1.0h-1.0zM201.0 95.3h1.0v1.0h-1.0zM205.5 101.0h1.0v1.0h-1.0zM200.6 95.2h1.0v1.0h-1.0zM205.5 101.0h1.0v1.0h-1.0zM200.7 88.0h1.0v1.0h-1.0zM201.2 100.9h1.0v1.0h-1.0zM207.9 92.3h1.0v1.0h-1.0zM197.0 108.1h1.0v1.0h-1.0zM199.4 93.3h1.0v1.0h-1.0zM211.2 99.0h1.0v1.0h-1.0zM191.3 90.4h1.0v1.0h-1.0zM202.3 90.0h1.0v1.0h-1.0zM207.9 98.9h1.0v1.0h-1.0zM198.9 99.5h1.0v1.0h-1.0zM206.0 94.0h1.0v1.0h-1.0zM204.6 95.0h1.0v1.0h-1.0zM204.0 87.0h1.0v1.0h-1.0zM208.0 83.3h1.0v1.0h-1.0zM191.8 100.8h1.0v1.0h-1.0zM202.8 91.2h1.0v1.0h-1.0zM203.2 91.9h1.0v1.0h-1.0zM203.9 92.7h1.0v1.0h-1.0zM195.8 98.6h1.0v1.0h-1.0zM196.0 99.8h1.0v1.0h-1.0zM197.8 77.6h1.0v1.0h-1.0zM210.0 93.1h1.0v1.0h-1.0zM198.8 93.8h1.0v1.0h-1.0zM198.0 90.2h1.0v1.0h-1.0zM193.7 82.5h1.0v1.0h-1.0zM198.2 95.3h1.0v1.0h-1.0zM212.3 86.3h1.0v1.0h-1.0zM215.2 90.5h1.0v1.0h-1.0zM202.4 65.2h1.0v1.0h-1.0zM212.8 95.0h1.0v1.0h-1.0zM203.5 83.6h1.0v1.0h-1.0zM192.5 101.7h1.0v1.0h-1.0zM196.3 108.1h1.0v1.0h-1.0zM212.5 70.0h1.0v1.0h-1.0zM210.1 90.7h1.0v1.0h-1.0zM196.3 105.7h1.0v1.0h-1.0zM197.8 102.0h1.0v1.0h-1.0zM207.0 85.1h1.0v1.0h-1.0zM209.2 87.8h1.0v1.0h-1.0zM206.8 103.8h1.0v1.0h-1.0zM201.9 97.7h1.0v1.0h-1.0zM208.2 90.9h1.0v1.0h-1.0zM209.8 92.1h1.0v1.0h-1.0zM211.2 84.8h1.0v1.0h-1.0zM202.9 96.1h1.0v1.0h-1.0zM201.4 86.3h1.0v1.0h-1.0zM198.1 97.4h1.0v1.0h-1.0zM198.3 94.3h1.0v1.0h-1.0zM210.9 99.0h1.0v1.0h-1.0zM194.7 89.3h1.0v1.0h-1.0zM210.9 92.0h1.0v1.0h-1.0zM207.6 100.4h1.0v1.0h-1.0zM207.4 90.7h1.0v1.0h-1.0zM202.2 88.5h1.0v1.0h-1.0zM202.2 97.0h1.0v1.0h-1.0zM207.5 90.4h1.0v1.0h-1.0zM202.8 95.8h1.0v1.0h-1.0zM198.2 81.1h1.0v1.0h-1.0zM200.5 88.3h1.0v1.0h-1.0zM203.6 89.1h1.0v1.0h-1.0zM196.5 96.2h1.0v1.0h-1.0zM212.2 77.8h1.0v1.0h-1.0zM208.7 81.9h1.0v1.0h-1.0zM215.2 92.2h1.0v1.0h-1.0zM201.5 92.0h1.0v1.0h-1.0zM203.2 91.2h1.0v1.0h-1.0zM211.6 98.0h1.0v1.0h-1.0zM204.0 104.5h1.0v1.0h-1.0zM191.8 105.2h1.0v1.0h-1.0zM203.9 102.6h1.0v1.0h-1.0zM196.0 97.6h1.0v1.0h-1.0zM208.5 88.3h1.0v1.0h-1.0zM214.2 103.0h1.0v1.0h-1.0zM201.9 93.4h1.0v1.0h-1.0zM204.4 104.8h1.0v1.0h-1.0zM202.3 104.8h1.0v1.0h-1.0zM217.1 84.5h1.0v1.0h-1.0zM205.2 82.5h1.0v1.0h-1.0zM198.7 105.6h1.0v1.0h-1.0zM211.9 84.3h1.0v1.0h-1.0zM198.2 100.9h1.0v1.0h-1.0zM201.5 90.1h1.0v1.0h-1.0zM213.1 76.3h1.0v1.0h-1.0zM206.9 97.3h1.0v1.0h-1.0zM211.1 84.7h1.0v1.0h-1.0zM202.2 84.9h1.0v1.0h-1.0zM205.1 93.5h1.0v1.0h-1.0zM197.4 108.9h1.0v1.0h-1.0zM214.1 88.8h1.0v1.0h-1.0zM193.5 106.3h1.0v1.0h-1.0zM196.7 104.1h1.0v1.0h-1.0zM215.0 91.2h1.0v1.0h-1.0zM202.2 92.3h1.0v1.0h-1.0zM203.3 81.2h1.0v1.0h-1.0zM198.4 99.0h1.0v1.0h-1.0zM202.4 89.3h1.0v1.0h-1.0zM207.0 78.6h1.0v1.0h-1.0zM221.7 74.5h1.0v1.0h-1.0zM198.2 95.7h1.0v1.0h-1.0zM193.9 94.3h1.0v1.0h-1.0zM214.4 87.4h1.0v1.0h-1.0zM209.7 82.6h1.0v1.0h-1.0zM206.4 94.3h1.0v1.0h-1.0zM199.7 105.2h1.0v1.0h-1.0zM201.1 105.7h1.0v1.0h-1.0zM212.4 82.8h1.0v1.0h-1.0zM203.5 97.3h1.0v1.0h-1.0zM190.7 100.9h1.0v1.0h-1.0zM202.9 95.8h1.0v1.0h-1.0zM198.8 90.7h1.0v1.0h-1.0zM207.0 90.0h1.0v1.0h-1.0zM213.1 73.1h1.0v1.0h-1.0zM216.0 85.4h1.0v1.0h-1.0zM196.0 78.1h1.0v1.0h-1.0zM197.2 95.1h1.0v1.0h-1.0zM197.9 92.6h1.0v1.0h-1.0zM199.1 111.4h1.0v1.0h-1.0zM195.8 95.8h1.0v1.0h-1.0zM196.4 95.2h1.0v1.0h-1.0zM214.2 79.3h1.0v1.0h-1.0zM202.5 78.8h1.0v1.0h-1.0zM198.8 81.8h1.0v1.0h-1.0zM204.6 76.6h1.0v1.0h-1.0zM202.3 97.4h1.0v1.0h-1.0zM199.1 83.9h1.0v1.0h-1.0zM205.0 90.1h1.0v1.0h-1.0zM196.9 97.8h1.0v1.0h-1.0zM205.9 100.4h1.0v1.0h-1.0zM194.8 109.8h1.0v1.0h-1.0zM215.2 92.7h1.0v1.0h-1.0zM198.5 102.7h1.0v1.0h-1.0zM198.0 93.8h1.0v1.0h-1.0zM207.1 85.8h1.0v1.0h-1.0zM209.1 77.2h1.0v1.0h-1.0zM209.2 72.6h1.0v1.0h-1.0zM210.4 111.4h1.0v1.0h-1.0zM209.5 97.9h1.0v1.0h-1.0zM204.3 106.2h1.0v1.0h-1.0zM205.8 103.0h1.0v1.0h-1.0zM197.3 93.8h1.0v1.0h-1.0zM205.9 80.0h1.0v1.0h-1.0zM196.0 93.2h1.0v1.0h-1.0zM215.3 82.1h1.0v1.0h-1.0zM207.6 109.7h1.0v1.0h-1.0zM203.8 86.9h1.0v1.0h-1.0zM199.6 100.8h1.0v1.0h-1.0zM206.4 81.0h1.0v1.0h-1.0zM214.3 74.0h1.0v1.0h-1.0zM200.1 103.0h1.0v1.0h-1.0zM202.5 99.9h1.0v1.0h-1.0zM203.7 99.9h1.0v1.0h-1.0zM208.2 84.8h1.0v1.0h-1.0zM203.1 90.8h1.0v1.0h-1.0zM204.3 109.9h1.0v1.0h-1.0zM209.4 86.1h1.0v1.0h-1.0zM200.8 88.5h1.0v1.0h-1.0zM210.3 98.4h1.0v1.0h-1.0zM206.8 84.9h1.0v1.0h-1.0zM207.7 96.8h1.0v1.0h-1.0zM203.3 92.8h1.0v1.0h-1.0zM213.9 94.7h1.0v1.0h-1.0zM208.2 107.5h1.0v1.0h-1.0zM200.7 100.2h1.0v1.0h-1.0zM206.7 84.1h1.0v1.0h-1.0zM206.2 83.1h1.0v1.0h-1.0zM206.7 93.4h1.0v1.0h-1.0zM203.8 100.9h1.0v1.0h-1.0zM193.4 89.1h1.0v1.0h-1.0zM198.8 90.8h1.0v1.0h-1.0zM218.4 79.7h1.0v1.0h-1.0zM205.4 91.7h1.0v1.0h-1.0zM191.0 93.3h1.0v1.0h-1.0zM206.3 87.4h1.0v1.0h-1.0zM209.2 74.6h1.0v1.0h-1.0zM200.4 86.4h1.0v1.0h-1.0zM202.2 90.3h1.0v1.0h-1.0zM196.1 94.4h1.0v1.0h-1.0zM206.9 78.4h1.0v1.0h-1.0zM201.1 86.5h1.0v1.0h-1.0zM206.7 98.5h1.0v1.0h-1.0zM202.1 91.4h1.0v1.0h-1.0zM196.9 111.1h1.0v1.0h-1.0zM198.7 94.8h1.0v1.0h-1.0zM211.9 85.1h1.0v1.0h-1.0zM204.4 94.0h1.0v1.0h-1.0zM199.1 96.0h1.0v1.0h-1.0zM205.0 104.8h1.0v1.0h-1.0zM202.2 93.3h1.0v1.0h-1.0zM221.4 87.7h1.0v1.0h-1.0zM201.6 100.7h1.0v1.0h-1.0zM202.2 98.4h1.0v1.0h-1.0zM201.9 99.3h1.0v1.0h-1.0zM211.9 93.1h1.0v1.0h-1.0zM205.3 92.0h1.0v1.0h-1.0zM201.9 90.8h1.0v1.0h-1.0zM194.8 96.0h1.0v1.0h-1.0zM206.4 111.7h1.0v1.0h-1.0zM214.9 86.3h1.0v1.0h-1.0zM215.2 89.2h1.0v1.0h-1.0zM196.2 108.7h1.0v1.0h-1.0zM194.7 97.1h1.0v1.0h-1.0zM206.2 91.3h1.0v1.0h-1.0zM197.5 93.7h1.0v1.0h-1.0zM197.2 100.4h1.0v1.0h-1.0zM216.3 82.4h1.0v1.0h-1.0zM202.5 87.9h1.0v1.0h-1.0zM202.1 78.9h1.0v1.0h-1.0zM205.3 90.3h1.0v1.0h-1.0zM197.1 83.1h1.0v1.0h-1.0zM211.8 82.2h1.0v1.0h-1.0zM192.5 104.3h1.0v1.0h-1.0zM217.8 80.4h1.0v1.0h-1.0zM195.1 92.1h1.0v1.0h-1.0zM198.5 86.8h1.0v1.0h-1.0zM199.2 96.0h1.0v1.0h-1.0zM193.2 98.3h1.0v1.0h-1.0zM210.1 76.0h1.0v1.0h-1.0zM203.8 99.7h1.0v1.0h-1.0zM204.0 88.4h1.0v1.0h-1.0zM201.5 104.1h1.0v1.0h-1.0zM202.7 97.2h1.0v1.0h-1.0zM205.3 88.4h1.0v1.0h-1.0zM197.9 92.1h1.0v1.0h-1.0zM203.3 89.0h1.0v1.0h-1.0zM207.1 98.7h1.0v1.0h-1.0zM215.2 79.7h1.0v1.0h-1.0zM209.5 88.0h1.0v1.0h-1.0zM203.0 82.2h1.0v1.0h-1.0zM207.3 102.5h1.0v1.0h-1.0zM204.7 79.9h1.0v1.0h-1.0zM205.9 87.8h1.0v1.0h-1.0zM219.0 82.7h1.0v1.0h-1.0zM195.0 85.2h1.0v1.0h-1.0zM203.5 93.2h1.0v1.0h-1.0zM199.7 112.8h1.0v1.0h-1.0zM204.3 86.2h1.0v1.0h-1.0zM193.4 89.9h1.0v1.0h-1.0zM209.7 91.7h1.0v1.0h-1.0zM210.3 95.2h1.0v1.0h-1.0zM210.9 98.7h1.0v1.0h-1.0zM200.8 83.6h1.0v1.0h-1.0zM202.7 72.4h1.0v1.0h-1.0zM201.9 100.6h1.0v1.0h-1.0zM214.9 96.3h1.0v1.0h-1.0zM207.2 81.3h1.0v1.0h-1.0zM207.8 98.0h1.0v1.0h-1.0zM197.9 96.8h1.0v1.0h-1.0zM214.7 76.3h1.0v1.0h-1.0zM207.5 95.1h1.0v1.0h-1.0zM203.6 87.2h1.0v1.0h-1.0zM207.3 110.3h1.0v1.0h-1.0zM218.7 86.0h1.0v1.0h-1.0zM196.7 98.7h1.0v1.0h-1.0zM200.3 82.5h1.0v1.0h-1.0zM208.0 98.8h1.0v1.0h-1.0zM206.9 88.7h1.0v1.0h-1.0zM199.3 96.7h1.0v1.0h-1.0zM195.1 101.5h1.0v1.0h-1.0zM204.9 82.8h1.0v1.0h-1.0zM211.7 93.9h1.0v1.0h-1.0zM208.7 89.6h1.0v1.0h-1.0zM189.4 91.5h1.0v1.0h-1.0zM192.2 98.6h1.0v1.0h-1.0zM203.1 71.2h1.0v1.0h-1.0zM204.0 96.6h1.0v1.0h-1.0zM209.5 81.2h1.0v1.0h-1.0zM214.8 80.8h1.0v1.0h-1.0zM204.7 83.7h1.0v1.0h-1.0zM198.5 98.9h1.0v1.0h-1.0zM198.2 95.6h1.0v1.0h-1.0zM214.8 78.1h1.0v1.0h-1.0zM199.2 85.7h1.0v1.0h-1.0zM199.5 93.4h1.0v1.0h-1.0zM190.5 93.9h1.0v1.0h-1.0zM208.8 92.3h1.0v1.0h-1.0zM196.4 88.7h1.0v1.0h-1.0zM198.7 95.9h1.0v1.0h-1.0zM200.6 98.4h1.0v1.0h-1.0zM195.8 104.1h1.0v1.0h-1.0zM195.5 77.1h1.0v1.0h-1.0zM212.8 79.4h1.0v1.0h-1.0zM213.0 82.7h1.0v1.0h-1.0zM208.2 83.9h1.0v1.0h-1.0zM200.9 92.5h1.0v1.0h-1.0zM205.0 88.3h1.0v1.0h-1.0zM215.8 97.3h1.0v1.0h-1.0zM194.9 98.1h1.0v1.0h-1.0zM203.5 105.2h1.0v1.0h-1.0zM217.6 87.8h1.0v1.0h-1.0zM205.2 105.0h1.0v1.0h-1.0zM203.0 94.2h1.0v1.0h-1.0zM221.1 80.0h1.0v1.0h-1.0zM199.9 93.3h1.0v1.0h-1.0zM200.5 108.3h1.0v1.0h-1.0zM194.2 88.1h1.0v1.0h-1.0zM214.1 82.1h1.0v1.0h-1.0zM196.1 109.1h1.0v1.0h-1.0zM209.0 100.1h1.0v1.0h-1.0zM207.4 90.1h1.0v1.0h-1.0zM206.8 82.6h1.0v1.0h-1.0zM206.6 89.7h1.0v1.0h-1.0zM202.7 90.4h1.0v1.0h-1.0zM207.3 96.1h1.0v1.0h-1.0zM198.0 87.9h1.0v1.0h-1.0zM208.5 88.9h1.0v1.0h-1.0zM207.1 101.9h1.0v1.0h-1.0zM197.3 92.5h1.0v1.0h-1.0zM208.5 111.1h1.0v1.0h-1.0zM200.0 100.1h1.0v1.0h-1.0zM206.2 77.1h1.0v1.0h-1.0zM206.0 95.6h1.0v1.0h-1.0zM206.9 93.0h1.0v1.0h-1.0zM207.9 88.1h1.0v1.0h-1.0zM203.2 100.8h1.0v1.0h-1.0zM200.4 99.3h1.0v1.0h-1.0zM197.5 80.5h1.0v1.0h-1.0zM204.8 111.6h1.0v1.0h-1.0zM205.8 91.7h1.0v1.0h-1.0zM195.6 92.2h1.0v1.0h-1.0zM214.3 80.4h1.0v1.0h-1.0zM205.1 97.8h1.0v1.0h-1.0zM211.0 82.8h1.0v1.0h-1.0zM213.1 79.6h1.0v1.0h-1.0zM211.6 96.9h1.0v1.0h-1.0zM192.2 101.4h1.0v1.0h-1.0zM213.0 88.9h1.0v1.0h-1.0zM220.2 88.2h1.0v1.0h-1.0zM200.9 103.6h1.0v1.0h-1.0zM203.7 91.7h1.0v1.0h-1.0zM196.7 92.4h1.0v1.0h-1.0zM201.9 80.4h1.0v1.0h-1.0zM206.5 79.7h1.0v1.0h-1.0zM218.0 83.7h1.0v1.0h-1.0zM201.1 87.3h1.0v1.0h-1.0zM200.8 99.2h1.0v1.0h-1.0zM209.7 91.2h1.0v1.0h-1.0zM201.8 91.4h1.0v1.0h-1.0zM205.7 100.4h1.0v1.0h-1.0zM209.5 71.9h1.0v1.0h-1.0zM211.9 105.9h1.0v1.0h-1.0zM204.1 95.8h1.0v1.0h-1.0zM205.2 81.6h1.0v1.0h-1.0zM203.1 89.2h1.0v1.0h-1.0zM206.5 77.2h1.0v1.0h-1.0zM199.9 96.5h1.0v1.0h-1.0zM201.2 91.0h1.0v1.0h-1.0zM193.5 85.0h1.0v1.0h-1.0zM208.3 80.5h1.0v1.0h-1.0zM192.8 91.5h1.0v1.0h-1.0zM197.6 94.5h1.0v1.0h-1.0zM199.2 96.7h1.0v1.0h-1.0zM208.3 77.4h1.0v1.0h-1.0zM204.9 88.8h1.0v1.0h-1.0zM209.4 89.5h1.0v1.0h-1.0zM198.3 98.9h1.0v1.0h-1.0zM207.3 101.8h1.0v1.0h-1.0zM207.8 98.7h1.0v1.0h-1.0zM204.7 101.9h1.0v1.0h-1.0zM206.0 93.6h1.0v1.0h-1.0zM195.0 114.3h1.0v1.0h-1.0zM205.0 89.9h1.0v1.0h-1.0zM202.1 90.8h1.0v1.0h-1.0zM209.9 82.3h1.0v1.0h-1.0zM191.9 89.9h1.0v1.0h-1.0zM194.1 90.4h1.0v1.0h-1.0zM200.1 102.9h1.0v1.0h-1.0zM211.7 99.4h1.0v1.0h-1.0zM205.7 79.9h1.0v1.0h-1.0zM199.5 90.4h1.0v1.0h-1.0zM192.4 87.6h1.0v1.0h-1.0zM201.3 97.9h1.0v1.0h-1.0zM201.8 92.1h1.0v1.0h-1.0zM201.9 86.0h1.0v1.0h-1.0zM193.8 88.8h1.0v1.0h-1.0zM211.8 97.3h1.0v1.0h-1.0zM210.0 83.9h1.0v1.0h-1.0zM215.0 88.5h1.0v1.0h-1.0zM208.0 94.9h1.0v1.0h-1.0zM194.6 99.0h1.0v1.0h-1.0zM203.4 93.7h1.0v1.0h-1.0zM206.6 92.9h1.0v1.0h-1.0zM200.0 95.3h1.0v1.0h-1.0zM201.5 91.6h1.0v1.0h-1.0zM206.4 76.8h1.0v1.0h-1.0zM202.3 85.8h1.0v1.0h-1.0zM199.3 102.9h1.0v1.0h-1.0zM194.2 89.1h1.0v1.0h-1.0zM196.1 77.0h1.0v1.0h-1.0zM210.4 70.2h1.0v1.0h-1.0zM193.2 88.9h1.0v1.0h-1.0zM204.9 91.2h1.0v1.0h-1.0zM190.8 109.7h1.0v1.0h-1.0zM206.6 83.7h1.0v1.0h-1.0zM210.7 101.7h1.0v1.0h-1.0zM197.1 102.0h1.0v1.0h-1.0zM202.2 98.3h1.0v1.0h-1.0zM209.5 83.2h1.0v1.0h-1.0zM208.7 95.8h1.0v1.0h-1.0zM201.6 82.6h1.0v1.0h-1.0zM210.7 91.0h1.0v1.0h-1.0zM201.6 98.1h1.0v1.0h-1.0zM210.9 78.4h1.0v1.0h-1.0zM203.7 102.1h1.0v1.0h-1.0zM202.2 108.9h1.0v1.0h-1.0zM202.8 100.0h1.0v1.0h-1.0zM213.9 93.2h1.0v1.0h-1.0zM206.5 112.1h1.0v1.0h-1.0zM200.8 110.7h1.0v1.0h-1.0zM212.3 86.0h1.0v1.0h-1.0zM208.9 97.8h1.0v1.0h-1.0zM205.6 94.4h1.0v1.0h-1.0zM209.2 100.4h1.0v1.0h-1.0zM198.2 94.7h1.0v1.0h-1.0zM210.9 87.2h1.0v1.0h-1.0zM203.2 87.4h1.0v1.0h-1.0zM199.3 93.7h1.0v1.0h-1.0zM201.9 111.8h1.0v1.0h-1.0zM206.4 104.3h1.0v1.0h-1.0zM204.8 107.0h1.0v1.0h-1.0zM199.1 97.4h1.0v1.0h-1.0zM206.3 91.6h1.0v1.0h-1.0zM203.6 86.3h1.0v1.0h-1.0zM207.6 80.1h1.0v1.0h-1.0zM206.9 93.1h1.0v1.0h-1.0zM203.2 95.4h1.0v1.0h-1.0zM210.4 88.4h1.0v1.0h-1.0zM210.0 77.0h1.0v1.0h-1.0zM199.7 68.9h1.0v1.0h-1.0zM219.9 79.1h1.0v1.0h-1.0zM200.6 106.6h1.0v1.0h-1.0zM194.9 105.8h1.0v1.0h-1.0zM210.3 105.1h1.0v1.0h-1.0zM214.5 103.5h1.0v1.0h-1.0zM197.9 95.0h1.0v1.0h-1.0zM206.9 79.0h1.0v1.0h-1.0zM201.1 90.5h1.0v1.0h-1.0zM199.8 91.7h1.0v1.0h-1.0zM204.4 87.8h1.0v1.0h-1.0zM203.1 76.3h1.0v1.0h-1.0zM198.7 93.0h1.0v1.0h-1.0zM211.1 106.8h1.0v1.0h-1.0zM212.0 101.0h1.0v1.0h-1.0zM208.9 79.9h1.0v1.0h-1.0zM212.8 72.6h1.0v1.0h-1.0zM195.8 106.3h1.0v1.0h-1.0zM201.2 103.3h1.0v1.0h-1.0zM207.5 78.7h1.0v1.0h-1.0zM203.0 87.4h1.0v1.0h-1.0zM202.6 113.2h1.0v1.0h-1.0zM201.4 87.2h1.0v1.0h-1.0zM204.7 88.7h1.0v1.0h-1.0zM196.8 90.1h1.0v1.0h-1.0zM204.4 96.7h1.0v1.0h-1.0zM197.9 88.3h1.0v1.0h-1.0zM190.8 96.4h1.0v1.0h-1.0zM199.6 87.3h1.0v1.0h-1.0zM203.9 85.9h1.0v1.0h-1.0zM205.4 73.6h1.0v1.0h-1.0zM212.5 98.9h1.0v1.0h-1.0zM197.0 112.2h1.0v1.0h-1.0zM201.2 97.1h1.0v1.0h-1.0zM199.3 103.2h1.0v1.0h-1.0zM205.5 96.5h1.0v1.0h-1.0zM201.5 94.3h1.0v1.0h-1.0zM218.9 76.2h1.0v1.0h-1.0zM205.0 88.2h1.0v1.0h-1.0zM210.4 73.6h1.0v1.0h-1.0zM211.5 86.4h1.0v1.0h-1.0zM204.9 87.2h1.0v1.0h-1.0zM196.7 84.2h1.0v1.0h-1.0zM197.8 79.3h1.0v1.0h-1.0zM202.3 91.6h1.0v1.0h-1.0zM204.9 91.3h1.0v1.0h-1.0zM214.0 101.6h1.0v1.0h-1.0zM199.8 83.8h1.0v1.0h-1.0zM201.2 89.2h1.0v1.0h-1.0zM204.2 83.1h1.0v1.0h-1.0zM212.9 96.8h1.0v1.0h-1.0zM203.2 89.3h1.0v1.0h-1.0zM197.2 104.6h1.0v1.0h-1.0zM202.1 103.8h1.0v1.0h-1.0zM201.8 113.0h1.0v1.0h-1.0zM211.2 76.8h1.0v1.0h-1.0zM209.7 88.4h1.0v1.0h-1.0zM196.7 82.4h1.0v1.0h-1.0zM204.9 106.0h1.0v1.0h-1.0zM212.3 84.6h1.0v1.0h-1.0zM222.6 87.9h1.0v1.0h-1.0zM209.5 79.0h1.0v1.0h-1.0zM209.5 99.7h1.0v1.0h-1.0zM208.6 95.4h1.0v1.0h-1.0zM203.0 93.9h1.0v1.0h-1.0zM189.7 96.9h1.0v1.0h-1.0zM210.7 91.1h1.0v1.0h-1.0zM202.8 95.2h1.0v1.0h-1.0zM210.9 100.2h1.0v1.0h-1.0zM206.4 87.9h1.0v1.0h-1.0zM198.2 83.4h1.0v1.0h-1.0zM205.5 90.4h1.0v1.0h-1.0zM201.4 99.5h1.0v1.0h-1.0zM205.3 96.1h1.0v1.0h-1.0zM206.9 95.8h1.0v1.0h-1.0zM202.0 96.7h1.0v1.0h-1.0zM189.5 99.8h1.0v1.0h-1.0zM193.6 97.0h1.0v1.0h-1.0zM199.6 102.7h1.0v1.0h-1.0zM208.1 84.0h1.0v1.0h-1.0zM209.2 96.9h1.0v1.0h-1.0zM204.4 93.6h1.0v1.0h-1.0zM206.2 102.5h1.0v1.0h-1.0zM211.6 79.0h1.0v1.0h-1.0zM201.4 92.6h1.0v1.0h-1.0zM212.3 100.5h1.0v1.0h-1.0zM198.7 103.3h1.0v1.0h-1.0zM203.6 92.1h1.0v1.0h-1.0zM211.0 79.3h1.0v1.0h-1.0zM207.6 98.9h1.0v1.0h-1.0zM207.2 81.5h1.0v1.0h-1.0zM199.6 105.9h1.0v1.0h-1.0zM204.9 81.4h1.0v1.0h-1.0zM212.9 79.1h1.0v1.0h-1.0zM193.7 83.2h1.0v1.0h-1.0zM201.4 88.4h1.0v1.0h-1.0zM199.7 94.3h1.0v1.0h-1.0zM205.3 86.6h1.0v1.0h-1.0zM199.0 97.3h1.0v1.0h-1.0zM205.7 103.3h1.0v1.0h-1.0zM199.9 87.4h1.0v1.0h-1.0zM211.8 78.4h1.0v1.0h-1.0zM210.6 98.9h1.0v1.0h-1.0zM200.0 92.7h1.0v1.0h-1.0zM205.3 84.9h1.0v1.0h-1.0zM208.7 89.8h1.0v1.0h-1.0zM198.9 83.4h1.0v1.0h-1.0zM207.8 82.6h1.0v1.0h-1.0zM215.4 85.8h1.0v1.0h-1.0zM210.1 105.2h1.0v1.0h-1.0zM198.4 91.6h1.0v1.0h-1.0zM211.3 93.9h1.0v1.0h-1.0zM197.1 90.8h1.0v1.0h-1.0zM221.1 84.0h1.0v1.0h-1.0zM207.1 94.2h1.0v1.0h-1.0zM205.0 88.9h1.0v1.0h-1.0zM198.1 101.5h1.0v1.0h-1.0zM211.4 85.1h1.0v1.0h-1.0zM217.9 84.7h1.0v1.0h-1.0zM207.0 96.1h1.0v1.0h-1.0zM209.2 99.0h1.0v1.0h-1.0zM210.0 95.2h1.0v1.0h-1.0zM208.0 98.3h1.0v1.0h-1.0zM218.7 91.7h1.0v1.0h-1.0zM208.8 100.0h1.0v1.0h-1.0zM207.4 88.1h1.0v1.0h-1.0zM212.5 80.5h1.0v1.0h-1.0zM193.7 96.0h1.0v1.0h-1.0zM189.7 102.2h1.0v1.0h-1.0zM201.6 94.5h1.0v1.0h-1.0zM202.8 96.9h1.0v1.0h-1.0zM204.1 88.8h1.0v1.0h-1.0zM199.1 102.1h1.0v1.0h-1.0zM205.1 107.3h1.0v1.0h-1.0zM206.9 91.9h1.0v1.0h-1.0zM192.3 94.7h1.0v1.0h-1.0zM210.4 91.2h1.0v1.0h-1.0zM203.3 106.6h1.0v1.0h-1.0zM200.3 102.8h1.0v1.0h-1.0zM212.9 77.8h1.0v1.0h-1.0zM203.2 88.0h1.0v1.0h-1.0zM210.5 86.3h1.0v1.0h-1.0zM205.6 83.0h1.0v1.0h-1.0zM203.6 93.4h1.0v1.0h-1.0zM206.2 102.5h1.0v1.0h-1.0zM204.0 95.5h1.0v1.0h-1.0zM204.2 94.2h1.0v1.0h-1.0zM222.7 74.0h1.0v1.0h-1.0zM201.9 95.3h1.0v1.0h-1.0zM214.8 85.7h1.0v1.0h-1.0zM202.5 101.6h1.0v1.0h-1.0zM209.4 74.4h1.0v1.0h-1.0zM207.0 81.0h1.0v1.0h-1.0zM211.1 86.7h1.0v1.0h-1.0zM213.3 98.5h1.0v1.0h-1.0zM201.7 86.3h1.0v1.0h-1.0zM196.5 93.8h1.0v1.0h-1.0zM213.2 94.6h1.0v1.0h-1.0zM213.0 86.5h1.0v1.0h-1.0zM196.4 114.7h1.0v1.0h-1.0zM191.4 100.7h1.0v1.0h-1.0zM218.2 78.6h1.0v1.0h-1.0zM200.2 80.5h1.0v1.0h-1.0zM211.2 91.3h1.0v1.0h-1.0zM200.3 98.9h1.0v1.0h-1.0zM203.8 95.2h1.0v1.0h-1.0zM197.8 102.4h1.0v1.0h-1.0zM193.0 106.3h1.0v1.0h-1.0zM205.5 84.8h1.0v1.0h-1.0zM205.8 98.6h1.0v1.0h-1.0zM192.4 90.1h1.0v1.0h-1.0zM200.1 82.0h1.0v1.0h-1.0zM211.9 86.9h1.0v1.0h-1.0zM207.6 90.3h1.0v1.0h-1.0zM215.1 96.7h1.0v1.0h-1.0zM202.2 79.9h1.0v1.0h-1.0zM198.6 91.8h1.0v1.0h-1.0zM200.1 101.7h1.0v1.0h-1.0zM204.5 94.4h1.0v1.0h-1.0zM206.4 92.4h1.0v1.0h-1.0zM202.5 100.6h1.0v1.0h-1.0zM210.6 89.7h1.0v1.0h-1.0zM197.7 81.1h1.0v1.0h-1.0zM215.8 70.7h1.0v1.0h-1.0zM199.7 95.7h1.0v1.0h-1.0zM205.5 81.1h1.0v1.0h-1.0zM208.1 109.7h1.0v1.0h-1.0zM197.3 104.2h1.0v1.0h-1.0zM215.8 85.5h1.0v1.0h-1.0zM222.6 90.7h1.0v1.0h-1.0zM207.1 82.0h1.0v1.0h-1.0zM209.9 80.8h1.0v1.0h-1.0zM199.6 102.5h1.0v1.0h-1.0zM206.3 90.8h1.0v1.0h-1.0zM216.2 88.2h1.0v1.0h-1.0zM210.6 92.2h1.0v1.0h-1.0zM205.1 93.4h1.0v1.0h-1.0zM205.0 92.4h1.0v1.0h-1.0zM202.1 85.5h1.0v1.0h-1.0zM206.9 92.7h1.0v1.0h-1.0zM200.6 83.3h1.0v1.0h-1.0zM200.5 90.3h1.0v1.0h-1.0zM204.7 93.8h1.0v1.0h-1.0zM200.4 91.1h1.0v1.0h-1.0zM208.3 62.8h1.0v1.0h-1.0zM210.5 77.2h1.0v1.0h-1.0zM203.8 79.1h1.0v1.0h-1.0zM212.4 82.9h1.0v1.0h-1.0zM207.6 88.6h1.0v1.0h-1.0zM203.7 75.0h1.0v1.0h-1.0zM205.0 97.0h1.0v1.0h-1.0zM200.8 110.9h1.0v1.0h-1.0zM204.4 95.5h1.0v1.0h-1.0zM202.9 92.9h1.0v1.0h-1.0zM205.8 83.2h1.0v1.0h-1.0zM222.5 80.1h1.0v1.0h-1.0zM203.6 96.9h1.0v1.0h-1.0zM208.8 83.8h1.0v1.0h-1.0zM204.9 87.5h1.0v1.0h-1.0zM198.3 89.1h1.0v1.0h-1.0zM204.0 86.1h1.0v1.0h-1.0zM212.1 84.1h1.0v1.0h-1.0zM208.9 87.5h1.0v1.0h-1.0zM206.1 93.7h1.0v1.0h-1.0zM209.3 83.7h1.0v1.0h-1.0zM203.2 82.3h1.0v1.0h-1.0zM201.9 99.2h1.0v1.0h-1.0zM211.9 90.0h1.0v1.0h-1.0zM211.0 77.4h1.0v1.0h-1.0zM195.4 78.6h1.0v1.0h-1.0zM206.7 76.1h1.0v1.0h-1.0zM192.1 92.4h1.0v1.0h-1.0zM206.4 74.6h1.0v1.0h-1.0zM216.0 99.1h1.0v1.0h-1.0zM199.5 97.2h1.0v1.0h-1.0zM193.4 104.4h1.0v1.0h-1.0zM200.9 76.1h1.0v1.0h-1.0zM206.3 84.5h1.0v1.0h-1.0zM218.2 80.6h1.0v1.0h-1.0zM199.0 92.1h1.0v1.0h-1.0zM203.0 102.2h1.0v1.0h-1.0zM196.9 112.6h1.0v1.0h-1.0zM200.7 92.1h1.0v1.0h-1.0zM209.9 90.8h1.0v1.0h-1.0zM204.2 86.7h1.0v1.0h-1.0zM205.0 79.8h1.0v1.0h-1.0zM207.2 76.1h1.0v1.0h-1.0zM212.5 78.0h1.0v1.0h-1.0zM208.3 112.0h1.0v1.0h-1.0zM210.8 92.3h1.0v1.0h-1.0zM195.8 101.2h1.0v1.0h-1.0zM202.7 97.0h1.0v1.0h-1.0zM195.7 99.4h1.0v1.0h-1.0zM199.1 90.5h1.0v1.0h-1.0zM197.1 81.3h1.0v1.0h-1.0zM208.5 88.6h1.0v1.0h-1.0zM198.3 97.5h1.0v1.0h-1.0zM198.5 102.6h1.0v1.0h-1.0zM213.0 78.6h1.0v1.0h-1.0zM193.3 96.2h1.0v1.0h-1.0zM200.7 83.0h1.0v1.0h-1.0zM208.5 89.8h1.0v1.0h-1.0zM210.0 84.7h1.0v1.0h-1.0zM201.2 102.0h1.0v1.0h-1.0zM214.6 72.2h1.0v1.0h-1.0zM207.2 93.5h1.0v1.0h-1.0zM193.3 101.9h1.0v1.0h-1.0zM194.1 104.2h1.0v1.0h-1.0zM209.1 79.2h1.0v1.0h-1.0zM203.1 94.6h1.0v1.0h-1.0zM202.6 102.3h1.0v1.0h-1.0zM197.0 93.7h1.0v1.0h-1.0zM209.0 90.7h1.0v1.0h-1.0zM202.7 80.4h1.0v1.0h-1.0zM204.8 100.5h1.0v1.0h-1.0zM204.8 77.2h1.0v1.0h-1.0zM217.0 80.2h1.0v1.0h-1.0zM208.1 84.4h1.0v1.0h-1.0zM193.8 88.2h1.0v1.0h-1.0zM197.1 104.0h1.0v1.0h-1.0zM217.1 95.2h1.0v1.0h-1.0zM205.3 103.3h1.0v1.0h-1.0zM204.6 82.2h1.0v1.0h-1.0zM214.2 91.9h1.0v1.0h-1.0zM205.0 88.6h1.0v1.0h-1.0zM205.6 85.5h1.0v1.0h-1.0zM202.9 104.6h1.0v1.0h-1.0zM207.5 77.9h1.0v1.0h-1.0zM210.2 78.0h1.0v1.0h-1.0zM195.5 101.0h1.0v1.0h-1.0zM215.1 100.4h1.0v1.0h-1.0zM195.0 95.9h1.0v1.0h-1.0zM194.5 79.6h1.0v1.0h-1.0zM209.2 101.8h1.0v1.0h-1.0zM203.1 72.9h1.0v1.0h-1.0zM208.8 93.0h1.0v1.0h-1.0zM199.0 93.7h1.0v1.0h-1.0zM208.6 72.5h1.0v1.0h-1.0zM211.0 87.4h1.0v1.0h-1.0zM203.8 76.8h1.0v1.0h-1.0zM208.5 84.6h1.0v1.0h-1.0zM208.4 90.4h1.0v1.0h-1.0zM211.4 90.5h1.0v1.0h-1.0zM208.3 71.9h1.0v1.0h-1.0zM195.0 95.2h1.0v1.0h-1.0zM196.9 91.9h1.0v1.0h-1.0zM209.3 86.4h1.0v1.0h-1.0zM210.9 76.9h1.0v1.0h-1.0zM198.7 98.8h1.0v1.0h-1.0zM213.5 93.8h1.0v1.0h-1.0zM200.7 94.8h1.0v1.0h-1.0zM208.0 98.5h1.0v1.0h-1.0zM198.4 92.8h1.0v1.0h-1.0zM212.1 87.2h1.0v1.0h-1.0zM194.6 92.8h1.0v1.0h-1.0zM202.0 101.0h1.0v1.0h-1.0zM207.0 85.7h1.0v1.0h-1.0zM205.7 81.0h1.0v1.0h-1.0zM201.0 84.0h1.0v1.0h-1.0zM196.8 100.3h1.0v1.0h-1.0zM197.4 88.0h1.0v1.0h-1.0zM194.7 103.5h1.0v1.0h-1.0zM206.9 88.7h1.0v1.0h-1.0zM208.1 94.0h1.0v1.0h-1.0zM195.1 104.2h1.0v1.0h-1.0zM200.8 108.9h1.0v1.0h-1.0zM207.1 101.3h1.0v1.0h-1.0zM209.0 81.9h1.0v1.0h-1.0zM207.5 93.8h1.0v1.0h-1.0zM207.6 93.0h1.0v1.0h-1.0zM204.2 80.7h1.0v1.0h-1.0zM202.5 104.9h1.0v1.0h-1.0zM200.5 94.9h1.0v1.0h-1.0zM214.8 87.3h1.0v1.0h-1.0zM206.6 80.5h1.0v1.0h-1.0zM209.3 96.7h1.0v1.0h-1.0zM208.1 75.4h1.0v1.0h-1.0zM198.9 100.1h1.0v1.0h-1.0zM204.0 87.0h1.0v1.0h-1.0zM212.4 81.9h1.0v1.0h-1.0zM201.8 97.1h1.0v1.0h-1.0zM203.0 82.1h1.0v1.0h-1.0zM205.7 91.2h1.0v1.0h-1.0zM201.8 92.9h1.0v1.0h-1.0zM208.9 83.7h1.0v1.0h-1.0zM198.5 94.0h1.0v1.0h-1.0zM204.6 106.6h1.0v1.0h-1.0zM194.9 99.4h1.0v1.0h-1.0zM208.2 93.1h1.0v1.0h-1.0zM203.3 100.3h1.0v1.0h-1.0zM217.9 86.4h1.0v1.0h-1.0zM207.8 91.8h1.0v1.0h-1.0zM198.2 101.5h1.0v1.0h-1.0zM212.5 84.4h1.0v1.0h-1.0zM201.5 93.0h1.0v1.0h-1.0zM192.8 96.0h1.0v1.0h-1.0zM202.9 92.9h1.0v1.0h-1.0zM198.5 108.8h1.0v1.0h-1.0zM205.6 88.5h1.0v1.0h-1.0zM215.4 91.3h1.0v1.0h-1.0zM206.7 77.8h1.0v1.0h-1.0zM208.7 96.7h1.0v1.0h-1.0zM205.8 94.3h1.0v1.0h-1.0zM206.4 84.2h1.0v1.0h-1.0zM198.0 93.7h1.0v1.0h-1.0zM198.1 106.7h1.0v1.0h-1.0zM201.8 85.4h1.0v1.0h-1.0zM192.9 101.7h1.0v1.0h-1.0zM194.2 95.7h1.0v1.0h-1.0zM212.3 93.9h1.0v1.0h-1.0zM216.4 74.2h1.0v1.0h-1.0zM208.5 75.8h1.0v1.0h-1.0zM204.9 92.2h1.0v1.0h-1.0zM196.0 98.4h1.0v1.0h-1.0zM208.0 87.8h1.0v1.0h-1.0zM207.1 77.2h1.0v1.0h-1.0zM194.4 110.4h1.0v1.0h-1.0zM198.4 93.8h1.0v1.0h-1.0zM197.8 97.6h1.0v1.0h-1.0zM207.3 90.7h1.0v1.0h-1.0zM196.4 82.8h1.0v1.0h-1.0zM211.4 92.4h1.0v1.0h-1.0zM209.3 88.9h1.0v1.0h-1.0zM192.1 91.1h1.0v1.0h-1.0zM208.0 87.3h1.0v1.0h-1.0zM200.8 93.4h1.0v1.0h-1.0zM199.4 93.4h1.0v1.0h-1.0zM212.3 69.9h1.0v1.0h-1.0zM205.6 86.0h1.0v1.0h-1.0zM197.8 93.3h1.0v1.0h-1.0zM199.1 95.4h1.0v1.0h-1.0zM209.3 95.7h1.0v1.0h-1.0zM198.5 81.4h1.0v1.0h-1.0zM210.0 91.6h1.0v1.0h-1.0zM200.0 89.0h1.0v1.0h-1.0zM205.7 95.3h1.0v1.0h-1.0zM210.8 85.9h1.0v1.0h-1.0zM203.5 88.8h1.0v1.0h-1.0zM212.3 72.8h1.0v1.0h-1.0zM208.1 79.1h1.0v1.0h-1.0zM205.2 109.2h1.0v1.0h-1.0zM209.8 103.1h1.0v1.0h-1.0zM197.5 99.3h1.0v1.0h-1.0zM200.4 96.8h1.0v1.0h-1.0zM201.4 84.3h1.0v1.0h-1.0zM199.4 108.9h1.0v1.0h-1.0zM194.8 112.1h1.0v1.0h-1.0zM207.7 83.1h1.0v1.0h-1.0zM205.4 86.6h1.0v1.0h-1.0zM199.7 100.4h1.0v1.0h-1.0zM208.0 96.4h1.0v1.0h-1.0zM203.5 92.9h1.0v1.0h-1.0zM202.4 97.3h1.0v1.0h-1.0zM202.0 96.4h1.0v1.0h-1.0zM193.7 95.8h1.0v1.0h-1.0zM212.7 97.7h1.0v1.0h-1.0zM190.9 100.6h1.0v1.0h-1.0zM214.2 64.0h1.0v1.0h-1.0zM200.4 96.8h1.0v1.0h-1.0zM201.1 104.0h1.0v1.0h-1.0zM206.8 94.5h1.0v1.0h-1.0zM197.8 77.0h1.0v1.0h-1.0zM202.2 98.4h1.0v1.0h-1.0zM200.9 83.8h1.0v1.0h-1.0zM214.2 75.7h1.0v1.0h-1.0zM194.4 85.1h1.0v1.0h-1.0zM207.3 88.1h1.0v1.0h-1.0zM191.4 86.5h1.0v1.0h-1.0zM194.1 94.6h1.0v1.0h-1.0zM202.4 94.0h1.0v1.0h-1.0zM209.6 88.6h1.0v1.0h-1.0zM203.5 105.1h1.0v1.0h-1.0zM200.8 104.8h1.0v1.0h-1.0zM196.9 98.6h1.0v1.0h-1.0zM209.4 83.6h1.0v1.0h-1.0zM205.7 86.9h1.0v1.0h-1.0zM200.6 91.3h1.0v1.0h-1.0zM211.0 91.6h1.0v1.0h-1.0zM210.6 78.9h1.0v1.0h-1.0zM199.9 102.6h1.0v1.0h-1.0zM206.5 98.1h1.0v1.0h-1.0zM205.1 81.8h1.0v1.0h-1.0zM208.9 79.5h1.0v1.0h-1.0zM193.5 97.4h1.0v1.0h-1.0zM191.8 105.9h1.0v1.0h-1.0zM194.5 92.3h1.0v1.0h-1.0zM196.9 90.6h1.0v1.0h-1.0zM198.2 89.7h1.0v1.0h-1.0zM205.0 87.4h1.0v1.0h-1.0zM200.7 106.8h1.0v1.0h-1.0zM197.2 98.4h1.0v1.0h-1.0zM204.6 91.8h1.0v1.0h-1.0zM224.6 77.5h1.0v1.0h-1.0zM207.6 73.8h1.0v1.0h-1.0zM203.2 89.0h1.0v1.0h-1.0zM208.5 108.0h1.0v1.0h-1.0zM199.7 95.1h1.0v1.0h-1.0zM212.3 97.5h1.0v1.0h-1.0zM203.1 96.9h1.0v1.0h-1.0zM199.1 80.9h1.0v1.0h-1.0zM203.6 97.6h1.0v1.0h-1.0zM200.3 86.7h1.0v1.0h-1.0zM203.9 90.2h1.0v1.0h-1.0zM207.3 94.5h1.0v1.0h-1.0zM210.6 79.4h1.0v1.0h-1.0zM197.0 92.2h1.0v1.0h-1.0zM194.2 90.4h1.0v1.0h-1.0zM203.7 82.9h1.0v1.0h-1.0zM210.2 87.3h1.0v1.0h-1.0zM202.0 83.6h1.0v1.0h-1.0zM192.5 86.5h1.0v1.0h-1.0zM198.8 99.8h1.0v1.0h-1.0zM211.9 68.5h1.0v1.0h-1.0zM215.6 85.1h1.0v1.0h-1.0zM209.2 79.2h1.0v1.0h-1.0zM200.0 84.6h1.0v1.0h-1.0zM205.2 101.5h1.0v1.0h-1.0zM198.7 94.8h1.0v1.0h-1.0zM201.5 91.8h1.0v1.0h-1.0zM202.3 97.7h1.0v1.0h-1.0zM201.2 89.0h1.0v1.0h-1.0zM204.8 93.1h1.0v1.0h-1.0zM192.7 105.4h1.0v1.0h-1.0zM198.4 97.4h1.0v1.0h-1.0zM200.1 103.3h1.0v1.0h-1.0zM207.8 80.0h1.0v1.0h-1.0zM195.5 112.5h1.0v1.0h-1.0zM211.7 81.7h1.0v1.0h-1.0zM196.0 102.7h1.0v1.0h-1.0zM197.0 86.6h1.0v1.0h-1.0zM193.6 110.6h1.0v1.0h-1.0zM197.1 102.9h1.0v1.0h-1.0zM203.5 82.7h1.0v1.0h-1.0zM206.9 99.7h1.0v1.0h-1.0zM192.0 93.3h1.0v1.0h-1.0zM209.9 87.6h1.0v1.0h-1.0zM204.1 94.6h1.0v1.0h-1.0zM203.7 85.2h1.0v1.0h-1.0zM201.4 87.5h1.0v1.0h-1.0zM196.9 88.0h1.0v1.0h-1.0zM195.5 88.7h1.0v1.0h-1.0zM207.7 82.0h1.0v1.0h-1.0zM200.8 111.3h1.0v1.0h-1.0zM216.7 82.4h1.0v1.0h-1.0zM210.0 96.7h1.0v1.0h-1.0zM206.1 86.1h1.0v1.0h-1.0zM198.3 104.2h1.0v1.0h-1.0zM208.6 89.2h1.0v1.0h-1.0zM202.0 86.2h1.0v1.0h-1.0zM199.6 110.0h1.0v1.0h-1.0zM198.2 89.0h1.0v1.0h-1.0zM204.9 83.8h1.0v1.0h-1.0zM203.9 97.6h1.0v1.0h-1.0zM200.4 78.8h1.0v1.0h-1.0zM209.2 97.4h1.0v1.0h-1.0zM208.8 88.3h1.0v1.0h-1.0zM200.0 94.8h1.0v1.0h-1.0zM205.7 80.4h1.0v1.0h-1.0zM200.3 99.8h1.0v1.0h-1.0zM194.1 98.7h1.0v1.0h-1.0zM211.2 85.5h1.0v1.0h-1.0zM204.2 91.2h1.0v1.0h-1.0zM204.7 99.2h1.0v1.0h-1.0zM202.3 76.3h1.0v1.0h-1.0zM209.1 95.1h1.0v1.0h-1.0zM204.9 95.6h1.0v1.0h-1.0zM217.1 84.4h1.0v1.0h-1.0zM213.2 86.8h1.0v1.0h-1.0zM202.5 105.5h1.0v1.0h-1.0zM194.8 91.9h1.0v1.0h-1.0zM203.6 88.3h1.0v1.0h-1.0zM208.4 82.2h1.0v1.0h-1.0zM196.1 95.2h1.0v1.0h-1.0zM210.8 88.5h1.0v1.0h-1.0zM208.5 97.5h1.0v1.0h-1.0zM200.7 83.9h1.0v1.0h-1.0zM209.1 83.5h1.0v1.0h-1.0zM212.1 96.7h1.0v1.0h-1.0zM210.2 83.3h1.0v1.0h-1.0zM202.2 82.3h1.0v1.0h-1.0zM206.5 89.9h1.0v1.0h-1.0zM201.1 93.8h1.0v1.0h-1.0zM199.2 105.5h1.0v1.0h-1.0zM207.0 82.0h1.0v1.0h-1.0zM198.0 104.8h1.0v1.0h-1.0zM200.8 90.7h1.0v1.0h-1.0zM200.4 94.4h1.0v1.0h-1.0zM208.6 84.9h1.0v1.0h-1.0zM199.0 99.5h1.0v1.0h-1.0zM206.2 102.5h1.0v1.0h-1.0zM209.9 90.7h1.0v1.0h-1.0zM198.3 99.1h1.0v1.0h-1.0zM197.9 88.3h1.0v1.0h-1.0zM195.5 83.8h1.0v1.0h-1.0zM205.0 79.1h1.0v1.0h-1.0zM210.0 86.4h1.0v1.0h-1.0zM203.0 88.4h1.0v1.0h-1.0zM194.3 102.6h1.0v1.0h-1.0zM200.5 92.2h1.0v1.0h-1.0zM198.8 84.2h1.0v1.0h-1.0zM203.4 88.1h1.0v1.0h-1.0zM200.2 91.5h1.0v1.0h-1.0zM212.9 94.2h1.0v1.0h-1.0zM204.8 87.8h1.0v1.0h-1.0zM211.2 112.2h1.0v1.0h-1.0zM204.1 99.3h1.0v1.0h-1.0zM200.7 88.6h1.0v1.0h-1.0zM204.6 93.2h1.0v1.0h-1.0zM202.5 82.6h1.0v1.0h-1.0zM205.5 95.7h1.0v1.0h-1.0zM192.2 87.4h1.0v1.0h-1.0zM213.4 88.9h1.0v1.0h-1.0zM211.1 79.2h1.0v1.0h-1.0zM212.9 83.6h1.0v1.0h-1.0zM198.5 85.8h1.0v1.0h-1.0zM219.1 91.8h1.0v1.0h-1.0zM195.3 92.8h1.0v1.0h-1.0zM198.6 107.0h1.0v1.0h-1.0zM203.5 74.3h1.0v1.0h-1.0zM200.8 94.3h1.0v1.0h-1.0zM201.5 102.2h1.0v1.0h-1.0zM199.2 80.7h1.0v1.0h-1.0zM199.9 98.9h1.0v1.0h-1.0zM208.2 89.0h1.0v1.0h-1.0zM195.0 97.1h1.0v1.0h-1.0zM198.2 118.2h1.0v1.0h-1.0zM196.5 105.8h1.0v1.0h-1.0zM199.6 83.9h1.0v1.0h-1.0zM202.2 85.9h1.0v1.0h-1.0zM201.4 84.7h1.0v1.0h-1.0zM205.5 87.5h1.0v1.0h-1.0zM207.8 92.5h1.0v1.0h-1.0zM198.1 104.8h1.0v1.0h-1.0zM205.0 93.8h1.0v1.0h-1.0zM203.6 92.2h1.0v1.0h-1.0zM210.2 85.9h1.0v1.0h-1.0zM203.8 108.5h1.0v1.0h-1.0zM212.1 90.0h1.0v1.0h-1.0zM197.1 83.9h1.0v1.0h-1.0zM201.5 99.4h1.0v1.0h-1.0zM204.2 88.5h1.0v1.0h-1.0zM214.8 89.3h1.0v1.0h-1.0zM206.1 102.3h1.0v1.0h-1.0zM195.7 91.0h1.0v1.0h-1.0zM204.7 81.8h1.0v1.0h-1.0zM200.3 73.2h1.0v1.0h-1.0zM207.7 89.2h1.0v1.0h-1.0zM209.7 82.8h1.0v1.0h-1.0zM203.3 88.5h1.0v1.0h-1.0zM202.3 73.1h1.0v1.0h-1.0zM205.7 94.0h1.0v1.0h-1.0zM199.4 88.5h1.0v1.0h-1.0zM200.2 109.6h1.0v1.0h-1.0zM196.7 95.1h1.0v1.0h-1.0zM215.1 97.3h1.0v1.0h-1.0zM222.1 72.0h1.0v1.0h-1.0zM211.8 95.0h1.0v1.0h-1.0zM190.8 94.2h1.0v1.0h-1.0zM204.8 105.0h1.0v1.0h-1.0zM210.5 94.3h1.0v1.0h-1.0zM201.8 85.7h1.0v1.0h-1.0zM202.2 95.2h1.0v1.0h-1.0zM201.2 90.9h1.0v1.0h-1.0zM207.4 96.7h1.0v1.0h-1.0zM200.1 83.8h1.0v1.0h-1.0zM201.6 78.1h1.0v1.0h-1.0zM210.9 84.1h1.0v1.0h-1.0zM199.4 86.7h1.0v1.0h-1.0zM209.7 90.4h1.0v1.0h-1.0zM198.4 99.0h1.0v1.0h-1.0zM204.7 96.9h1.0v1.0h-1.0zM213.1 84.9h1.0v1.0h-1.0zM207.6 86.5h1.0v1.0h-1.0zM206.2 101.4h1.0v1.0h-1.0zM193.0 101.2h1.0v1.0h-1.0zM193.0 99.4h1.0v1.0h-1.0zM208.5 84.3h1.0v1.0h-1.0zM199.2 86.2h1.0v1.0h-1.0zM206.7 85.2h1.0v1.0h-1.0zM212.6 80.4h1.0v1.0h-1.0zM203.9 91.6h1.0v1.0h-1.0zM192.6 89.9h1.0v1.0h-1.0zM207.1 66.2h1.0v1.0h-1.0zM201.6 88.1h1.0v1.0h-1.0zM210.8 89.5h1.0v1.0h-1.0zM206.1 108.1h1.0v1.0h-1.0zM204.6 106.2h1.0v1.0h-1.0zM208.1 87.5h1.0v1.0h-1.0zM203.6 101.9h1.0v1.0h-1.0zM206.2 90.0h1.0v1.0h-1.0zM192.8 94.0h1.0v1.0h-1.0zM211.1 80.8h1.0v1.0h-1.0zM201.6 98.4h1.0v1.0h-1.0zM200.2 98.4h1.0v1.0h-1.0zM214.0 80.2h1.0v1.0h-1.0zM200.4 95.3h1.0v1.0h-1.0zM203.3 106.6h1.0v1.0h-1.0zM193.9 86.4h1.0v1.0h-1.0zM202.9 104.4h1.0v1.0h-1.0zM216.8 87.3h1.0v1.0h-1.0zM206.2 81.3h1.0v1.0h-1.0zM213.7 81.7h1.0v1.0h-1.0zM206.6 102.9h1.0v1.0h-1.0zM215.3 73.2h1.0v1.0h-1.0zM197.3 96.8h1.0v1.0h-1.0zM197.3 86.1h1.0v1.0h-1.0zM199.8 99.4h1.0v1.0h-1.0zM204.4 94.8h1.0v1.0h-1.0zM201.6 90.6h1.0v1.0h-1.0zM200.3 97.9h1.0v1.0h-1.0zM198.8 100.5h1.0v1.0h-1.0zM189.9 98.4h1.0v1.0h-1.0zM198.5 101.4h1.0v1.0h-1.0zM201.0 99.6h1.0v1.0h-1.0zM214.3 90.2h1.0v1.0h-1.0zM205.1 90.3h1.0v1.0h-1.0zM211.6 77.5h1.0v1.0h-1.0zM204.0 89.0h1.0v1.0h-1.0zM200.5 88.0h1.0v1.0h-1.0zM190.0 100.5h1.0v1.0h-1.0zM198.8 109.7h1.0v1.0h-1.0zM203.9 79.0h1.0v1.0h-1.0zM212.2 77.2h1.0v1.0h-1.0zM208.0 85.8h1.0v1.0h-1.0zM201.1 93.1h1.0v1.0h-1.0zM196.7 108.5h1.0v1.0h-1.0zM212.6 81.5h1.0v1.0h-1.0zM214.6 81.9h1.0v1.0h-1.0zM209.4 80.6h1.0v1.0h-1.0zM194.2 101.5h1.0v1.0h-1.0zM203.5 84.4h1.0v1.0h-1.0zM202.2 87.4h1.0v1.0h-1.0zM216.5 84.4h1.0v1.0h-1.0zM194.9 93.8h1.0v1.0h-1.0zM196.8 84.4h1.0v1.0h-1.0zM210.1 94.3h1.0v1.0h-1.0zM204.2 84.0h1.0v1.0h-1.0zM201.4 84.0h1.0v1.0h-1.0zM199.7 103.1h1.0v1.0h-1.0zM211.4 88.7h1.0v1.0h-1.0zM197.2 96.0h1.0v1.0h-1.0zM195.9 83.1h1.0v1.0h-1.0zM206.6 80.7h1.0v1.0h-1.0zM197.2 92.2h1.0v1.0h-1.0zM198.7 79.2h1.0v1.0h-1.0zM200.1 90.6h1.0v1.0h-1.0zM192.1 97.9h1.0v1.0h-1.0zM203.3 88.3h1.0v1.0h-1.0zM204.7 84.4h1.0v1.0h-1.0zM194.0 99.3h1.0v1.0h-1.0zM205.5 90.8h1.0v1.0h-1.0zM212.2 87.3h1.0v1.0h-1.0zM207.2 93.0h1.0v1.0h-1.0z"/><path fill="#f5802a" fill-opacity="0.85" d="M193.9 108.9h1.1v1.1h-1.1zM191.4 107.2h1.1v1.1h-1.1zM194.8 106.6h1.1v1.1h-1.1zM204.9 111.4h1.1v1.1h-1.1zM197.1 104.2h1.1v1.1h-1.1zM200.9 97.2h1.1v1.1h-1.1zM194.6 103.8h1.1v1.1h-1.1zM206.5 94.9h1.1v1.1h-1.1zM198.3 108.5h1.1v1.1h-1.1zM202.7 99.0h1.1v1.1h-1.1zM207.5 99.2h1.1v1.1h-1.1zM199.0 116.8h1.1v1.1h-1.1zM189.8 103.5h1.1v1.1h-1.1zM200.7 107.3h1.1v1.1h-1.1zM197.0 102.0h1.1v1.1h-1.1zM193.0 103.8h1.1v1.1h-1.1zM203.8 101.9h1.1v1.1h-1.1zM196.6 100.6h1.1v1.1h-1.1zM199.6 105.6h1.1v1.1h-1.1zM199.2 105.5h1.1v1.1h-1.1zM200.2 85.4h1.1v1.1h-1.1zM199.3 115.4h1.1v1.1h-1.1zM194.8 98.5h1.1v1.1h-1.1zM198.9 111.9h1.1v1.1h-1.1zM199.8 114.6h1.1v1.1h-1.1zM198.6 107.8h1.1v1.1h-1.1zM202.7 103.1h1.1v1.1h-1.1zM203.9 111.2h1.1v1.1h-1.1zM205.2 104.3h1.1v1.1h-1.1zM207.0 100.1h1.1v1.1h-1.1zM207.7 89.0h1.1v1.1h-1.1zM193.4 108.2h1.1v1.1h-1.1zM197.3 105.5h1.1v1.1h-1.1zM202.6 106.0h1.1v1.1h-1.1zM200.9 108.0h1.1v1.1h-1.1zM205.8 108.9h1.1v1.1h-1.1zM193.6 101.1h1.1v1.1h-1.1zM204.3 111.0h1.1v1.1h-1.1zM196.4 108.4h1.1v1.1h-1.1zM198.9 109.3h1.1v1.1h-1.1zM194.6 96.7h1.1v1.1h-1.1zM203.4 104.9h1.1v1.1h-1.1zM196.8 118.4h1.1v1.1h-1.1zM197.8 106.2h1.1v1.1h-1.1zM198.7 100.2h1.1v1.1h-1.1zM202.8 95.7h1.1v1.1h-1.1zM196.7 112.2h1.1v1.1h-1.1zM200.0 106.3h1.1v1.1h-1.1zM201.2 110.9h1.1v1.1h-1.1zM191.4 110.9h1.1v1.1h-1.1zM194.8 104.9h1.1v1.1h-1.1zM211.3 110.0h1.1v1.1h-1.1zM208.2 105.7h1.1v1.1h-1.1zM202.5 106.5h1.1v1.1h-1.1zM203.7 100.4h1.1v1.1h-1.1zM194.8 105.8h1.1v1.1h-1.1zM194.6 97.1h1.1v1.1h-1.1zM204.2 102.3h1.1v1.1h-1.1zM198.3 96.6h1.1v1.1h-1.1zM201.3 103.1h1.1v1.1h-1.1zM200.9 104.2h1.1v1.1h-1.1zM209.3 105.5h1.1v1.1h-1.1zM190.5 102.7h1.1v1.1h-1.1zM199.4 106.2h1.1v1.1h-1.1zM189.8 109.8h1.1v1.1h-1.1zM199.7 104.9h1.1v1.1h-1.1zM191.4 105.6h1.1v1.1h-1.1zM196.3 113.7h1.1v1.1h-1.1zM200.8 96.6h1.1v1.1h-1.1zM202.5 99.5h1.1v1.1h-1.1zM204.2 98.9h1.1v1.1h-1.1zM199.7 103.5h1.1v1.1h-1.1zM200.8 101.8h1.1v1.1h-1.1zM196.2 103.5h1.1v1.1h-1.1zM196.8 105.2h1.1v1.1h-1.1zM203.8 90.4h1.1v1.1h-1.1zM196.3 114.0h1.1v1.1h-1.1zM199.8 109.5h1.1v1.1h-1.1zM202.9 102.9h1.1v1.1h-1.1zM191.8 108.1h1.1v1.1h-1.1zM203.3 110.6h1.1v1.1h-1.1zM200.8 108.4h1.1v1.1h-1.1zM199.0 106.9h1.1v1.1h-1.1zM199.1 107.3h1.1v1.1h-1.1zM196.9 99.6h1.1v1.1h-1.1zM203.1 104.0h1.1v1.1h-1.1zM188.5 102.0h1.1v1.1h-1.1zM201.5 110.7h1.1v1.1h-1.1zM199.4 97.0h1.1v1.1h-1.1zM198.8 105.0h1.1v1.1h-1.1zM195.9 104.9h1.1v1.1h-1.1zM201.5 110.1h1.1v1.1h-1.1zM200.1 89.8h1.1v1.1h-1.1zM201.3 101.1h1.1v1.1h-1.1zM198.0 116.3h1.1v1.1h-1.1zM206.5 109.7h1.1v1.1h-1.1zM201.0 117.4h1.1v1.1h-1.1zM199.4 107.1h1.1v1.1h-1.1zM203.7 106.4h1.1v1.1h-1.1zM199.3 99.7h1.1v1.1h-1.1zM201.3 101.4h1.1v1.1h-1.1zM204.2 104.5h1.1v1.1h-1.1zM203.6 115.3h1.1v1.1h-1.1zM191.8 110.1h1.1v1.1h-1.1zM194.9 113.3h1.1v1.1h-1.1zM202.2 105.9h1.1v1.1h-1.1zM204.1 102.9h1.1v1.1h-1.1zM200.4 108.3h1.1v1.1h-1.1zM198.3 107.6h1.1v1.1h-1.1zM194.1 107.2h1.1v1.1h-1.1zM193.0 107.3h1.1v1.1h-1.1zM200.3 110.6h1.1v1.1h-1.1zM198.5 106.0h1.1v1.1h-1.1zM193.2 113.2h1.1v1.1h-1.1zM195.5 110.9h1.1v1.1h-1.1zM194.9 105.9h1.1v1.1h-1.1zM196.1 110.7h1.1v1.1h-1.1zM200.5 99.6h1.1v1.1h-1.1zM204.6 98.8h1.1v1.1h-1.1zM193.8 108.8h1.1v1.1h-1.1zM189.8 107.2h1.1v1.1h-1.1zM200.2 99.2h1.1v1.1h-1.1zM199.5 109.9h1.1v1.1h-1.1zM197.7 103.5h1.1v1.1h-1.1zM201.7 111.6h1.1v1.1h-1.1zM201.4 100.7h1.1v1.1h-1.1zM197.0 100.4h1.1v1.1h-1.1zM201.6 110.3h1.1v1.1h-1.1zM198.1 114.8h1.1v1.1h-1.1zM199.4 102.8h1.1v1.1h-1.1zM193.9 116.9h1.1v1.1h-1.1zM190.1 104.2h1.1v1.1h-1.1zM201.8 106.8h1.1v1.1h-1.1zM207.6 116.8h1.1v1.1h-1.1zM205.4 101.4h1.1v1.1h-1.1zM203.0 104.2h1.1v1.1h-1.1zM199.7 107.1h1.1v1.1h-1.1zM196.4 108.9h1.1v1.1h-1.1zM204.8 114.8h1.1v1.1h-1.1zM205.3 94.2h1.1v1.1h-1.1zM202.3 114.2h1.1v1.1h-1.1zM200.2 102.6h1.1v1.1h-1.1zM204.7 101.9h1.1v1.1h-1.1zM205.9 100.5h1.1v1.1h-1.1zM195.9 104.5h1.1v1.1h-1.1zM193.5 103.5h1.1v1.1h-1.1zM205.3 98.6h1.1v1.1h-1.1zM205.3 103.9h1.1v1.1h-1.1zM201.9 108.1h1.1v1.1h-1.1zM199.1 101.9h1.1v1.1h-1.1zM194.0 98.9h1.1v1.1h-1.1zM192.9 114.8h1.1v1.1h-1.1zM207.5 99.1h1.1v1.1h-1.1zM203.0 108.6h1.1v1.1h-1.1zM197.3 108.2h1.1v1.1h-1.1zM204.7 103.7h1.1v1.1h-1.1zM198.4 106.5h1.1v1.1h-1.1zM195.2 105.5h1.1v1.1h-1.1zM201.2 101.6h1.1v1.1h-1.1zM195.6 106.5h1.1v1.1h-1.1z"/><path fill="#3c3cc8" fill-opacity="0.85" d="M225.8 112.8h1.1v1.1h-1.1zM220.5 121.4h1.1v1.1h-1.1zM224.0 116.7h1.1v1.1h-1.1zM222.0 106.8h1.1v1.1h-1.1zM218.0 113.2h1.1v1.1h-1.1zM217.7 104.3h1.1v1.1h-1.1zM220.5 111.1h1.1v1.1h-1.1zM225.9 110.8h1.1v1.1h-1.1zM220.9 116.3h1.1v1.1h-1.1zM222.6 113.6h1.1v1.1h-1.1zM219.6 115.3h1.1v1.1h-1.1zM218.5 108.5h1.1v1.1h-1.1zM220.5 114.5h1.1v1.1h-1.1zM222.0 119.8h1.1v1.1h-1.1zM214.4 118.7h1.1v1.1h-1.1zM219.8 120.5h1.1v1.1h-1.1zM219.3 117.0h1.1v1.1h-1.1zM216.2 107.1h1.1v1.1h-1.1zM219.8 110.2h1.1v1.1h-1.1zM219.5 115.6h1.1v1.1h-1.1zM227.1 114.7h1.1v1.1h-1.1zM228.7 108.7h1.1v1.1h-1.1zM217.1 114.9h1.1v1.1h-1.1zM220.1 111.4h1.1v1.1h-1.1zM223.1 114.9h1.1v1.1h-1.1zM218.2 111.9h1.1v1.1h-1.1zM208.8 122.9h1.1v1.1h-1.1zM226.0 111.7h1.1v1.1h-1.1zM212.3 123.8h1.1v1.1h-1.1zM217.0 109.5h1.1v1.1h-1.1zM221.1 108.7h1.1v1.1h-1.1zM223.3 112.9h1.1v1.1h-1.1zM219.0 122.3h1.1v1.1h-1.1zM217.2 110.7h1.1v1.1h-1.1zM221.8 104.3h1.1v1.1h-1.1zM228.2 109.1h1.1v1.1h-1.1zM219.8 115.5h1.1v1.1h-1.1zM214.3 107.1h1.1v1.1h-1.1zM215.3 117.9h1.1v1.1h-1.1zM217.6 118.8h1.1v1.1h-1.1zM223.5 114.4h1.1v1.1h-1.1zM215.5 114.2h1.1v1.1h-1.1zM224.0 111.2h1.1v1.1h-1.1zM226.7 102.9h1.1v1.1h-1.1zM224.3 112.1h1.1v1.1h-1.1zM217.9 111.0h1.1v1.1h-1.1zM222.6 111.2h1.1v1.1h-1.1zM224.1 113.3h1.1v1.1h-1.1zM216.5 117.9h1.1v1.1h-1.1zM218.5 114.2h1.1v1.1h-1.1zM221.7 115.1h1.1v1.1h-1.1zM224.3 107.2h1.1v1.1h-1.1zM221.9 116.3h1.1v1.1h-1.1zM218.8 116.3h1.1v1.1h-1.1zM224.0 111.9h1.1v1.1h-1.1zM223.3 106.7h1.1v1.1h-1.1zM216.1 108.5h1.1v1.1h-1.1zM217.7 112.7h1.1v1.1h-1.1zM212.5 112.0h1.1v1.1h-1.1zM219.5 113.7h1.1v1.1h-1.1zM217.3 116.4h1.1v1.1h-1.1zM213.8 116.9h1.1v1.1h-1.1zM216.8 106.2h1.1v1.1h-1.1zM215.4 111.9h1.1v1.1h-1.1zM211.7 109.5h1.1v1.1h-1.1zM226.8 109.7h1.1v1.1h-1.1zM214.4 114.3h1.1v1.1h-1.1zM213.6 117.8h1.1v1.1h-1.1zM216.7 124.8h1.1v1.1h-1.1zM218.8 113.7h1.1v1.1h-1.1zM221.6 121.3h1.1v1.1h-1.1zM217.5 124.5h1.1v1.1h-1.1zM220.0 112.0h1.1v1.1h-1.1zM226.7 105.7h1.1v1.1h-1.1zM217.5 116.5h1.1v1.1h-1.1zM215.5 119.3h1.1v1.1h-1.1zM219.0 113.6h1.1v1.1h-1.1zM211.7 111.6h1.1v1.1h-1.1zM211.7 116.5h1.1v1.1h-1.1zM221.5 110.4h1.1v1.1h-1.1zM220.2 121.1h1.1v1.1h-1.1zM220.2 109.7h1.1v1.1h-1.1zM221.1 120.2h1.1v1.1h-1.1zM219.1 110.2h1.1v1.1h-1.1zM221.9 113.9h1.1v1.1h-1.1zM222.0 107.0h1.1v1.1h-1.1zM226.3 113.2h1.1v1.1h-1.1zM219.3 106.0h1.1v1.1h-1.1zM224.4 102.4h1.1v1.1h-1.1zM216.0 117.4h1.1v1.1h-1.1zM226.5 114.2h1.1v1.1h-1.1zM208.7 123.6h1.1v1.1h-1.1zM217.0 119.7h1.1v1.1h-1.1zM216.4 109.6h1.1v1.1h-1.1zM215.2 118.6h1.1v1.1h-1.1zM209.6 105.2h1.1v1.1h-1.1zM225.1 111.2h1.1v1.1h-1.1zM222.2 116.3h1.1v1.1h-1.1zM216.6 119.0h1.1v1.1h-1.1zM221.7 112.0h1.1v1.1h-1.1zM221.4 111.1h1.1v1.1h-1.1zM208.5 120.3h1.1v1.1h-1.1zM218.7 111.2h1.1v1.1h-1.1zM220.5 104.4h1.1v1.1h-1.1zM215.4 110.5h1.1v1.1h-1.1zM214.6 122.9h1.1v1.1h-1.1zM219.6 113.3h1.1v1.1h-1.1zM207.2 113.3h1.1v1.1h-1.1zM230.0 108.3h1.1v1.1h-1.1zM228.7 109.3h1.1v1.1h-1.1zM224.6 106.3h1.1v1.1h-1.1zM223.3 108.8h1.1v1.1h-1.1zM222.0 108.5h1.1v1.1h-1.1zM217.2 123.2h1.1v1.1h-1.1zM221.9 110.2h1.1v1.1h-1.1zM226.8 113.4h1.1v1.1h-1.1zM207.5 116.0h1.1v1.1h-1.1zM222.0 111.9h1.1v1.1h-1.1zM220.4 111.1h1.1v1.1h-1.1zM216.0 112.7h1.1v1.1h-1.1zM220.3 112.2h1.1v1.1h-1.1zM218.2 121.6h1.1v1.1h-1.1zM208.7 121.5h1.1v1.1h-1.1zM218.7 113.5h1.1v1.1h-1.1zM223.8 106.5h1.1v1.1h-1.1zM228.6 112.2h1.1v1.1h-1.1zM210.6 117.0h1.1v1.1h-1.1zM219.4 117.4h1.1v1.1h-1.1zM224.4 110.0h1.1v1.1h-1.1zM218.2 104.5h1.1v1.1h-1.1zM206.6 126.5h1.1v1.1h-1.1zM221.4 111.5h1.1v1.1h-1.1zM218.5 121.1h1.1v1.1h-1.1zM228.8 106.4h1.1v1.1h-1.1zM214.3 114.5h1.1v1.1h-1.1zM229.2 106.5h1.1v1.1h-1.1zM221.7 106.5h1.1v1.1h-1.1zM218.3 117.1h1.1v1.1h-1.1zM222.0 120.4h1.1v1.1h-1.1zM219.9 119.4h1.1v1.1h-1.1zM215.8 119.1h1.1v1.1h-1.1zM219.0 116.1h1.1v1.1h-1.1zM220.8 113.7h1.1v1.1h-1.1zM211.3 107.1h1.1v1.1h-1.1zM223.0 107.7h1.1v1.1h-1.1zM216.5 112.5h1.1v1.1h-1.1zM221.4 106.9h1.1v1.1h-1.1zM218.5 107.3h1.1v1.1h-1.1zM219.2 112.5h1.1v1.1h-1.1zM216.6 110.0h1.1v1.1h-1.1z"/><path fill="#4848c8" fill-opacity="0.80" d="M214.8 123.3h1.1v1.1h-1.1zM211.9 144.4h1.1v1.1h-1.1zM206.7 138.0h1.1v1.1h-1.1zM211.3 136.9h1.1v1.1h-1.1zM203.4 135.3h1.1v1.1h-1.1zM209.8 137.3h1.1v1.1h-1.1zM208.8 139.7h1.1v1.1h-1.1zM210.5 137.0h1.1v1.1h-1.1zM215.9 134.5h1.1v1.1h-1.1zM214.2 134.5h1.1v1.1h-1.1zM213.0 129.0h1.1v1.1h-1.1zM212.0 141.2h1.1v1.1h-1.1zM208.8 137.6h1.1v1.1h-1.1zM213.3 125.0h1.1v1.1h-1.1zM210.1 141.5h1.1v1.1h-1.1zM210.1 119.7h1.1v1.1h-1.1zM211.8 128.0h1.1v1.1h-1.1zM218.4 133.4h1.1v1.1h-1.1zM210.8 128.0h1.1v1.1h-1.1zM211.9 128.6h1.1v1.1h-1.1zM206.2 131.1h1.1v1.1h-1.1zM205.0 140.6h1.1v1.1h-1.1zM205.1 130.9h1.1v1.1h-1.1zM208.8 122.4h1.1v1.1h-1.1zM219.9 119.3h1.1v1.1h-1.1zM218.1 123.8h1.1v1.1h-1.1zM207.8 147.7h1.1v1.1h-1.1zM202.5 121.4h1.1v1.1h-1.1zM215.6 134.4h1.1v1.1h-1.1zM207.8 131.6h1.1v1.1h-1.1zM205.8 132.4h1.1v1.1h-1.1zM217.1 130.8h1.1v1.1h-1.1zM209.3 140.5h1.1v1.1h-1.1zM219.5 129.8h1.1v1.1h-1.1zM212.1 128.7h1.1v1.1h-1.1zM207.8 129.1h1.1v1.1h-1.1zM209.4 120.1h1.1v1.1h-1.1zM202.3 125.8h1.1v1.1h-1.1zM209.2 140.6h1.1v1.1h-1.1zM208.0 130.7h1.1v1.1h-1.1z"/><path fill="#4848c8" fill-opacity="0.80" d="M207.4 201.0h1.1v1.1h-1.1zM228.8 199.7h1.1v1.1h-1.1zM227.6 199.1h1.1v1.1h-1.1zM216.4 199.3h1.1v1.1h-1.1zM207.9 201.4h1.1v1.1h-1.1zM230.2 204.0h1.1v1.1h-1.1zM228.3 199.8h1.1v1.1h-1.1zM230.0 198.9h1.1v1.1h-1.1zM229.6 201.0h1.1v1.1h-1.1zM212.9 201.0h1.1v1.1h-1.1z"/><path fill="#f6a070" fill-opacity="0.80" d="M134.3 203.4h1.1v1.1h-1.1zM142.6 201.6h1.1v1.1h-1.1zM143.0 201.2h1.1v1.1h-1.1zM146.1 203.3h1.1v1.1h-1.1zM125.8 201.2h1.1v1.1h-1.1zM142.8 203.8h1.1v1.1h-1.1zM134.6 203.1h1.1v1.1h-1.1zM150.8 202.3h1.1v1.1h-1.1zM141.6 203.0h1.1v1.1h-1.1zM148.4 201.4h1.1v1.1h-1.1z"/></g><path d="M66 24.3H248.2V205.5" fill="none" stroke="#b4b4b4" stroke-width="1.3"/><path d="M65.8 24V205.5H248.6" fill="none" stroke="#2a2a2a" stroke-width="1.4"/><path d="M62 40.7H66M62 80.5H66M62 123.2H66M62 166.6H66M62 185.9H66M62 204.0H66M64 27.5H66M64 52.0H66M64 69.1H66M64 93.7H66M64 101.2H66M64 104.4H66M64 136.7H66M64 146.3H66M64 154.9H66M64 176.2H66M64 184.0H66M64 188.0H66M64 195.5H66M64 199.0H66M85.0 205.5V209M104.0 205.5V209M134.2 205.5V209M148.6 205.5V209M177.7 205.5V209M190.6 205.5V209M217.9 205.5V209M230.8 205.5V209M243.6 205.5V209M70.0 205.5V207.3M73.0 205.5V207.3M76.0 205.5V207.3M79.0 205.5V207.3M82.0 205.5V207.3M88.0 205.5V207.3M93.0 205.5V207.3M97.0 205.5V207.3M100.0 205.5V207.3M108.0 205.5V207.3M113.0 205.5V207.3M117.0 205.5V207.3M121.0 205.5V207.3M125.0 205.5V207.3M129.0 205.5V207.3M139.0 205.5V207.3M143.0 205.5V207.3M152.0 205.5V207.3M156.0 205.5V207.3M160.0 205.5V207.3M164.0 205.5V207.3M168.0 205.5V207.3M172.0 205.5V207.3M181.0 205.5V207.3M185.0 205.5V207.3M194.0 205.5V207.3M198.0 205.5V207.3M202.0 205.5V207.3M206.0 205.5V207.3M210.0 205.5V207.3M214.0 205.5V207.3M222.0 205.5V207.3M226.0 205.5V207.3M234.0 205.5V207.3M238.0 205.5V207.3M241.0 205.5V207.3" stroke="#222" stroke-width="1" fill="none"/><ellipse cx="167.5" cy="75.0" rx="34.0" ry="16.5" transform="rotate(-30.0 167.5 75.0)" fill="none" stroke="#68e455" stroke-width="2.9"/><ellipse cx="165.0" cy="108.3" rx="33.5" ry="23.0" transform="rotate(8.0 165.0 108.3)" fill="none" stroke="#e37d1c" stroke-width="3.0"/><ellipse cx="206.5" cy="89.0" rx="18.0" ry="33.0" transform="rotate(17.0 206.5 89.0)" fill="none" stroke="#f06a6a" stroke-width="3.0"/><ellipse cx="214.5" cy="110.5" rx="19.5" ry="12.5" transform="rotate(-50.0 214.5 110.5)" fill="none" stroke="#4a80f0" stroke-width="3.0"/><text x="75.6" y="54" style="font-family:'Liberation Sans',sans-serif;font-weight:bold;font-size:22.5px" fill="#000">a</text><text x="126.3" y="57.2" style="font-family:'Liberation Sans',sans-serif;font-weight:bold;font-size:16.6px" fill="#58e044">P2</text><text x="216.3" y="45.6" style="font-family:'Liberation Sans',sans-serif;font-weight:bold;font-size:16.8px" fill="#ff1a14">P1</text><text x="93.3" y="157.3" style="font-family:'Liberation Sans',sans-serif;font-weight:bold;font-size:16.6px" fill="#e8721e">CD11c<tspan font-size="13" dy="-4.6">+</tspan></text><text x="198" y="169" style="font-family:'Liberation Sans',sans-serif;font-weight:bold;font-size:16px" fill="#3a68f0">NEU</text><path d="M45.9 6 L47.3 222 H254" fill="none" stroke="#000" stroke-width="4"/><path d="M40.4 14.6 L46 4.9 L51.8 14.6" fill="none" stroke="#000" stroke-width="4" stroke-linecap="round" stroke-linejoin="miter"/><path d="M245.4 216.6 L254.1 222 L245.4 227.4" fill="none" stroke="#000" stroke-width="4" stroke-linecap="round"/><text transform="translate(36.2 147.3) rotate(-90)" style="font-family:'Liberation Sans',sans-serif;font-weight:bold;font-size:20.3px" fill="#000">F4/80</text><text x="125.4" y="248" style="font-family:'Liberation Sans',sans-serif;font-weight:bold;font-size:20.2px" fill="#000">CD11b</text><path d="M392 17H587.3V212.5" fill="none" stroke="#c0c0c0" stroke-width="1.8"/><path d="M391.6 17V212.6H587.3" fill="none" stroke="#6a6a78" stroke-width="1.5"/><text x="383.3" y="218.00" text-anchor="end" style="font-family:'Liberation Sans',sans-serif;font-weight:bold;font-size:11.8px" fill="#111" stroke="#111" stroke-width="0.2">0</text><text x="383.3" y="180.43" text-anchor="end" style="font-family:'Liberation Sans',sans-serif;font-weight:bold;font-size:11.8px" fill="#111" stroke="#111" stroke-width="0.2">20</text><text x="383.3" y="142.86" text-anchor="end" style="font-family:'Liberation Sans',sans-serif;font-weight:bold;font-size:11.8px" fill="#111" stroke="#111" stroke-width="0.2">40</text><text x="383.3" y="105.29" text-anchor="end" style="font-family:'Liberation Sans',sans-serif;font-weight:bold;font-size:11.8px" fill="#111" stroke="#111" stroke-width="0.2">60</text><text x="383.3" y="67.72" text-anchor="end" style="font-family:'Liberation Sans',sans-serif;font-weight:bold;font-size:11.8px" fill="#111" stroke="#111" stroke-width="0.2">80</text><text x="383.3" y="30.15" text-anchor="end" style="font-family:'Liberation Sans',sans-serif;font-weight:bold;font-size:11.8px" fill="#111" stroke="#111" stroke-width="0.2">100</text><path d="M386.5 212.20H392M386.5 174.94H392M386.5 137.68H392M386.5 100.42H392M386.5 63.16H392M386.5 25.90H392M390 212.20H392M390 202.88H392M390 193.57H392M390 184.25H392M390 174.94H392M390 165.62H392M390 156.31H392M390 147.00H392M390 137.68H392M390 128.37H392M390 119.05H392M390 109.73H392M390 100.42H392M390 91.10H392M390 81.79H392M390 72.47H392M390 63.16H392M390 53.84H392M390 44.53H392M390 35.22H392M390 25.90H392M392.4 212.5V217M411.2 212.5V217M480.0 212.5V217M525.5 212.5V217M568.5 212.5V217M398.1 212.5V215M401.4 212.5V215M403.7 212.5V215M405.5 212.5V215M407.0 212.5V215M408.3 212.5V215M409.4 212.5V215M410.3 212.5V215M417.7 212.5V215M421.5 212.5V215M424.1 212.5V215M426.2 212.5V215M427.9 212.5V215M429.4 212.5V215M430.6 212.5V215M431.7 212.5V215M446.9 212.5V215M455.3 212.5V215M461.2 212.5V215M465.8 212.5V215M469.5 212.5V215M472.7 212.5V215M475.4 212.5V215M477.8 212.5V215M493.7 212.5V215M501.7 212.5V215M507.4 212.5V215M511.8 212.5V215M515.4 212.5V215M518.4 212.5V215M521.1 212.5V215M523.4 212.5V215M538.4 212.5V215M546.0 212.5V215M551.4 212.5V215M555.6 212.5V215M559.0 212.5V215M561.8 212.5V215M564.3 212.5V215M566.5 212.5V215" stroke="#222" stroke-width="1" fill="none"/><path d="M393.50 209.00 C393.58 209.25 388.58 210.28 394.00 210.50 C399.42 210.50 418.83 210.47 426.00 210.30 C433.17 210.13 433.75 210.13 437.00 209.50 C440.25 208.87 443.18 206.67 445.50 206.50 C447.82 206.50 448.10 208.50 450.90 208.50 C453.70 207.95 458.97 204.70 462.30 203.20 C465.63 201.70 468.45 200.53 470.90 199.50 C473.35 198.47 475.37 197.00 477.00 197.00 C478.63 197.00 479.47 199.28 480.70 199.50 C481.93 199.50 482.97 198.30 484.40 198.30 C485.83 198.92 487.45 202.80 489.30 203.20 C491.15 203.20 493.87 200.70 495.50 200.70 C497.13 200.70 497.88 203.20 499.10 203.20 C500.32 203.00 501.48 199.92 502.80 199.50 C504.12 199.50 505.75 200.70 507.00 200.70 C508.25 200.42 508.50 198.55 510.30 197.80 C512.10 197.05 516.02 196.65 517.80 196.20 C519.58 195.75 519.93 195.10 521.00 195.10 C522.07 195.28 522.95 197.30 524.20 197.30 C525.45 196.60 526.90 191.80 528.50 190.90 C530.10 190.90 531.48 191.90 533.80 191.90 C536.12 189.93 540.62 180.52 542.40 179.10 C544.18 179.10 542.90 183.40 544.50 183.40 C546.10 181.98 549.68 174.70 552.00 170.60 C554.32 166.50 556.80 161.12 558.40 158.80 C560.00 156.70 560.35 158.80 561.60 156.70 C562.85 152.97 564.83 140.68 565.90 136.40 C566.97 132.12 567.18 135.07 568.00 131.00 C568.82 126.93 570.20 115.83 570.80 112.00 C571.40 108.17 570.65 112.00 571.60 108.00 C572.55 99.13 575.40 66.12 576.50 58.80 C577.60 58.80 577.37 64.10 578.20 64.10 C579.03 59.30 580.70 35.98 581.50 30.00 C582.30 28.20 582.42 30.00 583.00 28.20 C583.58 26.12 584.67 19.28 585.00 17.50" fill="none" stroke="#f03a3a" stroke-width="1.1" stroke-linejoin="round"/><path d="M393.50 205.00 C393.72 203.23 394.00 196.12 394.80 194.40 C395.60 194.40 396.68 194.40 398.30 194.70 C399.92 195.63 402.38 200.00 404.50 200.00 C406.62 198.88 409.03 190.12 411.00 188.00 C412.97 187.30 414.72 187.57 416.30 187.30 C417.88 187.03 418.77 186.40 420.50 186.40 C422.23 186.90 424.73 190.30 426.70 190.30 C428.67 188.05 430.68 175.10 432.30 172.90 C433.92 172.90 434.78 177.10 436.40 177.10 C438.02 176.07 440.48 171.22 442.00 166.70 C443.52 162.18 444.37 156.48 445.50 150.00 C446.63 143.52 447.72 130.60 448.80 127.80 C449.88 127.80 450.97 133.20 452.00 133.20 C453.03 131.57 453.90 122.87 455.00 118.00 C456.10 113.13 457.18 104.00 458.60 104.00 C460.02 105.40 462.22 126.40 463.50 126.40 C464.78 122.87 465.22 94.23 466.30 82.80 C467.38 71.37 469.07 60.15 470.00 57.80 C470.93 57.80 471.12 68.70 471.90 68.70 C472.68 63.78 474.10 34.28 474.70 28.30 C475.30 28.30 475.03 28.30 475.50 32.80 C475.97 39.83 477.00 63.87 477.50 70.50 C478.00 72.60 478.17 72.55 478.50 72.60 C478.83 72.60 478.87 70.80 479.50 70.80 C480.13 73.37 481.52 78.13 482.30 88.00 C483.08 97.87 483.38 118.38 484.20 130.00 C485.02 141.62 486.23 151.47 487.20 157.70 C488.17 163.93 488.65 164.18 490.00 167.40 C491.35 170.62 493.70 173.98 495.30 177.00 C496.90 180.02 498.35 182.30 499.60 185.50 C500.85 188.70 501.55 193.70 502.80 196.20 C504.05 198.70 505.67 198.37 507.10 200.50 C508.53 202.63 509.45 208.65 511.40 209.00 C513.35 209.00 516.67 202.60 518.80 202.60 C520.93 202.60 521.88 208.10 524.20 209.00 C526.52 209.00 529.50 208.00 532.70 208.00 C535.90 208.37 539.83 211.03 543.40 211.20 C546.97 211.20 550.72 209.53 554.10 209.00 C557.48 208.47 560.85 208.00 563.70 208.00 C566.55 208.17 567.82 209.47 571.20 210.00 C574.58 210.53 581.87 211.00 584.00 211.20" fill="none" stroke="#3fdc3f" stroke-width="1.1" stroke-linejoin="round"/><path d="M393.20 17.00 C393.20 48.33 393.07 174.07 393.20 205.00 C393.33 205.00 392.87 203.53 394.00 202.60 C395.13 201.67 398.35 199.40 400.00 199.40 C401.65 199.58 402.37 203.70 403.90 203.70 C405.43 202.10 407.42 190.33 409.20 189.80 C410.98 189.80 412.63 199.25 414.60 200.50 C416.57 200.50 419.05 197.30 421.00 197.30 C422.95 197.30 423.98 200.50 426.30 200.50 C428.62 199.07 432.77 190.30 434.90 188.70 C437.03 188.70 436.97 190.90 439.10 190.90 C441.23 186.98 445.55 169.30 447.70 165.20 C449.85 165.20 450.75 166.30 452.00 166.30 C453.25 161.50 453.57 144.78 455.20 136.40 C456.83 128.02 460.17 122.80 461.80 116.00 C463.43 109.20 463.92 104.45 465.00 95.60 C466.08 86.75 467.17 65.42 468.30 62.90 C469.43 62.90 469.95 80.50 471.80 80.50 C473.65 74.73 477.45 33.05 479.40 28.30 C481.35 28.30 482.42 44.05 483.50 52.00 C484.58 59.95 485.05 73.85 485.90 76.00 C486.75 76.00 487.70 64.90 488.60 64.90 C489.50 66.47 490.43 78.35 491.30 85.40 C492.17 92.45 493.05 105.17 493.80 107.20 C494.55 107.20 495.18 97.60 495.80 97.60 C496.42 98.90 496.87 105.87 497.50 115.00 C498.13 124.13 498.65 150.43 499.60 152.40 C500.55 152.40 501.77 127.52 503.20 126.80 C504.63 126.80 506.83 145.08 508.20 148.10 C509.57 148.10 510.17 144.90 511.40 144.90 C512.63 145.97 514.00 154.50 515.60 154.50 C517.20 153.97 519.13 141.87 521.00 141.70 C522.87 141.70 525.10 153.50 526.80 153.50 C528.50 149.77 529.78 119.30 531.20 119.30 C532.62 120.00 533.90 156.28 535.30 157.70 C536.70 157.70 538.42 132.08 539.60 127.80 C540.78 127.80 541.23 128.62 542.40 132.00 C543.57 135.38 545.00 145.05 546.60 148.10 C548.20 150.30 550.03 148.10 552.00 150.30 C553.97 152.62 556.27 157.73 558.40 162.00 C560.53 166.27 563.03 172.17 564.80 175.90 C566.57 179.63 567.40 182.45 569.00 184.40 C570.60 186.35 572.62 186.70 574.40 187.60 C576.18 188.50 578.45 188.55 579.70 189.80 C580.95 191.05 581.00 195.10 581.90 195.10 C582.80 192.07 584.57 175.52 585.10 171.60" fill="none" stroke="#f2923f" stroke-width="1.1" stroke-linejoin="round"/><path d="M393.2 17V206" stroke="#f2a030" stroke-width="1.6"/><path d="M393.00 211.30 C412.02 211.28 485.95 211.30 507.10 211.20 C528.25 210.65 516.33 208.90 519.90 208.00 C523.47 207.10 525.83 205.80 528.50 205.80 C531.17 205.80 533.95 208.00 535.90 208.00 C537.85 206.93 538.77 204.93 540.20 199.40 C541.63 193.87 543.25 183.53 544.50 174.80 C545.75 166.07 546.70 156.97 547.70 147.00 C548.70 137.03 549.70 129.50 550.50 115.00 C551.30 100.50 551.90 74.47 552.50 60.00 C553.10 45.53 553.30 31.43 554.10 28.20 C554.90 28.20 556.57 35.30 557.30 40.60 C558.03 45.90 557.97 47.60 558.50 60.00 C559.03 72.40 559.45 95.87 560.50 115.00 C561.55 134.13 563.73 161.45 564.80 174.80 C565.87 188.15 565.83 190.65 566.90 195.10 C567.97 199.55 569.77 200.25 571.20 201.50 C572.63 202.60 574.08 201.70 575.50 202.60 C576.92 203.50 578.45 206.72 579.70 206.90 C580.95 206.90 582.00 206.55 583.00 203.70 C584.00 200.85 585.25 192.12 585.70 189.80" fill="none" stroke="#3850e8" stroke-width="1.1" stroke-linejoin="round"/><text x="404.3" y="45.9" style="font-family:'Liberation Sans',sans-serif;font-weight:bold;font-size:22.3px" fill="#000">b</text><path d="M360.3 6 L361.8 222 H615" fill="none" stroke="#000" stroke-width="4"/><path d="M354.2 14.4 L360.3 4.9 L366.6 14.4" fill="none" stroke="#000" stroke-width="4" stroke-linecap="round"/><path d="M606.6 216.6 L615.1 222 L606.6 227.4" fill="none" stroke="#000" stroke-width="4" stroke-linecap="round"/><text transform="translate(354.8 166) rotate(-90)" style="font-family:'Liberation Sans',sans-serif;font-weight:bold;font-size:20.4px" fill="#000">% of max</text><text x="464.5" y="248" style="font-family:'Liberation Sans',sans-serif;font-weight:bold;font-size:20px" fill="#000">Ly6C</text><rect x="59.85" y="423.75" width="25.80" height="1.55" fill="#fff" stroke="#000" stroke-width="1.50"/><rect x="100.25" y="424.75" width="25.80" height="0.55" fill="#fff" stroke="#000" stroke-width="1.50"/><path d="M153.40 402.60V399.40M146.40 399.40H160.40" stroke="#000" stroke-width="1.2" fill="none"/><rect x="140.05" y="401.85" width="26.70" height="23.45" fill="#a8a8a8" stroke="#000" stroke-width="1.50"/><path d="M193.85 341.60V339.60M186.85 339.60H200.85" stroke="#000" stroke-width="1.2" fill="none"/><rect x="180.55" y="340.85" width="26.60" height="84.45" fill="#000" stroke="#000" stroke-width="1.50"/><path d="M52.70 316.90V425.30H214.10" stroke="#000" stroke-width="1.7" fill="none"/><path d="M48.40 425.30H52.70" stroke="#000" stroke-width="1.3"/><text x="47.70" y="430.20" text-anchor="end" style="font-family:'Liberation Sans',sans-serif;font-weight:bold;font-size:10.3px" fill="#111" stroke="#111" stroke-width="0.25">0</text><path d="M48.40 403.76H52.70" stroke="#000" stroke-width="1.3"/><text x="47.70" y="408.66" text-anchor="end" style="font-family:'Liberation Sans',sans-serif;font-weight:bold;font-size:10.3px" fill="#111" stroke="#111" stroke-width="0.25">10000</text><path d="M48.40 382.22H52.70" stroke="#000" stroke-width="1.3"/><text x="47.70" y="387.12" text-anchor="end" style="font-family:'Liberation Sans',sans-serif;font-weight:bold;font-size:10.3px" fill="#111" stroke="#111" stroke-width="0.25">20000</text><path d="M48.40 360.68H52.70" stroke="#000" stroke-width="1.3"/><text x="47.70" y="365.58" text-anchor="end" style="font-family:'Liberation Sans',sans-serif;font-weight:bold;font-size:10.3px" fill="#111" stroke="#111" stroke-width="0.25">30000</text><path d="M48.40 339.14H52.70" stroke="#000" stroke-width="1.3"/><text x="47.70" y="344.04" text-anchor="end" style="font-family:'Liberation Sans',sans-serif;font-weight:bold;font-size:10.3px" fill="#111" stroke="#111" stroke-width="0.25">40000</text><path d="M48.40 317.60H52.70" stroke="#000" stroke-width="1.3"/><text x="47.70" y="322.50" text-anchor="end" style="font-family:'Liberation Sans',sans-serif;font-weight:bold;font-size:10.3px" fill="#111" stroke="#111" stroke-width="0.25">50000</text><path d="M72.75 425.30V429.50" stroke="#000" stroke-width="1.3"/><text transform="translate(75.25 437.20) rotate(-45)" text-anchor="end" style="font-family:'Liberation Sans',sans-serif;font-weight:bold;font-size:10.4px" fill="#111" stroke="#111" stroke-width="0.15">CD11c<tspan font-size="8" dy="-3.6">+</tspan></text><path d="M113.15 425.30V429.50" stroke="#000" stroke-width="1.3"/><text transform="translate(115.65 437.20) rotate(-45)" text-anchor="end" style="font-family:'Liberation Sans',sans-serif;font-weight:bold;font-size:10.4px" fill="#111" stroke="#111" stroke-width="0.15">P2</text><path d="M153.40 425.30V429.50" stroke="#000" stroke-width="1.3"/><text transform="translate(155.90 437.20) rotate(-45)" text-anchor="end" style="font-family:'Liberation Sans',sans-serif;font-weight:bold;font-size:10.4px" fill="#111" stroke="#111" stroke-width="0.15">P1</text><path d="M193.85 425.30V429.50" stroke="#000" stroke-width="1.3"/><text transform="translate(196.35 437.20) rotate(-45)" text-anchor="end" style="font-family:'Liberation Sans',sans-serif;font-weight:bold;font-size:10.4px" fill="#111" stroke="#111" stroke-width="0.15">NEU</text><text x="61.80" y="306.80" style="font-family:'Liberation Sans',sans-serif;font-weight:bold;font-size:22px" fill="#000">c</text><text x="100.50" y="279.10" style="font-family:'Liberation Sans',sans-serif;font-weight:bold;font-size:18.6px" fill="#000">CTRL</text><path d="M111.10 372.30L153.80 371.50" stroke="#000" stroke-width="1.9"/><text x="125.30" y="369.10" style="font-family:'Liberation Sans',sans-serif;font-size:19px;letter-spacing:-1.05px" fill="#111">**</text><text transform="translate(8.90 290.20) rotate(-90)" text-anchor="end" style="font-family:'Liberation Sans',sans-serif;font-weight:bold;font-size:11.7px" fill="#111" stroke="#111" stroke-width="0.15">Geometric mean of Ly6c MFI</text><rect x="275.95" y="425.75" width="26.00" height="2.65" fill="#fff" stroke="#000" stroke-width="1.50"/><rect x="317.05" y="427.75" width="26.00" height="0.65" fill="#fff" stroke="#000" stroke-width="1.50"/><path d="M370.40 340.30V331.50M363.40 331.50H377.40" stroke="#000" stroke-width="1.2" fill="none"/><rect x="357.05" y="339.55" width="26.70" height="88.85" fill="#a8a8a8" stroke="#000" stroke-width="1.50"/><path d="M411.20 338.80V335.80M404.20 335.80H418.20" stroke="#000" stroke-width="1.2" fill="none"/><rect x="397.75" y="338.05" width="26.90" height="90.35" fill="#000" stroke="#000" stroke-width="1.50"/><path d="M268.80 320.60V428.40H431.30" stroke="#000" stroke-width="1.7" fill="none"/><path d="M264.50 428.40H268.80" stroke="#000" stroke-width="1.3"/><text x="263.80" y="433.30" text-anchor="end" style="font-family:'Liberation Sans',sans-serif;font-weight:bold;font-size:10.3px" fill="#111" stroke="#111" stroke-width="0.25">0</text><path d="M264.50 406.98H268.80" stroke="#000" stroke-width="1.3"/><text x="263.80" y="411.88" text-anchor="end" style="font-family:'Liberation Sans',sans-serif;font-weight:bold;font-size:10.3px" fill="#111" stroke="#111" stroke-width="0.25">10000</text><path d="M264.50 385.56H268.80" stroke="#000" stroke-width="1.3"/><text x="263.80" y="390.46" text-anchor="end" style="font-family:'Liberation Sans',sans-serif;font-weight:bold;font-size:10.3px" fill="#111" stroke="#111" stroke-width="0.25">20000</text><path d="M264.50 364.14H268.80" stroke="#000" stroke-width="1.3"/><text x="263.80" y="369.04" text-anchor="end" style="font-family:'Liberation Sans',sans-serif;font-weight:bold;font-size:10.3px" fill="#111" stroke="#111" stroke-width="0.25">30000</text><path d="M264.50 342.72H268.80" stroke="#000" stroke-width="1.3"/><text x="263.80" y="347.62" text-anchor="end" style="font-family:'Liberation Sans',sans-serif;font-weight:bold;font-size:10.3px" fill="#111" stroke="#111" stroke-width="0.25">40000</text><path d="M264.50 321.30H268.80" stroke="#000" stroke-width="1.3"/><text x="263.80" y="326.20" text-anchor="end" style="font-family:'Liberation Sans',sans-serif;font-weight:bold;font-size:10.3px" fill="#111" stroke="#111" stroke-width="0.25">50000</text><path d="M288.95 428.40V432.60" stroke="#000" stroke-width="1.3"/><text transform="translate(291.45 440.30) rotate(-45)" text-anchor="end" style="font-family:'Liberation Sans',sans-serif;font-weight:bold;font-size:10.4px" fill="#111" stroke="#111" stroke-width="0.15">CD11c<tspan font-size="8" dy="-3.6">+</tspan></text><path d="M330.05 428.40V432.60" stroke="#000" stroke-width="1.3"/><text transform="translate(332.55 440.30) rotate(-45)" text-anchor="end" style="font-family:'Liberation Sans',sans-serif;font-weight:bold;font-size:10.4px" fill="#111" stroke="#111" stroke-width="0.15">P2</text><path d="M370.40 428.40V432.60" stroke="#000" stroke-width="1.3"/><text transform="translate(372.90 440.30) rotate(-45)" text-anchor="end" style="font-family:'Liberation Sans',sans-serif;font-weight:bold;font-size:10.4px" fill="#111" stroke="#111" stroke-width="0.15">P1</text><path d="M411.20 428.40V432.60" stroke="#000" stroke-width="1.3"/><text transform="translate(413.70 440.30) rotate(-45)" text-anchor="end" style="font-family:'Liberation Sans',sans-serif;font-weight:bold;font-size:10.4px" fill="#111" stroke="#111" stroke-width="0.15">NEU</text><text x="280.50" y="306.80" style="font-family:'Liberation Sans',sans-serif;font-weight:bold;font-size:22px" fill="#000">d</text><text x="344.20" y="279.10" style="font-family:'Liberation Sans',sans-serif;font-weight:bold;font-size:18.6px" fill="#000">AA</text><path d="M333.30 317.00L375.10 315.80" stroke="#000" stroke-width="1.9"/><text x="342.20" y="312.90" style="font-family:'Liberation Sans',sans-serif;font-size:19px;letter-spacing:-1.05px" fill="#111">****</text><text transform="translate(226.80 293.60) rotate(-90)" text-anchor="end" style="font-family:'Liberation Sans',sans-serif;font-weight:bold;font-size:11.7px" fill="#111" stroke="#111" stroke-width="0.15">Geometric mean of Ly6c MFI</text><rect x="505.05" y="427.55" width="26.00" height="1.95" fill="#fff" stroke="#000" stroke-width="1.50"/><rect x="545.25" y="428.75" width="26.00" height="0.75" fill="#fff" stroke="#000" stroke-width="1.50"/><path d="M598.75 358.60V352.20M591.75 352.20H605.75" stroke="#000" stroke-width="1.2" fill="none"/><rect x="585.55" y="357.85" width="26.40" height="71.65" fill="#a8a8a8" stroke="#000" stroke-width="1.50"/><path d="M639.05 341.60V339.50M632.05 339.50H646.05" stroke="#000" stroke-width="1.2" fill="none"/><rect x="625.85" y="340.85" width="26.40" height="88.65" fill="#000" stroke="#000" stroke-width="1.50"/><path d="M498.60 321.50V429.50H658.80" stroke="#000" stroke-width="1.7" fill="none"/><path d="M494.30 429.50H498.60" stroke="#000" stroke-width="1.3"/><text x="493.60" y="434.40" text-anchor="end" style="font-family:'Liberation Sans',sans-serif;font-weight:bold;font-size:10.3px" fill="#111" stroke="#111" stroke-width="0.25">0</text><path d="M494.30 408.04H498.60" stroke="#000" stroke-width="1.3"/><text x="493.60" y="412.94" text-anchor="end" style="font-family:'Liberation Sans',sans-serif;font-weight:bold;font-size:10.3px" fill="#111" stroke="#111" stroke-width="0.25">10000</text><path d="M494.30 386.58H498.60" stroke="#000" stroke-width="1.3"/><text x="493.60" y="391.48" text-anchor="end" style="font-family:'Liberation Sans',sans-serif;font-weight:bold;font-size:10.3px" fill="#111" stroke="#111" stroke-width="0.25">20000</text><path d="M494.30 365.12H498.60" stroke="#000" stroke-width="1.3"/><text x="493.60" y="370.02" text-anchor="end" style="font-family:'Liberation Sans',sans-serif;font-weight:bold;font-size:10.3px" fill="#111" stroke="#111" stroke-width="0.25">30000</text><path d="M494.30 343.66H498.60" stroke="#000" stroke-width="1.3"/><text x="493.60" y="348.56" text-anchor="end" style="font-family:'Liberation Sans',sans-serif;font-weight:bold;font-size:10.3px" fill="#111" stroke="#111" stroke-width="0.25">40000</text><path d="M494.30 322.20H498.60" stroke="#000" stroke-width="1.3"/><text x="493.60" y="327.10" text-anchor="end" style="font-family:'Liberation Sans',sans-serif;font-weight:bold;font-size:10.3px" fill="#111" stroke="#111" stroke-width="0.25">50000</text><path d="M518.05 429.50V433.70" stroke="#000" stroke-width="1.3"/><text transform="translate(520.55 441.40) rotate(-45)" text-anchor="end" style="font-family:'Liberation Sans',sans-serif;font-weight:bold;font-size:10.4px" fill="#111" stroke="#111" stroke-width="0.15">CD11c+</text><path d="M558.25 429.50V433.70" stroke="#000" stroke-width="1.3"/><text transform="translate(560.75 441.40) rotate(-45)" text-anchor="end" style="font-family:'Liberation Sans',sans-serif;font-weight:bold;font-size:10.4px" fill="#111" stroke="#111" stroke-width="0.15">P2</text><path d="M598.75 429.50V433.70" stroke="#000" stroke-width="1.3"/><text transform="translate(601.25 441.40) rotate(-45)" text-anchor="end" style="font-family:'Liberation Sans',sans-serif;font-weight:bold;font-size:10.4px" fill="#111" stroke="#111" stroke-width="0.15">P1</text><path d="M639.05 429.50V433.70" stroke="#000" stroke-width="1.3"/><text transform="translate(641.55 441.40) rotate(-45)" text-anchor="end" style="font-family:'Liberation Sans',sans-serif;font-weight:bold;font-size:10.4px" fill="#111" stroke="#111" stroke-width="0.15">NEU</text><text x="501.00" y="306.80" style="font-family:'Liberation Sans',sans-serif;font-weight:bold;font-size:22px" fill="#000">e</text><text x="530.00" y="278.00" style="font-family:'Liberation Sans',sans-serif;font-weight:bold;font-size:18px" fill="#000">AA+</text><text transform="translate(567 278.00) scale(1.25 1)" style="font-family:'Liberation Serif',serif;font-size:19px" fill="#000">α</text><text x="579.3" y="278.00" style="font-family:'Liberation Sans',sans-serif;font-weight:bold;font-size:18px" fill="#000">CD4</text><path d="M553.00 336.50L595.50 335.30" stroke="#000" stroke-width="1.9"/><text x="562.40" y="333.10" style="font-family:'Liberation Sans',sans-serif;font-size:19px;letter-spacing:-1.05px" fill="#111">****</text><text transform="translate(453.70 294.60) rotate(-90)" text-anchor="end" style="font-family:'Liberation Sans',sans-serif;font-weight:bold;font-size:11.7px" fill="#111" stroke="#111" stroke-width="0.15">Geometric mean of Ly6c MFI</text></svg></body></html>
